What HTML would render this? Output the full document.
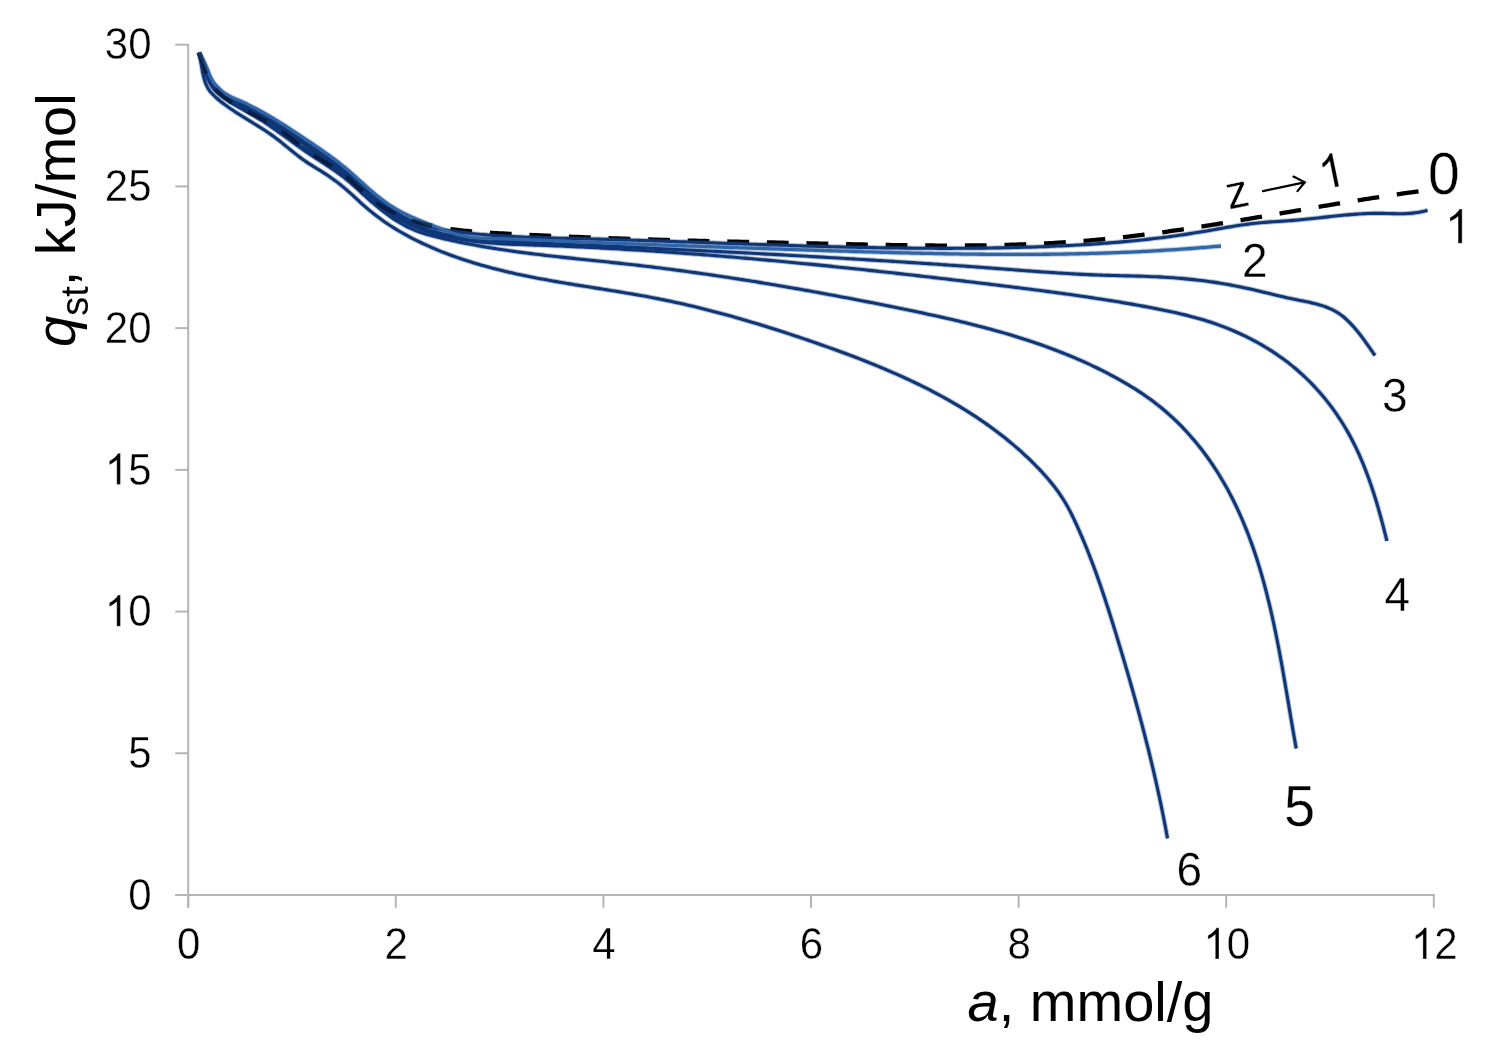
<!DOCTYPE html>
<html>
<head>
<meta charset="utf-8">
<style>
html, body { margin: 0; padding: 0; background: #fff; }
body { width: 1495px; height: 1056px; overflow: hidden; position: relative; }
svg { position: absolute; left: 0; top: 0; will-change: transform; }
text { font-family: "Liberation Sans", sans-serif; fill: #000; stroke: #fff; stroke-width: 0.35px; }
.one { fill: #000; stroke: #fff; stroke-width: 0.35px; }
#xtitle, #ytitle, #xtitle tspan, #ytitle tspan { stroke: none; }
</style>
</head>
<body>
<svg width="1495" height="1056" viewBox="0 0 1495 1056">
<rect x="0" y="0" width="1495" height="1056" fill="#fff"/>
<g>
<line x1="188.2" y1="43.7" x2="188.2" y2="907.7" stroke="#b4b4b4" stroke-width="2"/>
<line x1="175.3" y1="895.0" x2="1434.8" y2="895.0" stroke="#b4b4b4" stroke-width="2"/>
<line x1="175.3" y1="895.00" x2="188.2" y2="895.00" stroke="#b4b4b4" stroke-width="2"/>
<line x1="188.20" y1="895.0" x2="188.20" y2="907.7" stroke="#b4b4b4" stroke-width="2"/>
<line x1="175.3" y1="753.28" x2="188.2" y2="753.28" stroke="#b4b4b4" stroke-width="2"/>
<line x1="395.80" y1="895.0" x2="395.80" y2="907.7" stroke="#b4b4b4" stroke-width="2"/>
<line x1="175.3" y1="611.57" x2="188.2" y2="611.57" stroke="#b4b4b4" stroke-width="2"/>
<line x1="603.40" y1="895.0" x2="603.40" y2="907.7" stroke="#b4b4b4" stroke-width="2"/>
<line x1="175.3" y1="469.85" x2="188.2" y2="469.85" stroke="#b4b4b4" stroke-width="2"/>
<line x1="811.00" y1="895.0" x2="811.00" y2="907.7" stroke="#b4b4b4" stroke-width="2"/>
<line x1="175.3" y1="328.13" x2="188.2" y2="328.13" stroke="#b4b4b4" stroke-width="2"/>
<line x1="1018.60" y1="895.0" x2="1018.60" y2="907.7" stroke="#b4b4b4" stroke-width="2"/>
<line x1="175.3" y1="186.42" x2="188.2" y2="186.42" stroke="#b4b4b4" stroke-width="2"/>
<line x1="1226.20" y1="895.0" x2="1226.20" y2="907.7" stroke="#b4b4b4" stroke-width="2"/>
<line x1="175.3" y1="44.70" x2="188.2" y2="44.70" stroke="#b4b4b4" stroke-width="2"/>
<line x1="1433.80" y1="895.0" x2="1433.80" y2="907.7" stroke="#b4b4b4" stroke-width="2"/>
<g id="curves">
<path d="M198.95 52.53C199.19 53.15 199.91 55.00 200.37 56.24C200.83 57.49 201.27 58.75 201.71 60.01C202.14 61.27 202.57 62.54 203.00 63.81C203.43 65.08 203.85 66.36 204.29 67.63C204.73 68.90 205.17 70.17 205.64 71.43C206.10 72.69 206.58 73.95 207.09 75.18C207.61 76.41 208.15 77.64 208.75 78.82C209.35 80.01 210.00 81.17 210.69 82.30C211.39 83.43 212.14 84.52 212.93 85.59C213.72 86.65 214.56 87.69 215.43 88.69C216.30 89.70 217.21 90.67 218.14 91.62C219.08 92.56 220.05 93.48 221.04 94.36C222.03 95.25 223.04 96.11 224.08 96.94C225.11 97.78 226.17 98.58 227.24 99.36C228.31 100.15 229.41 100.91 230.51 101.65C231.62 102.39 232.74 103.11 233.87 103.81C235.01 104.52 236.16 105.20 237.31 105.88C238.47 106.55 239.64 107.21 240.82 107.86C242.00 108.51 243.18 109.14 244.37 109.78C245.56 110.41 246.76 111.03 247.96 111.65C249.16 112.27 250.37 112.88 251.57 113.50C252.78 114.11 253.99 114.72 255.19 115.34C256.39 115.95 257.60 116.57 258.80 117.19C260.00 117.81 261.20 118.44 262.38 119.08C263.57 119.71 264.76 120.35 265.93 121.01C267.11 121.66 268.28 122.33 269.43 123.01C270.59 123.69 271.73 124.38 272.86 125.10C273.99 125.81 275.11 126.54 276.22 127.29C277.32 128.03 278.42 128.79 279.50 129.57C280.59 130.34 281.66 131.13 282.73 131.93C283.80 132.72 284.85 133.53 285.91 134.34C286.97 135.15 288.02 135.97 289.07 136.79C290.11 137.62 291.16 138.44 292.20 139.27C293.25 140.09 294.29 140.92 295.34 141.75C296.39 142.57 297.44 143.39 298.49 144.21C299.55 145.02 300.61 145.83 301.67 146.63C302.74 147.43 303.81 148.23 304.89 149.01C305.97 149.79 307.07 150.56 308.17 151.31C309.27 152.07 310.38 152.81 311.50 153.54C312.62 154.27 313.74 154.99 314.87 155.70C316.00 156.42 317.13 157.12 318.26 157.82C319.39 158.51 320.52 159.20 321.65 159.89C322.77 160.58 323.89 161.26 325.01 161.95C326.13 162.64 327.24 163.32 328.34 164.01C329.45 164.70 330.55 165.39 331.65 166.10C332.74 166.80 333.83 167.51 334.92 168.24C336.00 168.96 337.08 169.70 338.15 170.45C339.22 171.21 340.29 171.98 341.35 172.77C342.41 173.57 343.47 174.38 344.51 175.22C345.56 176.06 346.60 176.93 347.64 177.81C348.68 178.70 349.71 179.61 350.74 180.54C351.77 181.46 352.79 182.40 353.82 183.35C354.85 184.29 355.87 185.25 356.90 186.20C357.92 187.16 358.95 188.12 359.98 189.07C361.01 190.02 362.04 190.97 363.08 191.91C364.12 192.84 365.17 193.77 366.22 194.68C367.27 195.58 368.33 196.47 369.39 197.34C370.46 198.20 371.54 199.04 372.62 199.86C373.70 200.69 374.80 201.49 375.90 202.26C376.99 203.04 378.10 203.80 379.22 204.54C380.33 205.28 381.46 205.99 382.59 206.69C383.71 207.39 384.85 208.07 386.00 208.72C387.14 209.38 388.29 210.02 389.45 210.64C390.61 211.27 391.78 211.87 392.95 212.45C394.12 213.04 395.30 213.61 396.48 214.16C397.67 214.71 398.86 215.24 400.06 215.76C401.25 216.27 402.46 216.77 403.67 217.26C404.88 217.74 406.09 218.21 407.31 218.66C408.53 219.12 409.76 219.55 410.99 219.98C412.22 220.40 413.46 220.81 414.70 221.20C415.94 221.59 417.19 221.97 418.44 222.34C419.70 222.71 420.95 223.06 422.21 223.40C423.48 223.74 424.74 224.07 426.01 224.38C427.28 224.70 428.56 225.00 429.84 225.29C431.12 225.58 432.40 225.86 433.69 226.13C434.97 226.40 436.27 226.66 437.56 226.91C438.85 227.15 440.15 227.39 441.45 227.62C442.76 227.85 444.06 228.06 445.37 228.27C446.68 228.48 447.99 228.68 449.30 228.87C450.62 229.06 451.93 229.24 453.25 229.42C454.57 229.59 455.89 229.76 457.22 229.92C458.54 230.08 459.87 230.23 461.20 230.38C462.53 230.52 463.86 230.66 465.19 230.80C466.52 230.93 467.86 231.06 469.19 231.18C470.53 231.30 471.87 231.41 473.21 231.53C474.55 231.64 475.89 231.74 477.23 231.85C478.57 231.95 479.92 232.05 481.26 232.14C482.60 232.24 483.95 232.33 485.29 232.42C486.64 232.51 487.98 232.59 489.33 232.68C490.68 232.76 492.02 232.84 493.37 232.92C494.72 233.00 496.06 233.08 497.41 233.15C498.76 233.23 500.10 233.31 501.45 233.38C502.80 233.46 504.14 233.53 505.49 233.61C506.83 233.68 508.18 233.75 509.52 233.83C510.87 233.90 512.21 233.97 513.56 234.04C514.90 234.11 516.25 234.18 517.59 234.25C518.93 234.32 520.28 234.39 521.62 234.46C522.97 234.53 524.31 234.60 525.65 234.67C526.99 234.73 528.34 234.80 529.68 234.87C531.02 234.93 532.36 235.00 533.71 235.07C535.05 235.13 536.39 235.20 537.73 235.26C539.07 235.32 540.42 235.39 541.76 235.45C543.10 235.51 544.44 235.57 545.78 235.64C547.12 235.70 548.46 235.76 549.80 235.82C551.14 235.88 552.48 235.94 553.82 236.00C555.16 236.06 556.50 236.12 557.84 236.18C559.18 236.24 560.52 236.29 561.86 236.35C563.20 236.41 564.53 236.47 565.87 236.52C567.21 236.58 568.55 236.63 569.89 236.69C571.23 236.75 572.56 236.80 573.90 236.85C575.24 236.91 576.58 236.96 577.91 237.02C579.25 237.07 580.59 237.12 581.93 237.18C583.26 237.23 584.60 237.28 585.94 237.33C587.27 237.38 588.61 237.43 589.95 237.48C591.28 237.54 592.62 237.59 593.95 237.64C595.29 237.69 596.63 237.73 597.96 237.78C599.30 237.83 600.63 237.88 601.97 237.93C603.30 237.98 604.64 238.02 605.97 238.07C607.31 238.12 608.64 238.17 609.98 238.21C611.31 238.26 612.65 238.30 613.98 238.35C615.32 238.39 616.65 238.44 617.99 238.48C619.32 238.53 620.65 238.57 621.99 238.62C623.32 238.66 624.66 238.71 625.99 238.75C627.32 238.79 628.66 238.83 629.99 238.88C631.32 238.92 632.66 238.96 633.99 239.00C635.32 239.04 636.66 239.09 637.99 239.13C639.32 239.17 640.66 239.21 641.99 239.25C643.32 239.29 644.66 239.33 645.99 239.37C647.32 239.41 648.65 239.45 649.99 239.49C651.32 239.53 652.65 239.57 653.98 239.60C655.32 239.64 656.65 239.68 657.98 239.72C659.31 239.76 660.64 239.80 661.98 239.83C663.31 239.87 664.64 239.91 665.97 239.94C667.30 239.98 668.64 240.02 669.97 240.05C671.30 240.09 672.63 240.13 673.96 240.16C675.29 240.20 676.63 240.23 677.96 240.27C679.29 240.30 680.62 240.34 681.95 240.37C683.28 240.41 684.61 240.44 685.95 240.48C687.28 240.51 688.61 240.54 689.94 240.58C691.27 240.61 692.60 240.65 693.93 240.68C695.26 240.71 696.60 240.75 697.93 240.78C699.26 240.81 700.59 240.85 701.92 240.88C703.25 240.91 704.58 240.94 705.91 240.98C707.24 241.01 708.58 241.04 709.91 241.07C711.24 241.10 712.57 241.14 713.90 241.17C715.23 241.20 716.56 241.23 717.89 241.26C719.22 241.29 720.55 241.32 721.89 241.35C723.22 241.39 724.55 241.42 725.88 241.45C727.21 241.48 728.54 241.51 729.87 241.54C731.20 241.57 732.53 241.60 733.86 241.63C735.20 241.66 736.53 241.69 737.86 241.72C739.19 241.75 740.52 241.78 741.85 241.81C743.18 241.84 744.51 241.87 745.85 241.90C747.18 241.93 748.51 241.96 749.84 241.99C751.17 242.02 752.50 242.05 753.83 242.08C755.16 242.11 756.50 242.14 757.83 242.17C759.16 242.20 760.49 242.22 761.82 242.25C763.15 242.28 764.49 242.31 765.82 242.34C767.15 242.37 768.48 242.40 769.81 242.43C771.14 242.46 772.48 242.49 773.81 242.52C775.14 242.54 776.47 242.57 777.80 242.60C779.14 242.63 780.47 242.66 781.80 242.69C783.13 242.72 784.47 242.75 785.80 242.78C787.13 242.81 788.46 242.83 789.80 242.86C791.13 242.89 792.46 242.92 793.79 242.95C795.13 242.98 796.46 243.01 797.79 243.04C799.13 243.07 800.46 243.10 801.79 243.13C803.13 243.15 804.46 243.18 805.79 243.21C807.13 243.24 808.46 243.27 809.79 243.30C811.13 243.33 812.46 243.36 813.80 243.39C815.13 243.42 816.46 243.45 817.80 243.48C819.13 243.51 820.47 243.54 821.80 243.57C823.14 243.60 824.47 243.63 825.81 243.66C827.14 243.69 828.48 243.72 829.81 243.75C831.15 243.78 832.48 243.81 833.82 243.84C835.15 243.87 836.49 243.90 837.82 243.93C839.16 243.96 840.49 243.99 841.83 244.02C843.16 244.05 844.50 244.08 845.84 244.11C847.17 244.14 848.51 244.17 849.84 244.20C851.18 244.23 852.52 244.26 853.85 244.29C855.19 244.32 856.52 244.35 857.86 244.37C859.20 244.40 860.53 244.43 861.87 244.46C863.21 244.49 864.54 244.52 865.88 244.54C867.22 244.57 868.55 244.60 869.89 244.62C871.23 244.65 872.57 244.68 873.90 244.70C875.24 244.73 876.58 244.76 877.91 244.78C879.25 244.81 880.59 244.83 881.93 244.86C883.26 244.88 884.60 244.91 885.94 244.93C887.27 244.95 888.61 244.98 889.95 245.00C891.29 245.02 892.62 245.05 893.96 245.07C895.30 245.09 896.64 245.11 897.97 245.13C899.31 245.15 900.65 245.17 901.99 245.19C903.33 245.21 904.66 245.23 906.00 245.25C907.34 245.27 908.68 245.28 910.01 245.30C911.35 245.32 912.69 245.33 914.03 245.35C915.37 245.36 916.70 245.38 918.04 245.39C919.38 245.41 920.72 245.42 922.05 245.43C923.39 245.45 924.73 245.46 926.07 245.47C927.41 245.48 928.74 245.49 930.08 245.50C931.42 245.51 932.76 245.52 934.09 245.52C935.43 245.53 936.77 245.54 938.11 245.54C939.45 245.55 940.78 245.55 942.12 245.56C943.46 245.56 944.80 245.57 946.13 245.57C947.47 245.57 948.81 245.57 950.15 245.57C951.48 245.57 952.82 245.57 954.16 245.57C955.50 245.57 956.83 245.56 958.17 245.56C959.51 245.55 960.85 245.55 962.18 245.54C963.52 245.54 964.86 245.53 966.20 245.52C967.53 245.51 968.87 245.50 970.21 245.49C971.54 245.48 972.88 245.47 974.22 245.45C975.56 245.44 976.89 245.43 978.23 245.41C979.57 245.39 980.90 245.38 982.24 245.36C983.58 245.34 984.91 245.32 986.25 245.30C987.59 245.28 988.92 245.26 990.26 245.23C991.60 245.21 992.93 245.18 994.27 245.16C995.60 245.13 996.94 245.10 998.28 245.07C999.61 245.04 1000.95 245.01 1002.28 244.98C1003.62 244.95 1004.96 244.92 1006.29 244.88C1007.63 244.85 1008.96 244.81 1010.30 244.77C1011.63 244.73 1012.97 244.69 1014.30 244.65C1015.64 244.61 1016.97 244.57 1018.31 244.52C1019.64 244.48 1020.98 244.43 1022.31 244.39C1023.65 244.34 1024.98 244.29 1026.32 244.24C1027.65 244.19 1028.99 244.13 1030.32 244.08C1031.65 244.03 1032.99 243.97 1034.32 243.91C1035.66 243.85 1036.99 243.80 1038.32 243.73C1039.66 243.67 1040.99 243.61 1042.32 243.55C1043.66 243.48 1044.99 243.41 1046.32 243.35C1047.66 243.28 1048.99 243.21 1050.32 243.14C1051.65 243.06 1052.99 242.99 1054.32 242.91C1055.65 242.84 1056.98 242.76 1058.31 242.68C1059.65 242.60 1060.98 242.52 1062.31 242.43C1063.64 242.35 1064.97 242.27 1066.30 242.18C1067.64 242.09 1068.97 242.00 1070.30 241.91C1071.63 241.82 1072.96 241.72 1074.29 241.63C1075.62 241.53 1076.95 241.43 1078.28 241.33C1079.61 241.23 1080.94 241.13 1082.27 241.03C1083.60 240.92 1084.93 240.82 1086.26 240.71C1087.59 240.60 1088.92 240.49 1090.25 240.38C1091.58 240.26 1092.90 240.15 1094.23 240.03C1095.56 239.91 1096.89 239.80 1098.22 239.67C1099.55 239.55 1100.87 239.43 1102.20 239.30C1103.53 239.18 1104.86 239.05 1106.18 238.92C1107.51 238.79 1108.84 238.65 1110.16 238.52C1111.49 238.39 1112.82 238.25 1114.14 238.11C1115.47 237.97 1116.80 237.83 1118.12 237.69C1119.45 237.55 1120.77 237.40 1122.10 237.25C1123.42 237.11 1124.75 236.96 1126.08 236.81C1127.40 236.66 1128.73 236.51 1130.05 236.35C1131.38 236.20 1132.70 236.04 1134.02 235.89C1135.35 235.73 1136.67 235.57 1138.00 235.41C1139.32 235.25 1140.65 235.08 1141.97 234.92C1143.29 234.75 1144.62 234.59 1145.94 234.42C1147.26 234.25 1148.59 234.08 1149.91 233.91C1151.23 233.74 1152.56 233.57 1153.88 233.39C1155.20 233.22 1156.53 233.04 1157.85 232.87C1159.17 232.69 1160.49 232.51 1161.81 232.33C1163.14 232.15 1164.46 231.97 1165.78 231.79C1167.10 231.60 1168.43 231.42 1169.75 231.23C1171.07 231.05 1172.39 230.86 1173.71 230.67C1175.03 230.48 1176.35 230.29 1177.68 230.10C1179.00 229.91 1180.32 229.72 1181.64 229.52C1182.96 229.33 1184.28 229.14 1185.60 228.94C1186.92 228.74 1188.24 228.55 1189.56 228.35C1190.88 228.15 1192.20 227.95 1193.52 227.75C1194.84 227.55 1196.16 227.35 1197.48 227.14C1198.80 226.94 1200.12 226.74 1201.44 226.53C1202.76 226.33 1204.08 226.12 1205.40 225.91C1206.72 225.71 1208.04 225.50 1209.36 225.29C1210.68 225.08 1212.00 224.87 1213.32 224.66C1214.64 224.45 1215.96 224.24 1217.28 224.03C1218.60 223.82 1219.91 223.60 1221.23 223.39C1222.55 223.18 1223.87 222.96 1225.19 222.75C1226.51 222.53 1227.83 222.32 1229.15 222.10C1230.46 221.88 1231.78 221.67 1233.10 221.45C1234.42 221.23 1235.74 221.01 1237.06 220.79C1238.37 220.57 1239.69 220.35 1241.01 220.13C1242.33 219.91 1243.65 219.69 1244.96 219.47C1246.28 219.25 1247.60 219.03 1248.92 218.81C1250.24 218.58 1251.55 218.36 1252.87 218.14C1254.19 217.91 1255.51 217.69 1256.83 217.47C1258.14 217.24 1259.46 217.02 1260.78 216.79C1262.10 216.57 1263.41 216.35 1264.73 216.12C1266.05 215.90 1267.37 215.67 1268.68 215.44C1270.00 215.22 1271.32 214.99 1272.64 214.77C1273.95 214.54 1275.27 214.32 1276.59 214.09C1277.91 213.86 1279.22 213.64 1280.54 213.41C1281.86 213.18 1283.18 212.96 1284.49 212.73C1285.81 212.50 1287.13 212.28 1288.45 212.05C1289.76 211.82 1291.08 211.60 1292.40 211.37C1293.72 211.14 1295.03 210.92 1296.35 210.69C1297.67 210.47 1298.99 210.24 1300.30 210.01C1301.62 209.79 1302.94 209.56 1304.26 209.34C1305.57 209.11 1306.89 208.88 1308.21 208.66C1309.52 208.43 1310.84 208.21 1312.16 207.98C1313.48 207.76 1314.79 207.53 1316.11 207.31C1317.43 207.09 1318.75 206.86 1320.06 206.64C1321.38 206.41 1322.70 206.19 1324.02 205.97C1325.34 205.75 1326.65 205.52 1327.97 205.30C1329.29 205.08 1330.61 204.86 1331.92 204.64C1333.24 204.42 1334.56 204.20 1335.88 203.98C1337.19 203.76 1338.51 203.54 1339.83 203.32C1341.15 203.10 1342.47 202.88 1343.78 202.67C1345.10 202.45 1346.42 202.23 1347.74 202.02C1349.06 201.80 1350.38 201.59 1351.69 201.37C1353.01 201.16 1354.33 200.94 1355.65 200.73C1356.97 200.52 1358.29 200.31 1359.60 200.09C1360.92 199.88 1362.24 199.67 1363.56 199.46C1364.88 199.25 1366.20 199.04 1367.52 198.84C1368.83 198.63 1370.15 198.42 1371.47 198.22C1372.79 198.01 1374.11 197.81 1375.43 197.60C1376.75 197.40 1378.07 197.20 1379.39 196.99C1380.71 196.79 1382.03 196.59 1383.35 196.39C1384.67 196.19 1385.99 195.99 1387.30 195.80C1388.62 195.60 1389.94 195.40 1391.26 195.21C1392.58 195.01 1393.90 194.82 1395.22 194.63C1396.54 194.43 1397.87 194.24 1399.19 194.05C1400.51 193.86 1401.83 193.67 1403.15 193.49C1404.47 193.30 1405.79 193.11 1407.11 192.93C1408.43 192.75 1409.75 192.56 1411.07 192.38C1412.39 192.20 1413.71 192.02 1415.04 191.84C1416.36 191.66 1418.34 191.40 1419.00 191.31C1419.66 191.22 1419.00 191.31 1419.00 191.31" fill="none" stroke="#000" stroke-width="4.3" stroke-dasharray="21.8 17.8" stroke-dashoffset="39.05"/>
<path d="M198.96 52.53C199.13 53.34 199.66 55.76 199.99 57.39C200.31 59.02 200.60 60.66 200.89 62.30C201.18 63.95 201.45 65.61 201.74 67.27C202.03 68.92 202.30 70.59 202.63 72.25C202.96 73.90 203.30 75.56 203.72 77.19C204.13 78.83 204.58 80.46 205.13 82.03C205.69 83.60 206.30 85.16 207.05 86.62C207.80 88.08 208.65 89.48 209.63 90.80C210.60 92.12 211.72 93.35 212.87 94.55C214.02 95.74 215.28 96.86 216.54 97.97C217.79 99.08 219.09 100.14 220.39 101.20C221.69 102.25 223.02 103.27 224.35 104.28C225.69 105.28 227.05 106.26 228.41 107.23C229.78 108.20 231.16 109.14 232.55 110.08C233.93 111.01 235.34 111.93 236.74 112.84C238.15 113.75 239.57 114.64 240.99 115.54C242.41 116.43 243.84 117.31 245.26 118.19C246.69 119.07 248.13 119.94 249.56 120.82C250.99 121.70 252.42 122.57 253.85 123.45C255.28 124.33 256.70 125.21 258.12 126.10C259.54 126.99 260.96 127.88 262.37 128.78C263.77 129.69 265.18 130.60 266.56 131.53C267.95 132.46 269.33 133.40 270.70 134.36C272.06 135.32 273.42 136.29 274.76 137.29C276.09 138.28 277.42 139.30 278.73 140.32C280.05 141.34 281.35 142.39 282.65 143.43C283.95 144.48 285.24 145.53 286.53 146.59C287.82 147.64 289.11 148.70 290.40 149.75C291.70 150.80 292.99 151.86 294.30 152.90C295.60 153.94 296.91 154.97 298.23 155.99C299.55 157.01 300.88 158.02 302.23 159.00C303.58 159.98 304.94 160.95 306.32 161.89C307.70 162.83 309.11 163.74 310.52 164.64C311.93 165.54 313.37 166.41 314.80 167.29C316.23 168.17 317.67 169.04 319.10 169.92C320.53 170.80 321.96 171.68 323.37 172.58C324.79 173.48 326.19 174.40 327.58 175.33C328.97 176.27 330.35 177.22 331.71 178.18C333.08 179.15 334.43 180.13 335.77 181.13C337.11 182.13 338.44 183.14 339.75 184.17C341.06 185.20 342.36 186.25 343.64 187.32C344.93 188.38 346.20 189.47 347.45 190.56C348.71 191.66 349.95 192.77 351.19 193.89C352.43 195.01 353.65 196.14 354.88 197.27C356.11 198.40 357.33 199.54 358.56 200.67C359.79 201.80 361.02 202.94 362.25 204.06C363.49 205.18 364.73 206.29 365.99 207.39C367.25 208.49 368.52 209.58 369.80 210.64C371.09 211.71 372.39 212.76 373.70 213.79C375.01 214.83 376.34 215.85 377.68 216.85C379.01 217.85 380.37 218.83 381.73 219.80C383.09 220.77 384.47 221.73 385.85 222.67C387.24 223.61 388.64 224.53 390.04 225.44C391.45 226.35 392.87 227.24 394.29 228.12C395.72 229.00 397.15 229.87 398.60 230.72C400.04 231.57 401.49 232.41 402.95 233.24C404.41 234.06 405.88 234.87 407.35 235.67C408.82 236.47 410.30 237.25 411.79 238.02C413.27 238.79 414.76 239.55 416.26 240.30C417.75 241.05 419.25 241.78 420.76 242.50C422.26 243.23 423.77 243.93 425.29 244.63C426.80 245.33 428.32 246.02 429.84 246.69C431.37 247.37 432.90 248.03 434.43 248.68C435.96 249.34 437.50 249.98 439.04 250.61C440.58 251.24 442.13 251.86 443.68 252.46C445.23 253.07 446.78 253.67 448.34 254.26C449.90 254.85 451.46 255.42 453.02 255.99C454.59 256.56 456.16 257.11 457.73 257.66C459.30 258.21 460.88 258.75 462.46 259.28C464.04 259.81 465.62 260.32 467.20 260.83C468.79 261.34 470.38 261.84 471.97 262.34C473.56 262.83 475.16 263.31 476.75 263.79C478.35 264.26 479.95 264.73 481.55 265.19C483.16 265.64 484.76 266.09 486.37 266.54C487.98 266.98 489.59 267.41 491.20 267.84C492.81 268.26 494.43 268.68 496.04 269.09C497.66 269.51 499.28 269.91 500.90 270.31C502.52 270.70 504.14 271.09 505.77 271.48C507.39 271.86 509.02 272.24 510.65 272.61C512.28 272.98 513.91 273.34 515.54 273.70C517.17 274.06 518.80 274.41 520.44 274.76C522.07 275.11 523.71 275.45 525.35 275.79C526.98 276.12 528.62 276.45 530.26 276.78C531.90 277.11 533.54 277.43 535.19 277.74C536.83 278.06 538.47 278.37 540.12 278.68C541.76 278.99 543.41 279.29 545.06 279.60C546.70 279.90 548.35 280.19 550.00 280.49C551.65 280.78 553.30 281.07 554.95 281.36C556.60 281.65 558.25 281.93 559.90 282.21C561.56 282.49 563.21 282.77 564.86 283.05C566.51 283.33 568.17 283.60 569.82 283.87C571.48 284.15 573.13 284.42 574.79 284.69C576.44 284.95 578.10 285.22 579.75 285.49C581.41 285.76 583.06 286.02 584.72 286.29C586.37 286.55 588.03 286.81 589.69 287.08C591.34 287.34 593.00 287.60 594.65 287.87C596.31 288.13 597.97 288.39 599.62 288.65C601.28 288.92 602.93 289.18 604.59 289.45C606.24 289.71 607.90 289.97 609.55 290.24C611.21 290.51 612.86 290.77 614.51 291.04C616.17 291.31 617.82 291.58 619.47 291.85C621.12 292.12 622.78 292.39 624.43 292.67C626.08 292.94 627.73 293.22 629.38 293.50C631.03 293.78 632.68 294.06 634.32 294.35C635.97 294.63 637.62 294.92 639.27 295.21C640.91 295.50 642.56 295.80 644.20 296.10C645.84 296.39 647.49 296.70 649.13 297.00C650.77 297.31 652.41 297.62 654.05 297.93C655.68 298.24 657.32 298.56 658.96 298.88C660.59 299.21 662.23 299.53 663.86 299.87C665.49 300.20 667.13 300.54 668.76 300.88C670.39 301.22 672.01 301.56 673.64 301.92C675.27 302.27 676.89 302.62 678.52 302.98C680.14 303.34 681.77 303.70 683.39 304.07C685.01 304.44 686.63 304.81 688.25 305.19C689.87 305.57 691.49 305.95 693.10 306.34C694.72 306.72 696.34 307.11 697.95 307.51C699.57 307.90 701.18 308.30 702.79 308.70C704.41 309.10 706.02 309.51 707.63 309.92C709.24 310.33 710.85 310.74 712.46 311.16C714.06 311.58 715.67 312.00 717.28 312.43C718.88 312.85 720.49 313.28 722.09 313.72C723.70 314.15 725.30 314.59 726.91 315.03C728.51 315.47 730.11 315.91 731.71 316.36C733.31 316.81 734.91 317.26 736.51 317.72C738.11 318.17 739.71 318.63 741.31 319.09C742.91 319.55 744.51 320.02 746.10 320.49C747.70 320.96 749.29 321.43 750.89 321.90C752.49 322.38 754.08 322.86 755.67 323.34C757.27 323.82 758.86 324.31 760.46 324.79C762.05 325.28 763.64 325.77 765.23 326.27C766.83 326.76 768.42 327.26 770.01 327.76C771.60 328.26 773.19 328.76 774.78 329.26C776.37 329.77 777.96 330.28 779.55 330.79C781.14 331.30 782.73 331.81 784.32 332.33C785.91 332.85 787.50 333.37 789.09 333.89C790.67 334.41 792.26 334.93 793.85 335.46C795.44 335.99 797.03 336.52 798.61 337.05C800.20 337.58 801.79 338.11 803.38 338.65C804.96 339.19 806.55 339.73 808.14 340.27C809.73 340.81 811.31 341.35 812.90 341.90C814.49 342.44 816.07 342.99 817.66 343.54C819.25 344.09 820.83 344.64 822.42 345.20C824.00 345.76 825.59 346.31 827.17 346.88C828.76 347.44 830.34 348.00 831.92 348.57C833.51 349.14 835.09 349.71 836.67 350.28C838.25 350.85 839.83 351.43 841.41 352.01C842.99 352.59 844.57 353.17 846.15 353.76C847.72 354.35 849.30 354.94 850.87 355.53C852.45 356.12 854.02 356.72 855.59 357.32C857.16 357.92 858.73 358.53 860.30 359.14C861.87 359.75 863.43 360.36 865.00 360.98C866.56 361.59 868.13 362.21 869.69 362.84C871.25 363.46 872.81 364.09 874.37 364.73C875.92 365.36 877.48 366.00 879.03 366.64C880.58 367.29 882.13 367.93 883.68 368.59C885.23 369.24 886.77 369.89 888.32 370.56C889.86 371.22 891.40 371.88 892.94 372.56C894.47 373.23 896.01 373.90 897.54 374.59C899.07 375.27 900.60 375.95 902.13 376.65C903.66 377.34 905.18 378.04 906.70 378.74C908.22 379.44 909.74 380.15 911.25 380.86C912.76 381.58 914.28 382.30 915.78 383.02C917.29 383.75 918.79 384.48 920.29 385.22C921.79 385.95 923.29 386.70 924.78 387.45C926.28 388.20 927.76 388.95 929.25 389.71C930.73 390.48 932.22 391.24 933.69 392.02C935.17 392.79 936.64 393.57 938.11 394.36C939.58 395.15 941.05 395.94 942.51 396.74C943.97 397.54 945.43 398.35 946.88 399.16C948.33 399.98 949.78 400.80 951.22 401.62C952.66 402.45 954.10 403.29 955.53 404.13C956.97 404.97 958.40 405.82 959.82 406.68C961.25 407.53 962.66 408.40 964.08 409.27C965.49 410.14 966.90 411.02 968.31 411.90C969.71 412.79 971.11 413.69 972.50 414.59C973.89 415.49 975.28 416.40 976.66 417.32C978.05 418.23 979.42 419.16 980.80 420.09C982.17 421.03 983.53 421.97 984.89 422.92C986.25 423.87 987.61 424.83 988.96 425.79C990.30 426.76 991.65 427.73 992.98 428.72C994.32 429.70 995.65 430.69 996.97 431.69C998.30 432.69 999.62 433.70 1000.93 434.72C1002.24 435.74 1003.54 436.77 1004.84 437.80C1006.14 438.84 1007.43 439.88 1008.72 440.94C1010.00 441.99 1011.28 443.06 1012.56 444.13C1013.83 445.20 1015.09 446.28 1016.35 447.38C1017.61 448.47 1018.86 449.57 1020.11 450.68C1021.35 451.79 1022.59 452.91 1023.82 454.04C1025.05 455.17 1026.27 456.31 1027.48 457.46C1028.70 458.61 1029.91 459.77 1031.11 460.94C1032.31 462.11 1033.50 463.29 1034.69 464.48C1035.87 465.67 1037.05 466.87 1038.22 468.08C1039.38 469.29 1040.54 470.52 1041.69 471.75C1042.83 472.98 1043.97 474.23 1045.08 475.48C1046.20 476.74 1047.31 478.01 1048.40 479.29C1049.49 480.57 1050.56 481.86 1051.62 483.17C1052.68 484.47 1053.72 485.79 1054.73 487.12C1055.75 488.45 1056.75 489.80 1057.73 491.16C1058.71 492.52 1059.67 493.89 1060.60 495.27C1061.53 496.66 1062.44 498.06 1063.33 499.47C1064.21 500.89 1065.07 502.32 1065.91 503.76C1066.75 505.20 1067.56 506.66 1068.36 508.13C1069.15 509.59 1069.93 511.07 1070.69 512.55C1071.45 514.04 1072.19 515.54 1072.92 517.04C1073.65 518.54 1074.36 520.05 1075.07 521.56C1075.77 523.07 1076.47 524.59 1077.16 526.11C1077.85 527.63 1078.53 529.16 1079.20 530.68C1079.87 532.21 1080.54 533.74 1081.20 535.27C1081.86 536.80 1082.52 538.34 1083.16 539.87C1083.81 541.41 1084.45 542.95 1085.08 544.50C1085.72 546.04 1086.34 547.58 1086.97 549.13C1087.59 550.68 1088.20 552.23 1088.81 553.78C1089.42 555.33 1090.03 556.89 1090.62 558.44C1091.22 560.00 1091.81 561.56 1092.40 563.12C1092.99 564.68 1093.57 566.25 1094.15 567.81C1094.73 569.38 1095.30 570.94 1095.87 572.51C1096.43 574.08 1097.00 575.65 1097.55 577.23C1098.11 578.80 1098.67 580.37 1099.21 581.95C1099.76 583.53 1100.31 585.10 1100.85 586.68C1101.39 588.26 1101.93 589.84 1102.46 591.42C1103.00 593.01 1103.53 594.59 1104.05 596.18C1104.58 597.76 1105.10 599.35 1105.62 600.93C1106.14 602.52 1106.66 604.11 1107.17 605.70C1107.68 607.29 1108.19 608.88 1108.70 610.47C1109.21 612.06 1109.71 613.66 1110.22 615.25C1110.72 616.84 1111.22 618.44 1111.72 620.03C1112.22 621.63 1112.71 623.22 1113.21 624.82C1113.70 626.42 1114.19 628.01 1114.68 629.61C1115.17 631.21 1115.66 632.81 1116.15 634.41C1116.64 636.01 1117.12 637.60 1117.61 639.20C1118.09 640.80 1118.58 642.40 1119.06 644.00C1119.54 645.60 1120.02 647.20 1120.50 648.80C1120.98 650.41 1121.46 652.01 1121.94 653.61C1122.42 655.21 1122.89 656.81 1123.37 658.41C1123.84 660.02 1124.31 661.62 1124.79 663.22C1125.26 664.82 1125.73 666.43 1126.20 668.03C1126.66 669.63 1127.13 671.24 1127.60 672.84C1128.06 674.45 1128.53 676.05 1128.99 677.66C1129.45 679.26 1129.91 680.87 1130.37 682.48C1130.83 684.08 1131.29 685.69 1131.74 687.30C1132.20 688.90 1132.65 690.51 1133.10 692.12C1133.56 693.73 1134.01 695.33 1134.45 696.94C1134.90 698.55 1135.35 700.16 1135.79 701.77C1136.24 703.38 1136.68 704.99 1137.12 706.60C1137.56 708.21 1138.00 709.83 1138.44 711.44C1138.87 713.05 1139.31 714.66 1139.74 716.27C1140.18 717.89 1140.61 719.50 1141.03 721.11C1141.46 722.73 1141.89 724.34 1142.31 725.96C1142.74 727.57 1143.16 729.19 1143.58 730.80C1144.00 732.42 1144.42 734.04 1144.83 735.65C1145.25 737.27 1145.66 738.89 1146.07 740.51C1146.48 742.13 1146.89 743.75 1147.30 745.36C1147.70 746.98 1148.11 748.60 1148.51 750.23C1148.91 751.85 1149.31 753.47 1149.71 755.09C1150.10 756.71 1150.50 758.33 1150.89 759.96C1151.28 761.58 1151.67 763.20 1152.05 764.83C1152.44 766.45 1152.82 768.08 1153.21 769.70C1153.59 771.33 1153.96 772.96 1154.34 774.58C1154.72 776.21 1155.09 777.84 1155.46 779.47C1155.83 781.09 1156.20 782.72 1156.56 784.35C1156.93 785.98 1157.29 787.61 1157.65 789.24C1158.01 790.88 1158.36 792.51 1158.71 794.14C1159.07 795.77 1159.42 797.41 1159.77 799.04C1160.11 800.67 1160.46 802.31 1160.80 803.94C1161.14 805.58 1161.48 807.22 1161.81 808.85C1162.15 810.49 1162.48 812.13 1162.81 813.77C1163.14 815.40 1163.46 817.04 1163.79 818.68C1164.11 820.32 1164.43 821.96 1164.74 823.61C1165.06 825.25 1165.37 826.89 1165.68 828.53C1165.99 830.17 1166.30 831.82 1166.60 833.46C1166.91 835.11 1167.35 837.58 1167.50 838.40" fill="none" stroke="#0f3778" stroke-opacity="0.3" stroke-width="5.1" stroke-linejoin="round"/>
<path d="M198.96 52.51C199.20 53.31 199.91 55.71 200.39 57.30C200.87 58.89 201.35 60.49 201.85 62.08C202.35 63.67 202.86 65.25 203.39 66.83C203.92 68.41 204.46 69.99 205.03 71.56C205.60 73.13 206.19 74.70 206.83 76.25C207.46 77.80 208.11 79.35 208.84 80.85C209.57 82.35 210.33 83.84 211.20 85.24C212.06 86.65 212.99 88.01 214.04 89.28C215.09 90.55 216.26 91.73 217.49 92.86C218.72 93.98 220.08 95.00 221.41 96.01C222.75 97.02 224.13 97.99 225.52 98.94C226.90 99.89 228.29 100.80 229.70 101.70C231.11 102.61 232.53 103.48 233.95 104.35C235.38 105.21 236.82 106.05 238.26 106.89C239.70 107.73 241.16 108.55 242.61 109.37C244.06 110.19 245.52 111.00 246.98 111.82C248.43 112.64 249.89 113.45 251.33 114.28C252.78 115.11 254.22 115.94 255.66 116.79C257.09 117.64 258.51 118.51 259.92 119.39C261.33 120.27 262.73 121.16 264.13 122.07C265.52 122.98 266.91 123.90 268.29 124.82C269.67 125.75 271.04 126.69 272.40 127.64C273.77 128.59 275.13 129.55 276.49 130.51C277.85 131.47 279.20 132.44 280.55 133.41C281.90 134.38 283.25 135.36 284.60 136.34C285.95 137.31 287.29 138.30 288.64 139.28C289.99 140.26 291.33 141.24 292.68 142.22C294.03 143.20 295.38 144.17 296.74 145.15C298.09 146.12 299.45 147.09 300.81 148.05C302.18 149.01 303.54 149.97 304.92 150.92C306.29 151.87 307.67 152.81 309.06 153.74C310.45 154.67 311.84 155.60 313.24 156.52C314.63 157.44 316.04 158.35 317.44 159.26C318.84 160.17 320.24 161.08 321.64 161.99C323.04 162.90 324.44 163.81 325.84 164.73C327.23 165.65 328.62 166.57 330.00 167.50C331.39 168.43 332.76 169.36 334.13 170.31C335.50 171.26 336.85 172.21 338.20 173.19C339.54 174.16 340.88 175.14 342.19 176.14C343.51 177.15 344.81 178.16 346.10 179.20C347.38 180.24 348.65 181.30 349.91 182.37C351.17 183.44 352.41 184.53 353.65 185.63C354.89 186.72 356.12 187.83 357.35 188.95C358.57 190.06 359.80 191.18 361.02 192.31C362.25 193.43 363.48 194.56 364.71 195.68C365.95 196.80 367.18 197.93 368.43 199.05C369.69 200.16 370.94 201.28 372.22 202.38C373.49 203.48 374.77 204.58 376.06 205.66C377.35 206.74 378.66 207.82 379.97 208.87C381.29 209.93 382.61 210.98 383.95 212.00C385.29 213.02 386.64 214.03 388.01 215.02C389.37 216.01 390.75 216.98 392.14 217.92C393.53 218.86 394.93 219.78 396.34 220.67C397.76 221.56 399.19 222.43 400.63 223.27C402.08 224.10 403.54 224.91 405.01 225.69C406.48 226.46 407.97 227.20 409.47 227.91C410.97 228.61 412.49 229.28 414.02 229.92C415.55 230.55 417.10 231.14 418.66 231.70C420.22 232.27 421.80 232.80 423.38 233.30C424.96 233.81 426.56 234.28 428.16 234.74C429.76 235.20 431.37 235.63 432.98 236.05C434.59 236.47 436.21 236.87 437.83 237.27C439.45 237.67 441.07 238.06 442.70 238.44C444.32 238.82 445.95 239.19 447.57 239.56C449.20 239.93 450.82 240.29 452.45 240.64C454.08 241.00 455.71 241.34 457.34 241.69C458.97 242.03 460.60 242.36 462.23 242.69C463.87 243.02 465.50 243.34 467.14 243.66C468.77 243.98 470.41 244.29 472.04 244.60C473.68 244.90 475.32 245.20 476.96 245.50C478.59 245.80 480.23 246.09 481.88 246.37C483.52 246.66 485.16 246.94 486.80 247.21C488.44 247.49 490.08 247.76 491.73 248.02C493.37 248.29 495.02 248.55 496.66 248.81C498.31 249.06 499.95 249.31 501.60 249.56C503.25 249.81 504.90 250.05 506.55 250.29C508.19 250.53 509.84 250.77 511.49 251.00C513.14 251.23 514.79 251.46 516.44 251.69C518.10 251.91 519.75 252.14 521.40 252.35C523.05 252.57 524.70 252.79 526.36 253.00C528.01 253.21 529.66 253.42 531.32 253.63C532.97 253.83 534.63 254.04 536.28 254.24C537.94 254.44 539.59 254.64 541.25 254.83C542.91 255.03 544.56 255.22 546.22 255.42C547.88 255.61 549.53 255.80 551.19 255.99C552.85 256.17 554.51 256.36 556.17 256.54C557.82 256.73 559.48 256.91 561.14 257.09C562.80 257.27 564.46 257.45 566.12 257.63C567.78 257.81 569.44 257.99 571.10 258.16C572.75 258.34 574.41 258.52 576.07 258.69C577.73 258.87 579.39 259.04 581.05 259.21C582.71 259.39 584.37 259.56 586.03 259.73C587.69 259.91 589.35 260.08 591.01 260.25C592.67 260.42 594.33 260.60 595.99 260.77C597.65 260.94 599.31 261.12 600.97 261.29C602.63 261.46 604.29 261.64 605.95 261.81C607.61 261.99 609.27 262.16 610.93 262.34C612.59 262.51 614.25 262.69 615.91 262.87C617.56 263.05 619.22 263.22 620.88 263.41C622.54 263.59 624.20 263.77 625.85 263.95C627.51 264.13 629.17 264.32 630.83 264.51C632.48 264.69 634.14 264.88 635.80 265.07C637.45 265.26 639.11 265.45 640.76 265.65C642.42 265.84 644.08 266.04 645.73 266.23C647.39 266.43 649.04 266.63 650.69 266.83C652.35 267.03 654.00 267.23 655.66 267.44C657.31 267.64 658.96 267.85 660.62 268.06C662.27 268.26 663.92 268.47 665.58 268.68C667.23 268.89 668.88 269.11 670.53 269.32C672.18 269.53 673.84 269.75 675.49 269.97C677.14 270.18 678.79 270.40 680.44 270.62C682.09 270.85 683.74 271.07 685.39 271.29C687.04 271.51 688.69 271.74 690.34 271.97C691.99 272.19 693.64 272.42 695.29 272.65C696.94 272.88 698.59 273.11 700.24 273.35C701.88 273.58 703.53 273.82 705.18 274.05C706.83 274.29 708.48 274.53 710.12 274.76C711.77 275.00 713.42 275.25 715.07 275.49C716.71 275.73 718.36 275.97 720.01 276.22C721.65 276.46 723.30 276.71 724.95 276.96C726.59 277.21 728.24 277.46 729.88 277.71C731.53 277.96 733.18 278.21 734.82 278.47C736.47 278.72 738.11 278.98 739.76 279.23C741.40 279.49 743.05 279.75 744.69 280.01C746.34 280.27 747.98 280.53 749.62 280.79C751.27 281.05 752.91 281.32 754.56 281.58C756.20 281.85 757.84 282.12 759.49 282.38C761.13 282.65 762.77 282.92 764.42 283.19C766.06 283.46 767.70 283.74 769.35 284.01C770.99 284.28 772.63 284.56 774.27 284.83C775.92 285.11 777.56 285.39 779.20 285.67C780.84 285.94 782.48 286.22 784.13 286.51C785.77 286.79 787.41 287.07 789.05 287.35C790.69 287.64 792.33 287.92 793.98 288.21C795.62 288.50 797.26 288.78 798.90 289.07C800.54 289.36 802.18 289.65 803.82 289.94C805.46 290.23 807.10 290.53 808.74 290.82C810.39 291.11 812.03 291.41 813.67 291.70C815.31 292.00 816.95 292.30 818.59 292.60C820.23 292.90 821.87 293.19 823.51 293.50C825.15 293.80 826.79 294.10 828.43 294.40C830.07 294.71 831.71 295.01 833.35 295.31C834.99 295.62 836.63 295.93 838.26 296.23C839.90 296.54 841.54 296.85 843.18 297.16C844.82 297.47 846.46 297.78 848.10 298.09C849.74 298.41 851.38 298.72 853.02 299.03C854.66 299.35 856.30 299.66 857.94 299.98C859.57 300.30 861.21 300.61 862.85 300.93C864.49 301.25 866.13 301.57 867.77 301.89C869.41 302.21 871.05 302.53 872.69 302.85C874.32 303.18 875.96 303.50 877.60 303.83C879.24 304.15 880.88 304.48 882.52 304.80C884.16 305.13 885.80 305.46 887.43 305.78C889.07 306.11 890.71 306.44 892.35 306.77C893.99 307.10 895.63 307.43 897.27 307.77C898.91 308.10 900.54 308.43 902.18 308.77C903.82 309.10 905.46 309.44 907.10 309.77C908.74 310.11 910.37 310.45 912.01 310.79C913.65 311.13 915.29 311.47 916.92 311.82C918.56 312.16 920.20 312.51 921.83 312.85C923.47 313.20 925.10 313.55 926.74 313.90C928.37 314.26 930.01 314.61 931.64 314.97C933.27 315.32 934.91 315.68 936.54 316.04C938.17 316.40 939.80 316.77 941.44 317.13C943.07 317.50 944.70 317.87 946.33 318.24C947.96 318.61 949.58 318.98 951.21 319.36C952.84 319.74 954.47 320.12 956.09 320.50C957.72 320.89 959.34 321.27 960.97 321.66C962.59 322.05 964.21 322.45 965.83 322.84C967.45 323.24 969.07 323.64 970.69 324.04C972.31 324.45 973.93 324.86 975.55 325.27C977.16 325.68 978.78 326.10 980.39 326.51C982.00 326.93 983.62 327.36 985.23 327.79C986.84 328.21 988.45 328.65 990.05 329.08C991.66 329.52 993.27 329.96 994.87 330.40C996.48 330.85 998.08 331.30 999.68 331.75C1001.28 332.21 1002.88 332.67 1004.48 333.13C1006.08 333.60 1007.67 334.06 1009.26 334.54C1010.86 335.01 1012.45 335.49 1014.04 335.98C1015.63 336.46 1017.22 336.95 1018.80 337.45C1020.39 337.94 1021.98 338.44 1023.56 338.95C1025.14 339.45 1026.72 339.97 1028.30 340.48C1029.87 341.00 1031.45 341.52 1033.02 342.05C1034.60 342.58 1036.17 343.12 1037.73 343.66C1039.30 344.20 1040.87 344.75 1042.43 345.30C1044.00 345.85 1045.56 346.41 1047.12 346.98C1048.68 347.55 1050.23 348.12 1051.79 348.70C1053.34 349.28 1054.89 349.86 1056.44 350.45C1057.99 351.05 1059.53 351.65 1061.08 352.25C1062.62 352.86 1064.16 353.47 1065.70 354.09C1067.24 354.71 1068.77 355.34 1070.30 355.98C1071.83 356.61 1073.36 357.25 1074.89 357.90C1076.41 358.55 1077.94 359.21 1079.46 359.88C1080.98 360.54 1082.49 361.21 1084.01 361.89C1085.52 362.57 1087.03 363.26 1088.54 363.96C1090.05 364.65 1091.55 365.36 1093.05 366.07C1094.55 366.78 1096.05 367.50 1097.55 368.23C1099.04 368.96 1100.53 369.70 1102.02 370.44C1103.51 371.19 1104.99 371.94 1106.47 372.71C1107.95 373.47 1109.43 374.24 1110.90 375.02C1112.37 375.80 1113.84 376.59 1115.31 377.39C1116.77 378.19 1118.24 379.00 1119.69 379.82C1121.15 380.63 1122.60 381.46 1124.04 382.30C1125.49 383.14 1126.93 383.99 1128.36 384.85C1129.80 385.71 1131.23 386.57 1132.65 387.46C1134.07 388.34 1135.48 389.23 1136.89 390.13C1138.30 391.04 1139.70 391.95 1141.09 392.88C1142.48 393.81 1143.86 394.75 1145.24 395.70C1146.61 396.66 1147.98 397.62 1149.33 398.60C1150.69 399.58 1152.04 400.57 1153.38 401.57C1154.71 402.58 1156.04 403.60 1157.36 404.63C1158.68 405.66 1159.98 406.71 1161.28 407.77C1162.58 408.83 1163.86 409.91 1165.14 411.00C1166.41 412.08 1167.67 413.19 1168.92 414.30C1170.17 415.42 1171.41 416.55 1172.64 417.69C1173.87 418.84 1175.09 419.99 1176.29 421.16C1177.50 422.33 1178.69 423.51 1179.87 424.70C1181.06 425.89 1182.23 427.09 1183.39 428.31C1184.54 429.52 1185.69 430.75 1186.83 431.98C1187.96 433.22 1189.08 434.47 1190.19 435.72C1191.30 436.98 1192.40 438.25 1193.49 439.53C1194.58 440.80 1195.65 442.09 1196.71 443.38C1197.77 444.68 1198.82 445.98 1199.86 447.30C1200.90 448.61 1201.92 449.93 1202.94 451.26C1203.95 452.59 1204.95 453.93 1205.93 455.27C1206.92 456.61 1207.90 457.97 1208.86 459.33C1209.82 460.68 1210.77 462.05 1211.70 463.42C1212.64 464.79 1213.56 466.17 1214.47 467.56C1215.38 468.95 1216.28 470.34 1217.17 471.74C1218.06 473.14 1218.93 474.54 1219.79 475.95C1220.66 477.36 1221.51 478.78 1222.35 480.20C1223.19 481.63 1224.02 483.06 1224.83 484.49C1225.65 485.93 1226.45 487.37 1227.25 488.82C1228.04 490.27 1228.82 491.72 1229.60 493.18C1230.37 494.64 1231.13 496.10 1231.88 497.57C1232.63 499.04 1233.37 500.52 1234.10 502.00C1234.83 503.48 1235.55 504.97 1236.26 506.46C1236.97 507.95 1237.67 509.44 1238.36 510.95C1239.04 512.45 1239.72 513.95 1240.39 515.46C1241.06 516.98 1241.72 518.49 1242.37 520.01C1243.02 521.53 1243.66 523.06 1244.29 524.59C1244.93 526.12 1245.55 527.65 1246.16 529.19C1246.77 530.73 1247.38 532.27 1247.97 533.82C1248.57 535.36 1249.16 536.92 1249.73 538.47C1250.31 540.03 1250.88 541.59 1251.44 543.15C1252.01 544.71 1252.56 546.28 1253.11 547.85C1253.65 549.42 1254.19 550.99 1254.72 552.57C1255.25 554.15 1255.77 555.73 1256.28 557.31C1256.80 558.90 1257.30 560.49 1257.80 562.08C1258.30 563.67 1258.80 565.26 1259.28 566.86C1259.77 568.46 1260.24 570.06 1260.71 571.66C1261.19 573.27 1261.65 574.87 1262.11 576.48C1262.57 578.09 1263.02 579.70 1263.46 581.32C1263.91 582.93 1264.35 584.55 1264.78 586.17C1265.21 587.79 1265.64 589.41 1266.06 591.03C1266.48 592.65 1266.89 594.28 1267.30 595.91C1267.71 597.54 1268.11 599.17 1268.51 600.80C1268.91 602.43 1269.30 604.06 1269.69 605.70C1270.08 607.34 1270.46 608.97 1270.84 610.61C1271.21 612.25 1271.58 613.89 1271.95 615.53C1272.32 617.18 1272.68 618.82 1273.04 620.46C1273.40 622.11 1273.75 623.76 1274.10 625.40C1274.45 627.05 1274.80 628.70 1275.14 630.35C1275.48 632.00 1275.82 633.65 1276.16 635.30C1276.49 636.95 1276.82 638.60 1277.15 640.25C1277.47 641.91 1277.80 643.56 1278.12 645.21C1278.44 646.87 1278.75 648.52 1279.07 650.17C1279.38 651.83 1279.69 653.48 1280.00 655.14C1280.31 656.79 1280.61 658.45 1280.92 660.10C1281.22 661.76 1281.52 663.41 1281.82 665.06C1282.12 666.72 1282.41 668.37 1282.71 670.03C1283.00 671.68 1283.29 673.34 1283.58 674.99C1283.87 676.64 1284.16 678.29 1284.44 679.95C1284.73 681.60 1285.02 683.25 1285.30 684.90C1285.58 686.55 1285.86 688.20 1286.15 689.85C1286.43 691.50 1286.71 693.15 1286.99 694.79C1287.27 696.44 1287.54 698.08 1287.82 699.73C1288.10 701.37 1288.38 703.02 1288.65 704.66C1288.93 706.30 1289.20 707.94 1289.48 709.58C1289.76 711.21 1290.03 712.85 1290.31 714.49C1290.58 716.12 1290.86 717.75 1291.14 719.38C1291.41 721.02 1291.69 722.64 1291.97 724.27C1292.24 725.90 1292.52 727.52 1292.80 729.15C1293.08 730.77 1293.36 732.39 1293.64 734.01C1293.92 735.62 1294.20 737.24 1294.48 738.85C1294.77 740.47 1295.05 742.08 1295.34 743.68C1295.62 745.29 1296.06 747.70 1296.20 748.50" fill="none" stroke="#0f3778" stroke-opacity="0.3" stroke-width="5.1" stroke-linejoin="round"/>
<path d="M198.98 52.51C199.26 53.30 200.12 55.68 200.68 57.25C201.25 58.82 201.80 60.37 202.35 61.94C202.91 63.50 203.46 65.05 204.02 66.62C204.59 68.19 205.14 69.76 205.73 71.34C206.32 72.92 206.91 74.52 207.56 76.08C208.22 77.64 208.89 79.20 209.65 80.69C210.41 82.18 211.23 83.64 212.14 85.01C213.06 86.38 214.06 87.67 215.14 88.90C216.21 90.14 217.38 91.30 218.59 92.41C219.81 93.52 221.10 94.57 222.42 95.58C223.75 96.59 225.13 97.54 226.54 98.47C227.95 99.39 229.40 100.28 230.87 101.14C232.33 102.00 233.82 102.83 235.31 103.65C236.80 104.47 238.31 105.26 239.80 106.06C241.29 106.85 242.77 107.63 244.25 108.41C245.73 109.20 247.21 109.97 248.67 110.75C250.14 111.53 251.60 112.30 253.05 113.09C254.50 113.88 255.95 114.66 257.38 115.46C258.82 116.27 260.25 117.07 261.67 117.90C263.10 118.73 264.51 119.56 265.91 120.42C267.32 121.28 268.72 122.16 270.10 123.06C271.49 123.97 272.87 124.90 274.24 125.85C275.61 126.80 276.97 127.78 278.33 128.78C279.68 129.77 281.03 130.79 282.38 131.81C283.73 132.84 285.07 133.88 286.42 134.91C287.76 135.95 289.10 137.00 290.45 138.03C291.80 139.07 293.14 140.10 294.50 141.12C295.85 142.14 297.21 143.16 298.58 144.15C299.95 145.14 301.32 146.12 302.71 147.06C304.10 148.01 305.49 148.93 306.91 149.82C308.32 150.71 309.74 151.56 311.17 152.40C312.60 153.24 314.05 154.04 315.48 154.86C316.91 155.68 318.35 156.49 319.77 157.32C321.20 158.16 322.61 159.00 324.01 159.88C325.40 160.76 326.78 161.67 328.14 162.61C329.51 163.54 330.86 164.51 332.19 165.49C333.53 166.47 334.86 167.48 336.17 168.51C337.48 169.53 338.78 170.58 340.08 171.64C341.37 172.71 342.66 173.79 343.93 174.88C345.21 175.97 346.48 177.07 347.75 178.19C349.01 179.30 350.27 180.42 351.53 181.55C352.79 182.68 354.04 183.82 355.29 184.95C356.55 186.09 357.80 187.23 359.05 188.37C360.30 189.51 361.55 190.65 362.81 191.79C364.06 192.92 365.32 194.05 366.58 195.18C367.84 196.30 369.11 197.42 370.38 198.53C371.65 199.63 372.93 200.73 374.22 201.81C375.50 202.89 376.80 203.96 378.10 205.01C379.41 206.06 380.72 207.10 382.05 208.11C383.38 209.12 384.71 210.12 386.07 211.08C387.42 212.05 388.78 213.00 390.17 213.92C391.55 214.83 392.95 215.72 394.36 216.59C395.77 217.45 397.20 218.28 398.64 219.09C400.09 219.90 401.54 220.68 403.02 221.44C404.49 222.20 405.97 222.93 407.47 223.64C408.96 224.35 410.47 225.03 411.99 225.69C413.51 226.35 415.04 226.98 416.58 227.60C418.13 228.21 419.68 228.80 421.24 229.37C422.80 229.94 424.37 230.48 425.95 231.01C427.53 231.53 429.12 232.04 430.71 232.52C432.31 233.01 433.91 233.47 435.52 233.92C437.13 234.36 438.75 234.79 440.37 235.20C441.99 235.60 443.61 235.99 445.24 236.37C446.87 236.74 448.51 237.09 450.15 237.43C451.79 237.77 453.43 238.09 455.07 238.40C456.72 238.70 458.37 238.99 460.01 239.27C461.66 239.55 463.31 239.81 464.96 240.06C466.62 240.30 468.27 240.54 469.92 240.76C471.58 240.98 473.23 241.19 474.89 241.38C476.54 241.58 478.20 241.76 479.86 241.94C481.52 242.11 483.18 242.28 484.84 242.43C486.50 242.58 488.16 242.73 489.82 242.86C491.49 243.00 493.15 243.12 494.81 243.24C496.48 243.36 498.14 243.47 499.81 243.58C501.47 243.68 503.14 243.78 504.81 243.87C506.47 243.96 508.14 244.05 509.81 244.13C511.48 244.21 513.15 244.29 514.82 244.36C516.48 244.43 518.15 244.50 519.82 244.57C521.49 244.63 523.16 244.69 524.83 244.76C526.50 244.82 528.17 244.88 529.84 244.94C531.51 245.00 533.18 245.05 534.85 245.11C536.53 245.17 538.20 245.23 539.87 245.29C541.54 245.35 543.21 245.41 544.88 245.47C546.55 245.53 548.22 245.60 549.89 245.66C551.56 245.73 553.23 245.79 554.90 245.86C556.57 245.93 558.24 245.99 559.91 246.06C561.58 246.13 563.25 246.20 564.92 246.27C566.59 246.35 568.25 246.42 569.92 246.49C571.59 246.57 573.26 246.64 574.93 246.72C576.60 246.80 578.27 246.87 579.94 246.95C581.61 247.03 583.28 247.11 584.95 247.19C586.61 247.27 588.28 247.36 589.95 247.44C591.62 247.52 593.29 247.61 594.96 247.69C596.63 247.78 598.29 247.86 599.96 247.95C601.63 248.04 603.30 248.13 604.97 248.22C606.64 248.31 608.30 248.40 609.97 248.49C611.64 248.58 613.31 248.68 614.98 248.77C616.64 248.87 618.31 248.96 619.98 249.06C621.65 249.15 623.31 249.25 624.98 249.35C626.65 249.45 628.32 249.55 629.98 249.65C631.65 249.75 633.32 249.85 634.99 249.95C636.65 250.06 638.32 250.16 639.99 250.27C641.65 250.37 643.32 250.48 644.99 250.58C646.66 250.69 648.32 250.80 649.99 250.91C651.66 251.02 653.32 251.13 654.99 251.24C656.66 251.35 658.32 251.46 659.99 251.57C661.65 251.69 663.32 251.80 664.99 251.92C666.65 252.03 668.32 252.15 669.99 252.26C671.65 252.38 673.32 252.50 674.98 252.62C676.65 252.74 678.32 252.86 679.98 252.98C681.65 253.10 683.31 253.22 684.98 253.34C686.64 253.46 688.31 253.59 689.98 253.71C691.64 253.84 693.31 253.96 694.97 254.09C696.64 254.21 698.30 254.34 699.97 254.47C701.63 254.60 703.30 254.73 704.96 254.86C706.63 254.99 708.29 255.12 709.96 255.25C711.62 255.38 713.29 255.52 714.95 255.65C716.62 255.78 718.28 255.92 719.95 256.05C721.61 256.19 723.28 256.32 724.94 256.46C726.60 256.60 728.27 256.74 729.93 256.88C731.60 257.01 733.26 257.15 734.93 257.29C736.59 257.44 738.25 257.58 739.92 257.72C741.58 257.86 743.25 258.00 744.91 258.15C746.57 258.29 748.24 258.44 749.90 258.58C751.57 258.73 753.23 258.87 754.89 259.02C756.56 259.17 758.22 259.32 759.88 259.47C761.55 259.61 763.21 259.76 764.88 259.91C766.54 260.06 768.20 260.22 769.87 260.37C771.53 260.52 773.19 260.67 774.85 260.83C776.52 260.98 778.18 261.13 779.84 261.29C781.51 261.44 783.17 261.60 784.83 261.76C786.50 261.91 788.16 262.07 789.82 262.23C791.48 262.39 793.15 262.54 794.81 262.70C796.47 262.86 798.13 263.02 799.80 263.19C801.46 263.35 803.12 263.51 804.78 263.67C806.45 263.83 808.11 264.00 809.77 264.16C811.43 264.32 813.10 264.49 814.76 264.65C816.42 264.82 818.08 264.98 819.74 265.15C821.41 265.32 823.07 265.48 824.73 265.65C826.39 265.82 828.05 265.99 829.72 266.16C831.38 266.33 833.04 266.50 834.70 266.67C836.36 266.84 838.02 267.01 839.69 267.18C841.35 267.35 843.01 267.53 844.67 267.70C846.33 267.87 847.99 268.05 849.65 268.22C851.32 268.39 852.98 268.57 854.64 268.75C856.30 268.92 857.96 269.10 859.62 269.27C861.28 269.45 862.94 269.63 864.60 269.81C866.27 269.98 867.93 270.16 869.59 270.34C871.25 270.52 872.91 270.70 874.57 270.88C876.23 271.06 877.89 271.24 879.55 271.42C881.21 271.61 882.87 271.79 884.53 271.97C886.19 272.15 887.85 272.34 889.52 272.52C891.18 272.70 892.84 272.89 894.50 273.07C896.16 273.26 897.82 273.44 899.48 273.63C901.14 273.82 902.80 274.00 904.46 274.19C906.12 274.38 907.78 274.56 909.44 274.75C911.10 274.94 912.76 275.13 914.42 275.32C916.08 275.51 917.74 275.69 919.40 275.88C921.06 276.07 922.72 276.27 924.38 276.46C926.04 276.65 927.70 276.84 929.36 277.03C931.02 277.22 932.68 277.41 934.33 277.61C935.99 277.80 937.65 277.99 939.31 278.19C940.97 278.38 942.63 278.57 944.29 278.77C945.95 278.96 947.61 279.16 949.27 279.35C950.93 279.55 952.59 279.75 954.25 279.94C955.91 280.14 957.57 280.33 959.22 280.53C960.88 280.73 962.54 280.93 964.20 281.12C965.86 281.32 967.52 281.52 969.18 281.72C970.84 281.92 972.50 282.12 974.15 282.32C975.81 282.52 977.47 282.72 979.13 282.92C980.79 283.12 982.45 283.32 984.11 283.52C985.77 283.72 987.42 283.92 989.08 284.12C990.74 284.32 992.40 284.53 994.06 284.73C995.72 284.93 997.37 285.13 999.03 285.34C1000.69 285.54 1002.35 285.74 1004.01 285.95C1005.67 286.15 1007.32 286.35 1008.98 286.56C1010.64 286.76 1012.30 286.97 1013.96 287.18C1015.61 287.38 1017.27 287.59 1018.93 287.79C1020.59 288.00 1022.25 288.21 1023.90 288.42C1025.56 288.63 1027.22 288.84 1028.88 289.05C1030.53 289.26 1032.19 289.47 1033.85 289.68C1035.50 289.89 1037.16 290.11 1038.82 290.32C1040.47 290.53 1042.13 290.75 1043.79 290.97C1045.44 291.18 1047.10 291.40 1048.76 291.62C1050.41 291.84 1052.07 292.06 1053.72 292.28C1055.38 292.50 1057.03 292.72 1058.69 292.95C1060.34 293.17 1062.00 293.40 1063.65 293.63C1065.31 293.85 1066.96 294.08 1068.62 294.31C1070.27 294.54 1071.92 294.78 1073.58 295.01C1075.23 295.24 1076.88 295.48 1078.54 295.72C1080.19 295.96 1081.84 296.19 1083.49 296.44C1085.15 296.68 1086.80 296.92 1088.45 297.17C1090.10 297.41 1091.75 297.66 1093.40 297.91C1095.05 298.16 1096.70 298.41 1098.36 298.67C1100.01 298.92 1101.65 299.18 1103.30 299.43C1104.95 299.69 1106.60 299.95 1108.25 300.22C1109.90 300.48 1111.55 300.75 1113.20 301.01C1114.84 301.28 1116.49 301.55 1118.14 301.83C1119.78 302.10 1121.43 302.38 1123.08 302.66C1124.72 302.93 1126.37 303.22 1128.01 303.50C1129.66 303.78 1131.30 304.07 1132.95 304.36C1134.59 304.65 1136.23 304.95 1137.88 305.24C1139.52 305.54 1141.16 305.84 1142.81 306.14C1144.45 306.44 1146.09 306.75 1147.73 307.05C1149.37 307.36 1151.01 307.67 1152.65 307.99C1154.29 308.30 1155.93 308.62 1157.57 308.94C1159.21 309.27 1160.85 309.59 1162.48 309.92C1164.12 310.26 1165.75 310.59 1167.39 310.93C1169.02 311.28 1170.66 311.62 1172.29 311.98C1173.92 312.33 1175.55 312.70 1177.17 313.07C1178.80 313.44 1180.43 313.81 1182.05 314.20C1183.67 314.59 1185.30 314.98 1186.91 315.38C1188.53 315.79 1190.15 316.20 1191.76 316.63C1193.37 317.05 1194.98 317.49 1196.59 317.93C1198.20 318.38 1199.80 318.84 1201.40 319.31C1203.00 319.78 1204.60 320.26 1206.20 320.76C1207.79 321.26 1209.38 321.77 1210.96 322.29C1212.55 322.81 1214.13 323.35 1215.71 323.90C1217.29 324.46 1218.86 325.02 1220.43 325.60C1222.00 326.18 1223.56 326.78 1225.12 327.38C1226.68 327.99 1228.23 328.62 1229.78 329.25C1231.32 329.89 1232.87 330.54 1234.40 331.20C1235.94 331.87 1237.47 332.55 1238.99 333.24C1240.51 333.94 1242.03 334.64 1243.54 335.37C1245.05 336.09 1246.55 336.82 1248.05 337.57C1249.54 338.32 1251.03 339.09 1252.51 339.87C1253.99 340.64 1255.46 341.44 1256.93 342.24C1258.39 343.05 1259.85 343.87 1261.30 344.71C1262.74 345.55 1264.18 346.40 1265.61 347.26C1267.04 348.12 1268.46 349.00 1269.88 349.90C1271.29 350.79 1272.69 351.70 1274.08 352.62C1275.48 353.54 1276.86 354.48 1278.23 355.43C1279.61 356.38 1280.97 357.34 1282.32 358.32C1283.67 359.30 1285.02 360.29 1286.35 361.30C1287.68 362.31 1289.00 363.33 1290.30 364.37C1291.61 365.41 1292.91 366.46 1294.19 367.52C1295.48 368.59 1296.75 369.67 1298.01 370.76C1299.27 371.86 1300.52 372.97 1301.76 374.09C1302.99 375.21 1304.22 376.35 1305.43 377.50C1306.64 378.66 1307.84 379.82 1309.02 381.00C1310.21 382.18 1311.38 383.37 1312.54 384.58C1313.69 385.79 1314.84 387.01 1315.97 388.24C1317.10 389.47 1318.22 390.71 1319.33 391.97C1320.43 393.23 1321.53 394.50 1322.60 395.78C1323.68 397.06 1324.75 398.35 1325.80 399.65C1326.85 400.95 1327.88 402.27 1328.91 403.59C1329.93 404.92 1330.94 406.26 1331.93 407.60C1332.92 408.95 1333.90 410.31 1334.87 411.67C1335.83 413.04 1336.78 414.42 1337.72 415.80C1338.66 417.19 1339.58 418.59 1340.48 419.99C1341.39 421.40 1342.28 422.81 1343.16 424.23C1344.03 425.65 1344.90 427.09 1345.74 428.53C1346.59 429.96 1347.42 431.41 1348.24 432.87C1349.05 434.32 1349.85 435.79 1350.64 437.26C1351.42 438.73 1352.20 440.21 1352.95 441.69C1353.71 443.18 1354.46 444.67 1355.19 446.17C1355.92 447.66 1356.63 449.17 1357.34 450.68C1358.04 452.19 1358.73 453.71 1359.41 455.23C1360.09 456.76 1360.75 458.29 1361.41 459.82C1362.06 461.36 1362.70 462.90 1363.33 464.44C1363.96 465.99 1364.58 467.54 1365.19 469.09C1365.80 470.65 1366.40 472.21 1366.98 473.77C1367.57 475.34 1368.15 476.91 1368.71 478.48C1369.28 480.05 1369.84 481.63 1370.38 483.21C1370.93 484.79 1371.47 486.37 1372.00 487.96C1372.53 489.55 1373.04 491.14 1373.56 492.73C1374.07 494.32 1374.57 495.92 1375.07 497.52C1375.56 499.12 1376.05 500.72 1376.53 502.32C1377.01 503.92 1377.48 505.53 1377.95 507.14C1378.41 508.74 1378.87 510.35 1379.32 511.96C1379.78 513.57 1380.22 515.18 1380.66 516.80C1381.10 518.41 1381.54 520.02 1381.97 521.63C1382.40 523.25 1382.82 524.86 1383.24 526.48C1383.66 528.09 1384.07 529.71 1384.48 531.32C1384.89 532.93 1385.30 534.55 1385.70 536.16C1386.10 537.78 1386.70 540.19 1386.90 541.00" fill="none" stroke="#0f3778" stroke-opacity="0.3" stroke-width="5.1" stroke-linejoin="round"/>
<path d="M198.96 52.53C199.31 53.29 200.37 55.55 201.02 57.09C201.67 58.62 202.27 60.18 202.88 61.74C203.48 63.30 204.04 64.87 204.63 66.44C205.21 68.01 205.78 69.60 206.39 71.17C206.99 72.73 207.59 74.31 208.27 75.85C208.94 77.38 209.63 78.91 210.42 80.37C211.21 81.84 212.05 83.27 213.00 84.63C213.95 85.98 215.00 87.28 216.11 88.52C217.22 89.75 218.43 90.91 219.68 92.02C220.93 93.12 222.25 94.14 223.61 95.12C224.96 96.10 226.38 97.00 227.81 97.87C229.24 98.75 230.71 99.56 232.19 100.37C233.67 101.18 235.17 101.95 236.67 102.73C238.17 103.51 239.67 104.28 241.17 105.05C242.66 105.83 244.15 106.61 245.64 107.39C247.12 108.18 248.60 108.97 250.07 109.76C251.55 110.56 253.02 111.36 254.48 112.16C255.94 112.97 257.40 113.78 258.86 114.60C260.31 115.42 261.76 116.24 263.20 117.07C264.64 117.90 266.08 118.74 267.51 119.59C268.94 120.44 270.37 121.29 271.79 122.15C273.21 123.02 274.62 123.89 276.03 124.77C277.44 125.65 278.85 126.54 280.24 127.44C281.64 128.34 283.04 129.25 284.42 130.17C285.81 131.09 287.19 132.02 288.57 132.96C289.94 133.90 291.31 134.85 292.68 135.81C294.04 136.78 295.40 137.75 296.76 138.73C298.12 139.71 299.47 140.70 300.83 141.68C302.18 142.67 303.53 143.67 304.88 144.67C306.23 145.66 307.58 146.66 308.93 147.65C310.29 148.65 311.64 149.65 313.00 150.63C314.35 151.62 315.71 152.61 317.08 153.59C318.44 154.57 319.81 155.54 321.19 156.50C322.56 157.46 323.95 158.41 325.33 159.36C326.72 160.30 328.11 161.24 329.50 162.18C330.89 163.11 332.29 164.04 333.67 164.98C335.05 165.92 336.44 166.86 337.81 167.81C339.18 168.77 340.54 169.73 341.89 170.71C343.24 171.68 344.57 172.67 345.89 173.69C347.21 174.70 348.51 175.73 349.80 176.78C351.09 177.83 352.36 178.89 353.63 179.97C354.89 181.04 356.15 182.13 357.40 183.23C358.65 184.32 359.88 185.43 361.12 186.54C362.36 187.65 363.60 188.76 364.83 189.88C366.07 190.99 367.30 192.11 368.54 193.23C369.78 194.34 371.02 195.45 372.27 196.56C373.52 197.66 374.77 198.77 376.04 199.85C377.31 200.94 378.58 202.02 379.87 203.09C381.16 204.16 382.46 205.21 383.78 206.24C385.10 207.28 386.43 208.30 387.79 209.30C389.14 210.29 390.52 211.27 391.92 212.22C393.32 213.18 394.74 214.11 396.17 215.01C397.61 215.91 399.07 216.79 400.54 217.64C402.02 218.49 403.51 219.32 405.01 220.11C406.51 220.91 408.03 221.68 409.55 222.42C411.08 223.15 412.62 223.86 414.16 224.54C415.70 225.22 417.25 225.86 418.81 226.48C420.37 227.10 421.93 227.69 423.50 228.25C425.07 228.81 426.65 229.35 428.24 229.86C429.82 230.37 431.41 230.85 433.01 231.31C434.60 231.77 436.21 232.20 437.81 232.61C439.42 233.03 441.03 233.41 442.65 233.78C444.27 234.15 445.89 234.50 447.52 234.83C449.15 235.16 450.78 235.47 452.41 235.76C454.05 236.05 455.69 236.32 457.33 236.58C458.97 236.84 460.62 237.08 462.27 237.31C463.92 237.54 465.57 237.75 467.23 237.96C468.89 238.16 470.54 238.35 472.20 238.52C473.86 238.70 475.53 238.87 477.19 239.03C478.86 239.18 480.52 239.33 482.19 239.47C483.86 239.61 485.53 239.74 487.20 239.87C488.87 240.00 490.54 240.12 492.21 240.23C493.88 240.35 495.56 240.46 497.23 240.57C498.90 240.68 500.57 240.78 502.25 240.89C503.92 240.99 505.59 241.09 507.26 241.19C508.93 241.30 510.61 241.39 512.28 241.49C513.95 241.59 515.62 241.69 517.29 241.78C518.96 241.87 520.63 241.97 522.31 242.06C523.98 242.15 525.65 242.24 527.32 242.33C528.99 242.42 530.66 242.50 532.33 242.59C534.00 242.68 535.67 242.76 537.34 242.85C539.01 242.93 540.68 243.02 542.35 243.10C544.02 243.18 545.69 243.26 547.36 243.34C549.03 243.42 550.70 243.50 552.37 243.58C554.04 243.66 555.71 243.74 557.38 243.82C559.05 243.90 560.72 243.98 562.39 244.06C564.06 244.13 565.73 244.21 567.40 244.29C569.07 244.36 570.74 244.44 572.41 244.52C574.08 244.59 575.75 244.67 577.42 244.75C579.09 244.82 580.76 244.90 582.43 244.98C584.10 245.06 585.77 245.13 587.44 245.21C589.11 245.29 590.78 245.36 592.45 245.44C594.12 245.52 595.79 245.59 597.46 245.67C599.13 245.75 600.80 245.83 602.47 245.90C604.14 245.98 605.81 246.06 607.48 246.14C609.15 246.22 610.82 246.29 612.49 246.37C614.16 246.45 615.83 246.53 617.50 246.61C619.18 246.68 620.85 246.76 622.52 246.84C624.19 246.92 625.86 247.00 627.53 247.08C629.20 247.15 630.87 247.23 632.54 247.31C634.21 247.39 635.88 247.47 637.55 247.55C639.22 247.63 640.89 247.71 642.56 247.79C644.23 247.87 645.90 247.95 647.57 248.03C649.24 248.11 650.91 248.19 652.58 248.27C654.25 248.35 655.92 248.43 657.59 248.51C659.26 248.59 660.93 248.67 662.60 248.75C664.27 248.83 665.94 248.91 667.61 248.99C669.28 249.07 670.95 249.15 672.63 249.24C674.30 249.32 675.97 249.40 677.64 249.48C679.31 249.56 680.98 249.64 682.65 249.73C684.32 249.81 685.99 249.89 687.66 249.97C689.33 250.06 691.00 250.14 692.67 250.22C694.34 250.30 696.01 250.39 697.68 250.47C699.35 250.55 701.02 250.64 702.69 250.72C704.36 250.80 706.03 250.89 707.70 250.97C709.37 251.06 711.04 251.14 712.72 251.22C714.39 251.31 716.06 251.39 717.73 251.48C719.40 251.56 721.07 251.65 722.74 251.73C724.41 251.82 726.08 251.90 727.75 251.99C729.42 252.08 731.09 252.16 732.76 252.25C734.43 252.33 736.10 252.42 737.77 252.51C739.44 252.59 741.11 252.68 742.78 252.77C744.45 252.86 746.12 252.94 747.79 253.03C749.46 253.12 751.13 253.21 752.80 253.29C754.47 253.38 756.15 253.47 757.82 253.56C759.49 253.65 761.16 253.74 762.83 253.83C764.50 253.91 766.17 254.00 767.84 254.09C769.51 254.18 771.18 254.27 772.85 254.36C774.52 254.45 776.19 254.54 777.86 254.63C779.53 254.73 781.20 254.82 782.87 254.91C784.54 255.00 786.21 255.09 787.88 255.18C789.55 255.27 791.22 255.37 792.89 255.46C794.56 255.55 796.23 255.64 797.90 255.74C799.57 255.83 801.24 255.92 802.91 256.02C804.58 256.11 806.25 256.20 807.92 256.30C809.59 256.39 811.26 256.49 812.93 256.58C814.60 256.68 816.27 256.77 817.94 256.87C819.61 256.96 821.28 257.06 822.95 257.15C824.62 257.25 826.29 257.35 827.96 257.44C829.63 257.54 831.30 257.64 832.97 257.73C834.64 257.83 836.31 257.93 837.98 258.03C839.65 258.12 841.32 258.22 842.99 258.32C844.66 258.42 846.33 258.52 848.00 258.62C849.67 258.72 851.34 258.82 853.01 258.92C854.68 259.02 856.35 259.12 858.02 259.22C859.69 259.32 861.36 259.42 863.02 259.52C864.69 259.62 866.36 259.72 868.03 259.83C869.70 259.93 871.37 260.03 873.04 260.13C874.71 260.24 876.38 260.34 878.05 260.44C879.72 260.55 881.39 260.65 883.06 260.76C884.73 260.86 886.40 260.96 888.07 261.07C889.73 261.17 891.40 261.28 893.07 261.39C894.74 261.49 896.41 261.60 898.08 261.70C899.75 261.81 901.42 261.92 903.09 262.03C904.76 262.13 906.43 262.24 908.09 262.35C909.76 262.46 911.43 262.57 913.10 262.67C914.77 262.78 916.44 262.89 918.11 263.00C919.78 263.11 921.45 263.22 923.11 263.33C924.78 263.44 926.45 263.56 928.12 263.67C929.79 263.78 931.46 263.89 933.13 264.00C934.79 264.11 936.46 264.23 938.13 264.34C939.80 264.45 941.47 264.57 943.14 264.68C944.81 264.79 946.47 264.91 948.14 265.02C949.81 265.14 951.48 265.25 953.15 265.37C954.82 265.49 956.48 265.60 958.15 265.72C959.82 265.84 961.49 265.95 963.16 266.07C964.82 266.19 966.49 266.31 968.16 266.42C969.83 266.54 971.50 266.66 973.16 266.78C974.83 266.90 976.50 267.02 978.17 267.14C979.84 267.26 981.50 267.38 983.17 267.50C984.84 267.62 986.51 267.75 988.17 267.87C989.84 267.99 991.51 268.11 993.18 268.24C994.84 268.36 996.51 268.48 998.18 268.61C999.85 268.73 1001.51 268.85 1003.18 268.98C1004.85 269.10 1006.52 269.23 1008.18 269.36C1009.85 269.48 1011.52 269.61 1013.19 269.73C1014.85 269.86 1016.52 269.98 1018.19 270.11C1019.85 270.23 1021.52 270.36 1023.19 270.48C1024.86 270.61 1026.52 270.73 1028.19 270.85C1029.86 270.98 1031.53 271.10 1033.19 271.22C1034.86 271.34 1036.53 271.46 1038.20 271.58C1039.86 271.70 1041.53 271.82 1043.20 271.94C1044.87 272.06 1046.54 272.17 1048.20 272.29C1049.87 272.40 1051.54 272.51 1053.21 272.62C1054.88 272.73 1056.54 272.84 1058.21 272.95C1059.88 273.06 1061.55 273.16 1063.22 273.27C1064.89 273.37 1066.56 273.47 1068.23 273.57C1069.90 273.67 1071.57 273.76 1073.24 273.86C1074.91 273.95 1076.58 274.04 1078.25 274.13C1079.92 274.22 1081.59 274.30 1083.26 274.38C1084.93 274.47 1086.60 274.54 1088.27 274.62C1089.94 274.70 1091.61 274.77 1093.28 274.84C1094.96 274.91 1096.63 274.97 1098.30 275.04C1099.97 275.10 1101.65 275.16 1103.32 275.21C1104.99 275.27 1106.66 275.32 1108.34 275.37C1110.01 275.42 1111.68 275.46 1113.36 275.51C1115.03 275.55 1116.71 275.60 1118.38 275.64C1120.05 275.68 1121.73 275.73 1123.40 275.77C1125.07 275.81 1126.75 275.85 1128.42 275.89C1130.10 275.94 1131.77 275.98 1133.44 276.03C1135.12 276.07 1136.79 276.12 1138.46 276.17C1140.14 276.22 1141.81 276.27 1143.48 276.32C1145.16 276.38 1146.83 276.43 1148.50 276.50C1150.17 276.56 1151.84 276.62 1153.52 276.69C1155.19 276.77 1156.86 276.84 1158.53 276.92C1160.20 277.00 1161.87 277.09 1163.54 277.18C1165.21 277.27 1166.88 277.37 1168.55 277.48C1170.21 277.58 1171.88 277.70 1173.55 277.82C1175.22 277.94 1176.88 278.06 1178.55 278.20C1180.21 278.33 1181.88 278.48 1183.54 278.62C1185.21 278.77 1186.87 278.93 1188.53 279.09C1190.19 279.26 1191.85 279.43 1193.51 279.61C1195.17 279.79 1196.83 279.98 1198.49 280.17C1200.15 280.36 1201.81 280.57 1203.46 280.78C1205.12 280.99 1206.77 281.21 1208.43 281.43C1210.08 281.66 1211.73 281.89 1213.38 282.14C1215.03 282.38 1216.68 282.63 1218.33 282.89C1219.98 283.15 1221.63 283.42 1223.27 283.70C1224.92 283.97 1226.56 284.26 1228.20 284.55C1229.84 284.85 1231.49 285.15 1233.12 285.46C1234.76 285.77 1236.40 286.09 1238.04 286.42C1239.67 286.75 1241.31 287.09 1242.94 287.43C1244.57 287.78 1246.20 288.14 1247.83 288.50C1249.46 288.86 1251.09 289.23 1252.72 289.60C1254.34 289.97 1255.97 290.35 1257.60 290.73C1259.23 291.12 1260.85 291.50 1262.48 291.89C1264.11 292.28 1265.73 292.67 1267.36 293.06C1268.99 293.45 1270.62 293.84 1272.24 294.23C1273.87 294.62 1275.50 295.01 1277.13 295.39C1278.76 295.78 1280.40 296.16 1282.03 296.54C1283.67 296.92 1285.30 297.30 1286.94 297.67C1288.58 298.04 1290.22 298.41 1291.86 298.76C1293.50 299.12 1295.15 299.47 1296.80 299.82C1298.44 300.16 1300.10 300.49 1301.75 300.82C1303.40 301.16 1305.05 301.48 1306.69 301.82C1308.34 302.16 1309.98 302.50 1311.61 302.87C1313.24 303.24 1314.87 303.62 1316.48 304.04C1318.09 304.45 1319.68 304.89 1321.26 305.37C1322.83 305.85 1324.40 306.36 1325.93 306.93C1327.46 307.50 1328.98 308.11 1330.47 308.79C1331.95 309.46 1333.41 310.19 1334.84 310.99C1336.26 311.79 1337.66 312.66 1339.02 313.59C1340.39 314.52 1341.72 315.52 1343.02 316.57C1344.33 317.61 1345.60 318.72 1346.85 319.87C1348.09 321.02 1349.31 322.22 1350.50 323.45C1351.70 324.67 1352.86 325.95 1354.00 327.24C1355.15 328.53 1356.26 329.86 1357.36 331.20C1358.45 332.54 1359.53 333.91 1360.58 335.28C1361.63 336.64 1362.66 338.03 1363.67 339.41C1364.68 340.79 1365.68 342.18 1366.65 343.55C1367.63 344.93 1368.58 346.30 1369.53 347.65C1370.47 349.00 1371.39 350.34 1372.31 351.65C1373.22 352.96 1374.55 354.85 1375.00 355.49" fill="none" stroke="#0f3778" stroke-opacity="0.3" stroke-width="5.1" stroke-linejoin="round"/>
<path d="M198.99 52.50C199.36 53.26 200.48 55.50 201.20 57.01C201.92 58.51 202.61 60.02 203.29 61.55C203.97 63.07 204.62 64.60 205.26 66.14C205.90 67.68 206.51 69.24 207.13 70.79C207.74 72.35 208.31 73.93 208.97 75.47C209.62 77.00 210.26 78.55 211.05 80.00C211.83 81.46 212.69 82.88 213.68 84.21C214.66 85.54 215.81 86.78 216.98 87.98C218.14 89.19 219.38 90.35 220.65 91.43C221.93 92.52 223.26 93.53 224.62 94.49C225.99 95.44 227.41 96.31 228.85 97.15C230.29 97.98 231.77 98.76 233.26 99.52C234.74 100.28 236.26 100.99 237.78 101.71C239.29 102.43 240.81 103.12 242.33 103.82C243.85 104.52 245.37 105.22 246.89 105.92C248.41 106.62 249.93 107.31 251.44 108.02C252.95 108.73 254.46 109.44 255.96 110.17C257.46 110.90 258.95 111.64 260.43 112.40C261.91 113.16 263.39 113.93 264.85 114.73C266.31 115.53 267.76 116.35 269.19 117.20C270.62 118.05 272.04 118.93 273.44 119.84C274.85 120.75 276.23 121.70 277.60 122.67C278.98 123.63 280.33 124.62 281.69 125.62C283.05 126.61 284.39 127.63 285.74 128.63C287.09 129.64 288.44 130.65 289.79 131.64C291.14 132.63 292.50 133.62 293.86 134.59C295.22 135.56 296.58 136.52 297.95 137.48C299.31 138.43 300.68 139.38 302.06 140.31C303.43 141.25 304.80 142.18 306.18 143.11C307.55 144.04 308.93 144.96 310.30 145.89C311.68 146.81 313.05 147.73 314.43 148.65C315.80 149.57 317.18 150.48 318.55 151.41C319.92 152.33 321.29 153.25 322.66 154.18C324.03 155.11 325.39 156.04 326.75 156.98C328.11 157.92 329.47 158.86 330.82 159.82C332.18 160.77 333.53 161.73 334.87 162.71C336.21 163.68 337.55 164.66 338.88 165.66C340.21 166.65 341.54 167.66 342.85 168.68C344.17 169.71 345.48 170.75 346.78 171.80C348.09 172.85 349.38 173.93 350.67 175.00C351.96 176.08 353.24 177.18 354.52 178.27C355.80 179.37 357.08 180.48 358.35 181.59C359.63 182.71 360.90 183.83 362.17 184.94C363.44 186.06 364.71 187.18 365.98 188.30C367.25 189.42 368.52 190.54 369.79 191.65C371.07 192.76 372.34 193.87 373.63 194.97C374.91 196.07 376.19 197.16 377.48 198.24C378.78 199.32 380.07 200.39 381.38 201.44C382.68 202.49 383.99 203.53 385.31 204.55C386.63 205.57 387.96 206.58 389.30 207.56C390.64 208.54 391.99 209.50 393.36 210.44C394.72 211.37 396.10 212.29 397.49 213.17C398.88 214.05 400.28 214.91 401.70 215.74C403.12 216.56 404.55 217.36 406.01 218.12C407.46 218.88 408.93 219.61 410.42 220.29C411.91 220.98 413.41 221.63 414.94 222.25C416.47 222.86 418.01 223.43 419.57 223.97C421.14 224.51 422.72 225.02 424.31 225.49C425.90 225.97 427.51 226.41 429.13 226.82C430.75 227.24 432.38 227.62 434.02 227.99C435.66 228.35 437.31 228.69 438.97 229.00C440.62 229.32 442.29 229.62 443.95 229.90C445.62 230.18 447.30 230.44 448.97 230.68C450.65 230.93 452.33 231.16 454.00 231.39C455.68 231.61 457.36 231.82 459.03 232.03C460.71 232.23 462.38 232.43 464.05 232.62C465.72 232.81 467.39 233.00 469.05 233.18C470.72 233.36 472.38 233.53 474.04 233.70C475.70 233.86 477.36 234.02 479.02 234.18C480.68 234.34 482.34 234.48 484.00 234.63C485.65 234.77 487.31 234.91 488.96 235.04C490.62 235.18 492.27 235.30 493.93 235.43C495.58 235.55 497.24 235.66 498.90 235.78C500.55 235.89 502.21 235.99 503.87 236.10C505.52 236.20 507.18 236.29 508.84 236.39C510.50 236.48 512.16 236.57 513.82 236.65C515.48 236.73 517.14 236.81 518.80 236.89C520.47 236.97 522.13 237.04 523.79 237.11C525.45 237.18 527.12 237.24 528.78 237.31C530.44 237.37 532.11 237.43 533.77 237.49C535.44 237.54 537.10 237.60 538.77 237.65C540.43 237.70 542.10 237.75 543.76 237.80C545.43 237.85 547.09 237.89 548.76 237.94C550.43 237.98 552.10 238.03 553.76 238.07C555.43 238.11 557.10 238.15 558.76 238.19C560.43 238.23 562.10 238.27 563.77 238.31C565.44 238.35 567.10 238.39 568.77 238.42C570.44 238.46 572.11 238.50 573.78 238.54C575.45 238.58 577.11 238.62 578.78 238.65C580.45 238.69 582.12 238.73 583.79 238.77C585.46 238.82 587.13 238.86 588.79 238.90C590.46 238.94 592.13 238.98 593.80 239.03C595.47 239.07 597.14 239.12 598.81 239.16C600.47 239.21 602.14 239.25 603.81 239.30C605.48 239.34 607.15 239.39 608.82 239.44C610.49 239.48 612.15 239.53 613.82 239.58C615.49 239.63 617.16 239.68 618.83 239.73C620.50 239.78 622.17 239.83 623.84 239.88C625.50 239.93 627.17 239.98 628.84 240.03C630.51 240.08 632.18 240.13 633.85 240.18C635.52 240.24 637.18 240.29 638.85 240.34C640.52 240.40 642.19 240.45 643.86 240.50C645.53 240.56 647.20 240.61 648.87 240.67C650.53 240.72 652.20 240.78 653.87 240.83C655.54 240.89 657.21 240.94 658.88 241.00C660.55 241.05 662.22 241.11 663.88 241.17C665.55 241.22 667.22 241.28 668.89 241.34C670.56 241.39 672.23 241.45 673.90 241.51C675.57 241.57 677.23 241.62 678.90 241.68C680.57 241.74 682.24 241.80 683.91 241.86C685.58 241.91 687.25 241.97 688.92 242.03C690.58 242.09 692.25 242.15 693.92 242.21C695.59 242.26 697.26 242.32 698.93 242.38C700.60 242.44 702.27 242.50 703.93 242.56C705.60 242.62 707.27 242.68 708.94 242.74C710.61 242.80 712.28 242.85 713.95 242.91C715.62 242.97 717.28 243.03 718.95 243.09C720.62 243.15 722.29 243.21 723.96 243.27C725.63 243.33 727.30 243.39 728.97 243.44C730.63 243.50 732.30 243.56 733.97 243.62C735.64 243.68 737.31 243.74 738.98 243.80C740.65 243.85 742.32 243.91 743.98 243.97C745.65 244.03 747.32 244.09 748.99 244.14C750.66 244.20 752.33 244.26 754.00 244.32C755.67 244.37 757.33 244.43 759.00 244.49C760.67 244.54 762.34 244.60 764.01 244.66C765.68 244.71 767.35 244.77 769.02 244.83C770.68 244.88 772.35 244.94 774.02 244.99C775.69 245.05 777.36 245.10 779.03 245.16C780.70 245.21 782.37 245.26 784.03 245.32C785.70 245.37 787.37 245.42 789.04 245.48C790.71 245.53 792.38 245.58 794.05 245.63C795.72 245.68 797.38 245.74 799.05 245.79C800.72 245.84 802.39 245.89 804.06 245.94C805.73 245.99 807.40 246.04 809.06 246.09C810.73 246.14 812.40 246.18 814.07 246.23C815.74 246.28 817.41 246.33 819.08 246.37C820.74 246.42 822.41 246.47 824.08 246.51C825.75 246.56 827.42 246.60 829.09 246.65C830.76 246.69 832.42 246.73 834.09 246.78C835.76 246.82 837.43 246.86 839.10 246.90C840.77 246.94 842.44 246.98 844.10 247.02C845.77 247.06 847.44 247.10 849.11 247.14C850.78 247.18 852.45 247.22 854.12 247.26C855.78 247.29 857.45 247.33 859.12 247.37C860.79 247.40 862.46 247.44 864.13 247.47C865.80 247.50 867.46 247.54 869.13 247.57C870.80 247.60 872.47 247.63 874.14 247.66C875.81 247.69 877.47 247.72 879.14 247.75C880.81 247.78 882.48 247.81 884.15 247.83C885.82 247.86 887.48 247.89 889.15 247.91C890.82 247.93 892.49 247.96 894.16 247.98C895.83 248.00 897.49 248.03 899.16 248.05C900.83 248.07 902.50 248.09 904.17 248.11C905.84 248.12 907.50 248.14 909.17 248.16C910.84 248.17 912.51 248.19 914.18 248.20C915.85 248.22 917.51 248.23 919.18 248.24C920.85 248.26 922.52 248.27 924.19 248.28C925.86 248.29 927.52 248.30 929.19 248.30C930.86 248.31 932.53 248.32 934.20 248.32C935.86 248.33 937.53 248.33 939.20 248.33C940.87 248.33 942.54 248.34 944.20 248.34C945.87 248.34 947.54 248.33 949.21 248.33C950.88 248.33 952.54 248.33 954.21 248.32C955.88 248.32 957.55 248.31 959.22 248.30C960.88 248.29 962.55 248.28 964.22 248.27C965.89 248.26 967.56 248.25 969.22 248.24C970.89 248.22 972.56 248.21 974.23 248.19C975.90 248.17 977.56 248.16 979.23 248.14C980.90 248.12 982.57 248.10 984.24 248.08C985.90 248.05 987.57 248.03 989.24 248.00C990.91 247.98 992.57 247.95 994.24 247.92C995.91 247.90 997.58 247.87 999.24 247.83C1000.91 247.80 1002.58 247.77 1004.25 247.73C1005.92 247.70 1007.58 247.66 1009.25 247.63C1010.92 247.59 1012.59 247.55 1014.25 247.51C1015.92 247.47 1017.59 247.42 1019.26 247.38C1020.92 247.33 1022.59 247.29 1024.26 247.24C1025.93 247.19 1027.59 247.14 1029.26 247.09C1030.93 247.04 1032.60 246.98 1034.26 246.93C1035.93 246.87 1037.60 246.82 1039.27 246.76C1040.93 246.70 1042.60 246.64 1044.27 246.58C1045.93 246.51 1047.60 246.45 1049.27 246.38C1050.94 246.32 1052.60 246.25 1054.27 246.17C1055.94 246.10 1057.60 246.03 1059.27 245.95C1060.94 245.88 1062.60 245.80 1064.27 245.72C1065.94 245.64 1067.60 245.56 1069.27 245.47C1070.93 245.39 1072.60 245.30 1074.27 245.21C1075.93 245.12 1077.60 245.03 1079.26 244.93C1080.93 244.84 1082.59 244.74 1084.26 244.64C1085.92 244.54 1087.59 244.43 1089.25 244.33C1090.92 244.22 1092.58 244.11 1094.25 244.00C1095.91 243.89 1097.58 243.77 1099.24 243.66C1100.90 243.54 1102.57 243.42 1104.23 243.29C1105.89 243.17 1107.56 243.04 1109.22 242.91C1110.88 242.78 1112.54 242.65 1114.21 242.51C1115.87 242.38 1117.53 242.24 1119.19 242.09C1120.85 241.95 1122.52 241.80 1124.18 241.65C1125.84 241.50 1127.50 241.35 1129.16 241.19C1130.82 241.04 1132.48 240.88 1134.14 240.71C1135.80 240.55 1137.46 240.38 1139.12 240.21C1140.77 240.04 1142.43 239.86 1144.09 239.68C1145.75 239.51 1147.41 239.32 1149.06 239.14C1150.72 238.95 1152.38 238.76 1154.03 238.57C1155.69 238.37 1157.35 238.17 1159.00 237.97C1160.66 237.77 1162.31 237.56 1163.97 237.35C1165.62 237.14 1167.28 236.92 1168.93 236.71C1170.58 236.49 1172.24 236.26 1173.89 236.04C1175.54 235.81 1177.20 235.58 1178.85 235.34C1180.50 235.10 1182.15 234.86 1183.80 234.62C1185.45 234.37 1187.10 234.12 1188.75 233.87C1190.40 233.61 1192.05 233.35 1193.70 233.09C1195.35 232.83 1197.00 232.56 1198.65 232.28C1200.29 232.01 1201.94 231.73 1203.59 231.45C1205.23 231.17 1206.88 230.88 1208.53 230.60C1210.17 230.31 1211.82 230.02 1213.46 229.73C1215.11 229.44 1216.75 229.15 1218.40 228.86C1220.04 228.57 1221.69 228.28 1223.34 227.99C1224.98 227.71 1226.63 227.42 1228.28 227.15C1229.92 226.87 1231.57 226.59 1233.22 226.32C1234.87 226.06 1236.52 225.79 1238.17 225.54C1239.82 225.28 1241.47 225.04 1243.12 224.80C1244.77 224.56 1246.42 224.33 1248.08 224.11C1249.73 223.90 1251.39 223.69 1253.05 223.49C1254.70 223.30 1256.36 223.12 1258.02 222.95C1259.68 222.78 1261.34 222.63 1263.01 222.49C1264.67 222.34 1266.34 222.22 1268.00 222.10C1269.67 221.97 1271.33 221.86 1273.00 221.75C1274.67 221.65 1276.34 221.54 1278.00 221.44C1279.67 221.33 1281.34 221.23 1283.01 221.13C1284.68 221.02 1286.34 220.91 1288.01 220.79C1289.67 220.67 1291.34 220.55 1293.00 220.41C1294.67 220.28 1296.33 220.13 1297.99 219.98C1299.65 219.83 1301.31 219.68 1302.97 219.51C1304.63 219.35 1306.29 219.18 1307.95 219.01C1309.61 218.84 1311.27 218.66 1312.93 218.48C1314.58 218.31 1316.24 218.12 1317.90 217.94C1319.56 217.76 1321.21 217.58 1322.87 217.39C1324.53 217.21 1326.18 217.03 1327.84 216.85C1329.50 216.67 1331.15 216.49 1332.81 216.31C1334.47 216.14 1336.12 215.96 1337.78 215.79C1339.44 215.63 1341.10 215.46 1342.76 215.30C1344.42 215.15 1346.07 214.99 1347.73 214.85C1349.39 214.71 1351.06 214.57 1352.72 214.44C1354.38 214.31 1356.04 214.19 1357.71 214.08C1359.37 213.97 1361.03 213.88 1362.70 213.79C1364.37 213.70 1366.03 213.63 1367.70 213.56C1369.37 213.50 1371.04 213.45 1372.71 213.42C1374.38 213.39 1376.06 213.36 1377.73 213.36C1379.40 213.36 1381.08 213.37 1382.76 213.40C1384.44 213.42 1386.12 213.47 1387.80 213.51C1389.47 213.54 1391.15 213.59 1392.83 213.63C1394.51 213.66 1396.19 213.70 1397.86 213.71C1399.54 213.72 1401.21 213.73 1402.88 213.70C1404.55 213.67 1406.21 213.62 1407.87 213.53C1409.53 213.44 1411.19 213.32 1412.84 213.15C1414.49 212.98 1416.13 212.78 1417.77 212.51C1419.41 212.24 1421.04 211.93 1422.66 211.55C1424.28 211.16 1426.69 210.43 1427.50 210.20" fill="none" stroke="#0f3778" stroke-opacity="0.3" stroke-width="5.1" stroke-linejoin="round"/>
<path d="M198.99 52.51C199.40 53.24 200.65 55.42 201.44 56.89C202.23 58.36 203.00 59.84 203.74 61.33C204.48 62.83 205.19 64.34 205.87 65.87C206.54 67.39 207.17 68.95 207.79 70.50C208.42 72.06 208.95 73.66 209.61 75.20C210.27 76.73 210.93 78.26 211.76 79.68C212.59 81.11 213.55 82.46 214.58 83.76C215.62 85.07 216.78 86.30 217.95 87.50C219.12 88.71 220.31 89.92 221.58 90.99C222.86 92.07 224.20 93.05 225.59 93.94C226.98 94.84 228.46 95.62 229.94 96.38C231.43 97.15 232.97 97.82 234.50 98.51C236.03 99.20 237.60 99.85 239.13 100.53C240.67 101.21 242.21 101.90 243.73 102.61C245.25 103.31 246.77 104.03 248.27 104.77C249.77 105.50 251.27 106.25 252.76 107.00C254.24 107.76 255.72 108.53 257.20 109.32C258.67 110.10 260.13 110.89 261.59 111.70C263.05 112.50 264.50 113.32 265.94 114.14C267.39 114.97 268.83 115.80 270.26 116.65C271.69 117.49 273.12 118.34 274.54 119.20C275.97 120.06 277.38 120.93 278.80 121.81C280.21 122.68 281.62 123.57 283.02 124.46C284.43 125.34 285.83 126.24 287.23 127.14C288.63 128.04 290.03 128.95 291.42 129.86C292.81 130.76 294.20 131.68 295.59 132.60C296.98 133.51 298.37 134.44 299.76 135.36C301.14 136.28 302.53 137.21 303.91 138.14C305.30 139.07 306.68 140.00 308.07 140.93C309.45 141.86 310.84 142.79 312.22 143.73C313.61 144.66 314.99 145.60 316.37 146.54C317.75 147.48 319.13 148.43 320.50 149.38C321.88 150.33 323.25 151.28 324.61 152.25C325.98 153.21 327.34 154.18 328.70 155.16C330.05 156.14 331.41 157.12 332.75 158.12C334.09 159.11 335.43 160.12 336.76 161.13C338.09 162.15 339.41 163.18 340.72 164.22C342.03 165.26 343.34 166.31 344.63 167.38C345.92 168.44 347.20 169.52 348.48 170.61C349.75 171.71 351.02 172.81 352.28 173.92C353.54 175.03 354.79 176.15 356.04 177.27C357.29 178.39 358.54 179.52 359.79 180.64C361.03 181.77 362.28 182.89 363.52 184.01C364.77 185.14 366.02 186.26 367.27 187.37C368.53 188.48 369.78 189.59 371.04 190.68C372.31 191.78 373.58 192.86 374.86 193.93C376.14 195.00 377.42 196.06 378.72 197.10C380.02 198.14 381.33 199.16 382.66 200.16C383.98 201.16 385.32 202.14 386.68 203.09C388.03 204.04 389.40 204.97 390.79 205.87C392.18 206.77 393.59 207.65 395.02 208.49C396.44 209.34 397.89 210.16 399.35 210.96C400.80 211.75 402.28 212.53 403.77 213.28C405.25 214.04 406.75 214.77 408.26 215.48C409.77 216.20 411.29 216.89 412.82 217.58C414.35 218.26 415.89 218.93 417.44 219.58C418.98 220.24 420.54 220.88 422.09 221.51C423.65 222.15 425.22 222.77 426.78 223.38C428.35 224.00 429.92 224.61 431.48 225.21C433.05 225.82 434.62 226.42 436.19 227.02C437.76 227.62 439.33 228.22 440.90 228.81C442.46 229.41 444.02 230.01 445.59 230.59C447.15 231.17 448.72 231.74 450.29 232.28C451.86 232.82 453.43 233.35 455.02 233.83C456.60 234.31 458.19 234.76 459.80 235.16C461.40 235.56 463.01 235.91 464.64 236.22C466.26 236.53 467.90 236.80 469.54 237.03C471.18 237.26 472.84 237.46 474.49 237.62C476.15 237.79 477.82 237.93 479.49 238.04C481.16 238.16 482.83 238.25 484.51 238.33C486.19 238.41 487.87 238.46 489.56 238.52C491.24 238.57 492.93 238.61 494.61 238.65C496.29 238.69 497.98 238.72 499.66 238.77C501.35 238.81 503.03 238.85 504.71 238.90C506.39 238.94 508.06 238.99 509.74 239.05C511.42 239.10 513.09 239.16 514.77 239.22C516.44 239.27 518.11 239.34 519.79 239.40C521.46 239.46 523.13 239.53 524.80 239.59C526.47 239.66 528.14 239.73 529.81 239.80C531.48 239.87 533.15 239.94 534.81 240.01C536.48 240.08 538.15 240.15 539.82 240.22C541.49 240.29 543.16 240.36 544.82 240.43C546.49 240.50 548.16 240.57 549.83 240.63C551.50 240.70 553.17 240.77 554.83 240.84C556.50 240.91 558.17 240.98 559.84 241.05C561.51 241.12 563.18 241.19 564.84 241.25C566.51 241.32 568.18 241.39 569.85 241.46C571.52 241.53 573.19 241.59 574.86 241.66C576.52 241.73 578.19 241.79 579.86 241.86C581.53 241.93 583.20 242.00 584.87 242.06C586.54 242.13 588.21 242.20 589.87 242.26C591.54 242.33 593.21 242.39 594.88 242.46C596.55 242.53 598.22 242.59 599.89 242.66C601.56 242.72 603.22 242.79 604.89 242.85C606.56 242.92 608.23 242.98 609.90 243.05C611.57 243.11 613.24 243.18 614.91 243.24C616.58 243.31 618.24 243.37 619.91 243.44C621.58 243.50 623.25 243.56 624.92 243.63C626.59 243.69 628.26 243.76 629.93 243.82C631.60 243.88 633.27 243.95 634.93 244.01C636.60 244.07 638.27 244.13 639.94 244.20C641.61 244.26 643.28 244.32 644.95 244.39C646.62 244.45 648.29 244.51 649.96 244.57C651.63 244.63 653.30 244.70 654.96 244.76C656.63 244.82 658.30 244.88 659.97 244.94C661.64 245.00 663.31 245.07 664.98 245.13C666.65 245.19 668.32 245.25 669.99 245.31C671.66 245.37 673.33 245.43 675.00 245.49C676.67 245.55 678.34 245.61 680.00 245.67C681.67 245.73 683.34 245.79 685.01 245.85C686.68 245.91 688.35 245.97 690.02 246.03C691.69 246.09 693.36 246.15 695.03 246.21C696.70 246.27 698.37 246.33 700.04 246.39C701.71 246.45 703.38 246.51 705.05 246.57C706.72 246.63 708.39 246.68 710.06 246.74C711.73 246.80 713.40 246.86 715.07 246.92C716.74 246.98 718.41 247.03 720.08 247.09C721.75 247.15 723.42 247.21 725.09 247.27C726.75 247.32 728.42 247.38 730.09 247.44C731.76 247.50 733.43 247.55 735.10 247.61C736.77 247.67 738.44 247.72 740.11 247.78C741.78 247.84 743.45 247.90 745.12 247.95C746.79 248.01 748.46 248.06 750.13 248.12C751.80 248.18 753.47 248.23 755.14 248.29C756.81 248.35 758.48 248.40 760.15 248.46C761.82 248.51 763.49 248.57 765.16 248.63C766.83 248.68 768.50 248.74 770.17 248.79C771.84 248.85 773.51 248.90 775.18 248.96C776.86 249.01 778.53 249.07 780.20 249.12C781.87 249.18 783.54 249.23 785.21 249.29C786.88 249.34 788.55 249.40 790.22 249.45C791.89 249.51 793.56 249.56 795.23 249.61C796.90 249.67 798.57 249.72 800.24 249.78C801.91 249.83 803.58 249.88 805.25 249.94C806.92 249.99 808.59 250.05 810.26 250.10C811.93 250.15 813.60 250.21 815.27 250.26C816.94 250.31 818.61 250.37 820.28 250.42C821.95 250.47 823.63 250.53 825.30 250.58C826.97 250.63 828.64 250.68 830.31 250.74C831.98 250.79 833.65 250.84 835.32 250.89C836.99 250.95 838.66 251.00 840.33 251.05C842.00 251.10 843.67 251.15 845.34 251.21C847.01 251.26 848.68 251.31 850.35 251.36C852.03 251.41 853.70 251.46 855.37 251.51C857.04 251.56 858.71 251.61 860.38 251.66C862.05 251.71 863.72 251.76 865.39 251.81C867.06 251.86 868.73 251.91 870.40 251.95C872.07 252.00 873.74 252.05 875.42 252.10C877.09 252.14 878.76 252.19 880.43 252.24C882.10 252.28 883.77 252.33 885.44 252.38C887.11 252.42 888.78 252.47 890.45 252.51C892.12 252.55 893.79 252.60 895.46 252.64C897.14 252.69 898.81 252.73 900.48 252.77C902.15 252.81 903.82 252.85 905.49 252.90C907.16 252.94 908.83 252.98 910.50 253.02C912.17 253.06 913.84 253.10 915.51 253.13C917.18 253.17 918.86 253.21 920.53 253.25C922.20 253.28 923.87 253.32 925.54 253.36C927.21 253.39 928.88 253.43 930.55 253.46C932.22 253.50 933.89 253.53 935.56 253.56C937.23 253.60 938.90 253.63 940.57 253.66C942.25 253.69 943.92 253.72 945.59 253.75C947.26 253.78 948.93 253.81 950.60 253.83C952.27 253.86 953.94 253.89 955.61 253.92C957.28 253.94 958.95 253.97 960.62 253.99C962.29 254.01 963.96 254.04 965.63 254.06C967.31 254.08 968.98 254.10 970.65 254.12C972.32 254.14 973.99 254.16 975.66 254.18C977.33 254.20 979.00 254.22 980.67 254.23C982.34 254.25 984.01 254.26 985.68 254.28C987.35 254.29 989.02 254.30 990.69 254.32C992.36 254.33 994.03 254.34 995.70 254.35C997.37 254.36 999.05 254.37 1000.72 254.37C1002.39 254.38 1004.06 254.39 1005.73 254.39C1007.40 254.40 1009.07 254.40 1010.74 254.40C1012.41 254.41 1014.08 254.41 1015.75 254.41C1017.42 254.41 1019.09 254.41 1020.76 254.40C1022.43 254.40 1024.10 254.40 1025.77 254.39C1027.44 254.39 1029.11 254.38 1030.78 254.37C1032.45 254.36 1034.12 254.35 1035.79 254.34C1037.46 254.33 1039.13 254.32 1040.80 254.31C1042.47 254.29 1044.14 254.28 1045.81 254.26C1047.48 254.25 1049.15 254.23 1050.82 254.21C1052.49 254.19 1054.16 254.17 1055.83 254.15C1057.50 254.13 1059.17 254.10 1060.84 254.08C1062.51 254.05 1064.18 254.03 1065.85 254.00C1067.52 253.97 1069.19 253.94 1070.86 253.91C1072.53 253.88 1074.20 253.84 1075.87 253.81C1077.54 253.77 1079.20 253.74 1080.87 253.70C1082.54 253.66 1084.21 253.62 1085.88 253.58C1087.55 253.54 1089.22 253.50 1090.89 253.45C1092.56 253.41 1094.23 253.36 1095.90 253.31C1097.57 253.27 1099.24 253.22 1100.91 253.16C1102.58 253.11 1104.24 253.06 1105.91 253.00C1107.58 252.95 1109.25 252.89 1110.92 252.83C1112.59 252.78 1114.26 252.72 1115.93 252.65C1117.60 252.59 1119.26 252.53 1120.93 252.46C1122.60 252.39 1124.27 252.33 1125.94 252.26C1127.61 252.19 1129.28 252.11 1130.95 252.04C1132.61 251.97 1134.28 251.89 1135.95 251.81C1137.62 251.74 1139.29 251.66 1140.96 251.57C1142.63 251.49 1144.29 251.41 1145.96 251.32C1147.63 251.24 1149.30 251.15 1150.97 251.06C1152.64 250.97 1154.30 250.88 1155.97 250.78C1157.64 250.69 1159.31 250.59 1160.98 250.50C1162.64 250.40 1164.31 250.30 1165.98 250.20C1167.65 250.09 1169.32 249.99 1170.98 249.88C1172.65 249.78 1174.32 249.67 1175.99 249.56C1177.65 249.44 1179.32 249.33 1180.99 249.22C1182.66 249.10 1184.33 248.98 1185.99 248.86C1187.66 248.74 1189.33 248.62 1190.99 248.49C1192.66 248.37 1194.33 248.24 1196.00 248.11C1197.66 247.98 1199.33 247.85 1201.00 247.72C1202.67 247.58 1204.33 247.45 1206.00 247.31C1207.67 247.17 1209.33 247.03 1211.00 246.89C1212.67 246.74 1214.33 246.60 1216.00 246.45C1217.67 246.30 1220.17 246.07 1221.00 246.00" fill="none" stroke="#3065a8" stroke-opacity="0.3" stroke-width="5.3" stroke-linejoin="round"/>
<path d="M198.96 52.53C199.13 53.34 199.66 55.76 199.99 57.39C200.31 59.02 200.60 60.66 200.89 62.30C201.18 63.95 201.45 65.61 201.74 67.27C202.03 68.92 202.30 70.59 202.63 72.25C202.96 73.90 203.30 75.56 203.72 77.19C204.13 78.83 204.58 80.46 205.13 82.03C205.69 83.60 206.30 85.16 207.05 86.62C207.80 88.08 208.65 89.48 209.63 90.80C210.60 92.12 211.72 93.35 212.87 94.55C214.02 95.74 215.28 96.86 216.54 97.97C217.79 99.08 219.09 100.14 220.39 101.20C221.69 102.25 223.02 103.27 224.35 104.28C225.69 105.28 227.05 106.26 228.41 107.23C229.78 108.20 231.16 109.14 232.55 110.08C233.93 111.01 235.34 111.93 236.74 112.84C238.15 113.75 239.57 114.64 240.99 115.54C242.41 116.43 243.84 117.31 245.26 118.19C246.69 119.07 248.13 119.94 249.56 120.82C250.99 121.70 252.42 122.57 253.85 123.45C255.28 124.33 256.70 125.21 258.12 126.10C259.54 126.99 260.96 127.88 262.37 128.78C263.77 129.69 265.18 130.60 266.56 131.53C267.95 132.46 269.33 133.40 270.70 134.36C272.06 135.32 273.42 136.29 274.76 137.29C276.09 138.28 277.42 139.30 278.73 140.32C280.05 141.34 281.35 142.39 282.65 143.43C283.95 144.48 285.24 145.53 286.53 146.59C287.82 147.64 289.11 148.70 290.40 149.75C291.70 150.80 292.99 151.86 294.30 152.90C295.60 153.94 296.91 154.97 298.23 155.99C299.55 157.01 300.88 158.02 302.23 159.00C303.58 159.98 304.94 160.95 306.32 161.89C307.70 162.83 309.11 163.74 310.52 164.64C311.93 165.54 313.37 166.41 314.80 167.29C316.23 168.17 317.67 169.04 319.10 169.92C320.53 170.80 321.96 171.68 323.37 172.58C324.79 173.48 326.19 174.40 327.58 175.33C328.97 176.27 330.35 177.22 331.71 178.18C333.08 179.15 334.43 180.13 335.77 181.13C337.11 182.13 338.44 183.14 339.75 184.17C341.06 185.20 342.36 186.25 343.64 187.32C344.93 188.38 346.20 189.47 347.45 190.56C348.71 191.66 349.95 192.77 351.19 193.89C352.43 195.01 353.65 196.14 354.88 197.27C356.11 198.40 357.33 199.54 358.56 200.67C359.79 201.80 361.02 202.94 362.25 204.06C363.49 205.18 364.73 206.29 365.99 207.39C367.25 208.49 368.52 209.58 369.80 210.64C371.09 211.71 372.39 212.76 373.70 213.79C375.01 214.83 376.34 215.85 377.68 216.85C379.01 217.85 380.37 218.83 381.73 219.80C383.09 220.77 384.47 221.73 385.85 222.67C387.24 223.61 388.64 224.53 390.04 225.44C391.45 226.35 392.87 227.24 394.29 228.12C395.72 229.00 397.15 229.87 398.60 230.72C400.04 231.57 401.49 232.41 402.95 233.24C404.41 234.06 405.88 234.87 407.35 235.67C408.82 236.47 410.30 237.25 411.79 238.02C413.27 238.79 414.76 239.55 416.26 240.30C417.75 241.05 419.25 241.78 420.76 242.50C422.26 243.23 423.77 243.93 425.29 244.63C426.80 245.33 428.32 246.02 429.84 246.69C431.37 247.37 432.90 248.03 434.43 248.68C435.96 249.34 437.50 249.98 439.04 250.61C440.58 251.24 442.13 251.86 443.68 252.46C445.23 253.07 446.78 253.67 448.34 254.26C449.90 254.85 451.46 255.42 453.02 255.99C454.59 256.56 456.16 257.11 457.73 257.66C459.30 258.21 460.88 258.75 462.46 259.28C464.04 259.81 465.62 260.32 467.20 260.83C468.79 261.34 470.38 261.84 471.97 262.34C473.56 262.83 475.16 263.31 476.75 263.79C478.35 264.26 479.95 264.73 481.55 265.19C483.16 265.64 484.76 266.09 486.37 266.54C487.98 266.98 489.59 267.41 491.20 267.84C492.81 268.26 494.43 268.68 496.04 269.09C497.66 269.51 499.28 269.91 500.90 270.31C502.52 270.70 504.14 271.09 505.77 271.48C507.39 271.86 509.02 272.24 510.65 272.61C512.28 272.98 513.91 273.34 515.54 273.70C517.17 274.06 518.80 274.41 520.44 274.76C522.07 275.11 523.71 275.45 525.35 275.79C526.98 276.12 528.62 276.45 530.26 276.78C531.90 277.11 533.54 277.43 535.19 277.74C536.83 278.06 538.47 278.37 540.12 278.68C541.76 278.99 543.41 279.29 545.06 279.60C546.70 279.90 548.35 280.19 550.00 280.49C551.65 280.78 553.30 281.07 554.95 281.36C556.60 281.65 558.25 281.93 559.90 282.21C561.56 282.49 563.21 282.77 564.86 283.05C566.51 283.33 568.17 283.60 569.82 283.87C571.48 284.15 573.13 284.42 574.79 284.69C576.44 284.95 578.10 285.22 579.75 285.49C581.41 285.76 583.06 286.02 584.72 286.29C586.37 286.55 588.03 286.81 589.69 287.08C591.34 287.34 593.00 287.60 594.65 287.87C596.31 288.13 597.97 288.39 599.62 288.65C601.28 288.92 602.93 289.18 604.59 289.45C606.24 289.71 607.90 289.97 609.55 290.24C611.21 290.51 612.86 290.77 614.51 291.04C616.17 291.31 617.82 291.58 619.47 291.85C621.12 292.12 622.78 292.39 624.43 292.67C626.08 292.94 627.73 293.22 629.38 293.50C631.03 293.78 632.68 294.06 634.32 294.35C635.97 294.63 637.62 294.92 639.27 295.21C640.91 295.50 642.56 295.80 644.20 296.10C645.84 296.39 647.49 296.70 649.13 297.00C650.77 297.31 652.41 297.62 654.05 297.93C655.68 298.24 657.32 298.56 658.96 298.88C660.59 299.21 662.23 299.53 663.86 299.87C665.49 300.20 667.13 300.54 668.76 300.88C670.39 301.22 672.01 301.56 673.64 301.92C675.27 302.27 676.89 302.62 678.52 302.98C680.14 303.34 681.77 303.70 683.39 304.07C685.01 304.44 686.63 304.81 688.25 305.19C689.87 305.57 691.49 305.95 693.10 306.34C694.72 306.72 696.34 307.11 697.95 307.51C699.57 307.90 701.18 308.30 702.79 308.70C704.41 309.10 706.02 309.51 707.63 309.92C709.24 310.33 710.85 310.74 712.46 311.16C714.06 311.58 715.67 312.00 717.28 312.43C718.88 312.85 720.49 313.28 722.09 313.72C723.70 314.15 725.30 314.59 726.91 315.03C728.51 315.47 730.11 315.91 731.71 316.36C733.31 316.81 734.91 317.26 736.51 317.72C738.11 318.17 739.71 318.63 741.31 319.09C742.91 319.55 744.51 320.02 746.10 320.49C747.70 320.96 749.29 321.43 750.89 321.90C752.49 322.38 754.08 322.86 755.67 323.34C757.27 323.82 758.86 324.31 760.46 324.79C762.05 325.28 763.64 325.77 765.23 326.27C766.83 326.76 768.42 327.26 770.01 327.76C771.60 328.26 773.19 328.76 774.78 329.26C776.37 329.77 777.96 330.28 779.55 330.79C781.14 331.30 782.73 331.81 784.32 332.33C785.91 332.85 787.50 333.37 789.09 333.89C790.67 334.41 792.26 334.93 793.85 335.46C795.44 335.99 797.03 336.52 798.61 337.05C800.20 337.58 801.79 338.11 803.38 338.65C804.96 339.19 806.55 339.73 808.14 340.27C809.73 340.81 811.31 341.35 812.90 341.90C814.49 342.44 816.07 342.99 817.66 343.54C819.25 344.09 820.83 344.64 822.42 345.20C824.00 345.76 825.59 346.31 827.17 346.88C828.76 347.44 830.34 348.00 831.92 348.57C833.51 349.14 835.09 349.71 836.67 350.28C838.25 350.85 839.83 351.43 841.41 352.01C842.99 352.59 844.57 353.17 846.15 353.76C847.72 354.35 849.30 354.94 850.87 355.53C852.45 356.12 854.02 356.72 855.59 357.32C857.16 357.92 858.73 358.53 860.30 359.14C861.87 359.75 863.43 360.36 865.00 360.98C866.56 361.59 868.13 362.21 869.69 362.84C871.25 363.46 872.81 364.09 874.37 364.73C875.92 365.36 877.48 366.00 879.03 366.64C880.58 367.29 882.13 367.93 883.68 368.59C885.23 369.24 886.77 369.89 888.32 370.56C889.86 371.22 891.40 371.88 892.94 372.56C894.47 373.23 896.01 373.90 897.54 374.59C899.07 375.27 900.60 375.95 902.13 376.65C903.66 377.34 905.18 378.04 906.70 378.74C908.22 379.44 909.74 380.15 911.25 380.86C912.76 381.58 914.28 382.30 915.78 383.02C917.29 383.75 918.79 384.48 920.29 385.22C921.79 385.95 923.29 386.70 924.78 387.45C926.28 388.20 927.76 388.95 929.25 389.71C930.73 390.48 932.22 391.24 933.69 392.02C935.17 392.79 936.64 393.57 938.11 394.36C939.58 395.15 941.05 395.94 942.51 396.74C943.97 397.54 945.43 398.35 946.88 399.16C948.33 399.98 949.78 400.80 951.22 401.62C952.66 402.45 954.10 403.29 955.53 404.13C956.97 404.97 958.40 405.82 959.82 406.68C961.25 407.53 962.66 408.40 964.08 409.27C965.49 410.14 966.90 411.02 968.31 411.90C969.71 412.79 971.11 413.69 972.50 414.59C973.89 415.49 975.28 416.40 976.66 417.32C978.05 418.23 979.42 419.16 980.80 420.09C982.17 421.03 983.53 421.97 984.89 422.92C986.25 423.87 987.61 424.83 988.96 425.79C990.30 426.76 991.65 427.73 992.98 428.72C994.32 429.70 995.65 430.69 996.97 431.69C998.30 432.69 999.62 433.70 1000.93 434.72C1002.24 435.74 1003.54 436.77 1004.84 437.80C1006.14 438.84 1007.43 439.88 1008.72 440.94C1010.00 441.99 1011.28 443.06 1012.56 444.13C1013.83 445.20 1015.09 446.28 1016.35 447.38C1017.61 448.47 1018.86 449.57 1020.11 450.68C1021.35 451.79 1022.59 452.91 1023.82 454.04C1025.05 455.17 1026.27 456.31 1027.48 457.46C1028.70 458.61 1029.91 459.77 1031.11 460.94C1032.31 462.11 1033.50 463.29 1034.69 464.48C1035.87 465.67 1037.05 466.87 1038.22 468.08C1039.38 469.29 1040.54 470.52 1041.69 471.75C1042.83 472.98 1043.97 474.23 1045.08 475.48C1046.20 476.74 1047.31 478.01 1048.40 479.29C1049.49 480.57 1050.56 481.86 1051.62 483.17C1052.68 484.47 1053.72 485.79 1054.73 487.12C1055.75 488.45 1056.75 489.80 1057.73 491.16C1058.71 492.52 1059.67 493.89 1060.60 495.27C1061.53 496.66 1062.44 498.06 1063.33 499.47C1064.21 500.89 1065.07 502.32 1065.91 503.76C1066.75 505.20 1067.56 506.66 1068.36 508.13C1069.15 509.59 1069.93 511.07 1070.69 512.55C1071.45 514.04 1072.19 515.54 1072.92 517.04C1073.65 518.54 1074.36 520.05 1075.07 521.56C1075.77 523.07 1076.47 524.59 1077.16 526.11C1077.85 527.63 1078.53 529.16 1079.20 530.68C1079.87 532.21 1080.54 533.74 1081.20 535.27C1081.86 536.80 1082.52 538.34 1083.16 539.87C1083.81 541.41 1084.45 542.95 1085.08 544.50C1085.72 546.04 1086.34 547.58 1086.97 549.13C1087.59 550.68 1088.20 552.23 1088.81 553.78C1089.42 555.33 1090.03 556.89 1090.62 558.44C1091.22 560.00 1091.81 561.56 1092.40 563.12C1092.99 564.68 1093.57 566.25 1094.15 567.81C1094.73 569.38 1095.30 570.94 1095.87 572.51C1096.43 574.08 1097.00 575.65 1097.55 577.23C1098.11 578.80 1098.67 580.37 1099.21 581.95C1099.76 583.53 1100.31 585.10 1100.85 586.68C1101.39 588.26 1101.93 589.84 1102.46 591.42C1103.00 593.01 1103.53 594.59 1104.05 596.18C1104.58 597.76 1105.10 599.35 1105.62 600.93C1106.14 602.52 1106.66 604.11 1107.17 605.70C1107.68 607.29 1108.19 608.88 1108.70 610.47C1109.21 612.06 1109.71 613.66 1110.22 615.25C1110.72 616.84 1111.22 618.44 1111.72 620.03C1112.22 621.63 1112.71 623.22 1113.21 624.82C1113.70 626.42 1114.19 628.01 1114.68 629.61C1115.17 631.21 1115.66 632.81 1116.15 634.41C1116.64 636.01 1117.12 637.60 1117.61 639.20C1118.09 640.80 1118.58 642.40 1119.06 644.00C1119.54 645.60 1120.02 647.20 1120.50 648.80C1120.98 650.41 1121.46 652.01 1121.94 653.61C1122.42 655.21 1122.89 656.81 1123.37 658.41C1123.84 660.02 1124.31 661.62 1124.79 663.22C1125.26 664.82 1125.73 666.43 1126.20 668.03C1126.66 669.63 1127.13 671.24 1127.60 672.84C1128.06 674.45 1128.53 676.05 1128.99 677.66C1129.45 679.26 1129.91 680.87 1130.37 682.48C1130.83 684.08 1131.29 685.69 1131.74 687.30C1132.20 688.90 1132.65 690.51 1133.10 692.12C1133.56 693.73 1134.01 695.33 1134.45 696.94C1134.90 698.55 1135.35 700.16 1135.79 701.77C1136.24 703.38 1136.68 704.99 1137.12 706.60C1137.56 708.21 1138.00 709.83 1138.44 711.44C1138.87 713.05 1139.31 714.66 1139.74 716.27C1140.18 717.89 1140.61 719.50 1141.03 721.11C1141.46 722.73 1141.89 724.34 1142.31 725.96C1142.74 727.57 1143.16 729.19 1143.58 730.80C1144.00 732.42 1144.42 734.04 1144.83 735.65C1145.25 737.27 1145.66 738.89 1146.07 740.51C1146.48 742.13 1146.89 743.75 1147.30 745.36C1147.70 746.98 1148.11 748.60 1148.51 750.23C1148.91 751.85 1149.31 753.47 1149.71 755.09C1150.10 756.71 1150.50 758.33 1150.89 759.96C1151.28 761.58 1151.67 763.20 1152.05 764.83C1152.44 766.45 1152.82 768.08 1153.21 769.70C1153.59 771.33 1153.96 772.96 1154.34 774.58C1154.72 776.21 1155.09 777.84 1155.46 779.47C1155.83 781.09 1156.20 782.72 1156.56 784.35C1156.93 785.98 1157.29 787.61 1157.65 789.24C1158.01 790.88 1158.36 792.51 1158.71 794.14C1159.07 795.77 1159.42 797.41 1159.77 799.04C1160.11 800.67 1160.46 802.31 1160.80 803.94C1161.14 805.58 1161.48 807.22 1161.81 808.85C1162.15 810.49 1162.48 812.13 1162.81 813.77C1163.14 815.40 1163.46 817.04 1163.79 818.68C1164.11 820.32 1164.43 821.96 1164.74 823.61C1165.06 825.25 1165.37 826.89 1165.68 828.53C1165.99 830.17 1166.30 831.82 1166.60 833.46C1166.91 835.11 1167.35 837.58 1167.50 838.40" fill="none" stroke="#0f3778" stroke-width="3.1" stroke-linejoin="round"/>
<path d="M198.96 52.51C199.20 53.31 199.91 55.71 200.39 57.30C200.87 58.89 201.35 60.49 201.85 62.08C202.35 63.67 202.86 65.25 203.39 66.83C203.92 68.41 204.46 69.99 205.03 71.56C205.60 73.13 206.19 74.70 206.83 76.25C207.46 77.80 208.11 79.35 208.84 80.85C209.57 82.35 210.33 83.84 211.20 85.24C212.06 86.65 212.99 88.01 214.04 89.28C215.09 90.55 216.26 91.73 217.49 92.86C218.72 93.98 220.08 95.00 221.41 96.01C222.75 97.02 224.13 97.99 225.52 98.94C226.90 99.89 228.29 100.80 229.70 101.70C231.11 102.61 232.53 103.48 233.95 104.35C235.38 105.21 236.82 106.05 238.26 106.89C239.70 107.73 241.16 108.55 242.61 109.37C244.06 110.19 245.52 111.00 246.98 111.82C248.43 112.64 249.89 113.45 251.33 114.28C252.78 115.11 254.22 115.94 255.66 116.79C257.09 117.64 258.51 118.51 259.92 119.39C261.33 120.27 262.73 121.16 264.13 122.07C265.52 122.98 266.91 123.90 268.29 124.82C269.67 125.75 271.04 126.69 272.40 127.64C273.77 128.59 275.13 129.55 276.49 130.51C277.85 131.47 279.20 132.44 280.55 133.41C281.90 134.38 283.25 135.36 284.60 136.34C285.95 137.31 287.29 138.30 288.64 139.28C289.99 140.26 291.33 141.24 292.68 142.22C294.03 143.20 295.38 144.17 296.74 145.15C298.09 146.12 299.45 147.09 300.81 148.05C302.18 149.01 303.54 149.97 304.92 150.92C306.29 151.87 307.67 152.81 309.06 153.74C310.45 154.67 311.84 155.60 313.24 156.52C314.63 157.44 316.04 158.35 317.44 159.26C318.84 160.17 320.24 161.08 321.64 161.99C323.04 162.90 324.44 163.81 325.84 164.73C327.23 165.65 328.62 166.57 330.00 167.50C331.39 168.43 332.76 169.36 334.13 170.31C335.50 171.26 336.85 172.21 338.20 173.19C339.54 174.16 340.88 175.14 342.19 176.14C343.51 177.15 344.81 178.16 346.10 179.20C347.38 180.24 348.65 181.30 349.91 182.37C351.17 183.44 352.41 184.53 353.65 185.63C354.89 186.72 356.12 187.83 357.35 188.95C358.57 190.06 359.80 191.18 361.02 192.31C362.25 193.43 363.48 194.56 364.71 195.68C365.95 196.80 367.18 197.93 368.43 199.05C369.69 200.16 370.94 201.28 372.22 202.38C373.49 203.48 374.77 204.58 376.06 205.66C377.35 206.74 378.66 207.82 379.97 208.87C381.29 209.93 382.61 210.98 383.95 212.00C385.29 213.02 386.64 214.03 388.01 215.02C389.37 216.01 390.75 216.98 392.14 217.92C393.53 218.86 394.93 219.78 396.34 220.67C397.76 221.56 399.19 222.43 400.63 223.27C402.08 224.10 403.54 224.91 405.01 225.69C406.48 226.46 407.97 227.20 409.47 227.91C410.97 228.61 412.49 229.28 414.02 229.92C415.55 230.55 417.10 231.14 418.66 231.70C420.22 232.27 421.80 232.80 423.38 233.30C424.96 233.81 426.56 234.28 428.16 234.74C429.76 235.20 431.37 235.63 432.98 236.05C434.59 236.47 436.21 236.87 437.83 237.27C439.45 237.67 441.07 238.06 442.70 238.44C444.32 238.82 445.95 239.19 447.57 239.56C449.20 239.93 450.82 240.29 452.45 240.64C454.08 241.00 455.71 241.34 457.34 241.69C458.97 242.03 460.60 242.36 462.23 242.69C463.87 243.02 465.50 243.34 467.14 243.66C468.77 243.98 470.41 244.29 472.04 244.60C473.68 244.90 475.32 245.20 476.96 245.50C478.59 245.80 480.23 246.09 481.88 246.37C483.52 246.66 485.16 246.94 486.80 247.21C488.44 247.49 490.08 247.76 491.73 248.02C493.37 248.29 495.02 248.55 496.66 248.81C498.31 249.06 499.95 249.31 501.60 249.56C503.25 249.81 504.90 250.05 506.55 250.29C508.19 250.53 509.84 250.77 511.49 251.00C513.14 251.23 514.79 251.46 516.44 251.69C518.10 251.91 519.75 252.14 521.40 252.35C523.05 252.57 524.70 252.79 526.36 253.00C528.01 253.21 529.66 253.42 531.32 253.63C532.97 253.83 534.63 254.04 536.28 254.24C537.94 254.44 539.59 254.64 541.25 254.83C542.91 255.03 544.56 255.22 546.22 255.42C547.88 255.61 549.53 255.80 551.19 255.99C552.85 256.17 554.51 256.36 556.17 256.54C557.82 256.73 559.48 256.91 561.14 257.09C562.80 257.27 564.46 257.45 566.12 257.63C567.78 257.81 569.44 257.99 571.10 258.16C572.75 258.34 574.41 258.52 576.07 258.69C577.73 258.87 579.39 259.04 581.05 259.21C582.71 259.39 584.37 259.56 586.03 259.73C587.69 259.91 589.35 260.08 591.01 260.25C592.67 260.42 594.33 260.60 595.99 260.77C597.65 260.94 599.31 261.12 600.97 261.29C602.63 261.46 604.29 261.64 605.95 261.81C607.61 261.99 609.27 262.16 610.93 262.34C612.59 262.51 614.25 262.69 615.91 262.87C617.56 263.05 619.22 263.22 620.88 263.41C622.54 263.59 624.20 263.77 625.85 263.95C627.51 264.13 629.17 264.32 630.83 264.51C632.48 264.69 634.14 264.88 635.80 265.07C637.45 265.26 639.11 265.45 640.76 265.65C642.42 265.84 644.08 266.04 645.73 266.23C647.39 266.43 649.04 266.63 650.69 266.83C652.35 267.03 654.00 267.23 655.66 267.44C657.31 267.64 658.96 267.85 660.62 268.06C662.27 268.26 663.92 268.47 665.58 268.68C667.23 268.89 668.88 269.11 670.53 269.32C672.18 269.53 673.84 269.75 675.49 269.97C677.14 270.18 678.79 270.40 680.44 270.62C682.09 270.85 683.74 271.07 685.39 271.29C687.04 271.51 688.69 271.74 690.34 271.97C691.99 272.19 693.64 272.42 695.29 272.65C696.94 272.88 698.59 273.11 700.24 273.35C701.88 273.58 703.53 273.82 705.18 274.05C706.83 274.29 708.48 274.53 710.12 274.76C711.77 275.00 713.42 275.25 715.07 275.49C716.71 275.73 718.36 275.97 720.01 276.22C721.65 276.46 723.30 276.71 724.95 276.96C726.59 277.21 728.24 277.46 729.88 277.71C731.53 277.96 733.18 278.21 734.82 278.47C736.47 278.72 738.11 278.98 739.76 279.23C741.40 279.49 743.05 279.75 744.69 280.01C746.34 280.27 747.98 280.53 749.62 280.79C751.27 281.05 752.91 281.32 754.56 281.58C756.20 281.85 757.84 282.12 759.49 282.38C761.13 282.65 762.77 282.92 764.42 283.19C766.06 283.46 767.70 283.74 769.35 284.01C770.99 284.28 772.63 284.56 774.27 284.83C775.92 285.11 777.56 285.39 779.20 285.67C780.84 285.94 782.48 286.22 784.13 286.51C785.77 286.79 787.41 287.07 789.05 287.35C790.69 287.64 792.33 287.92 793.98 288.21C795.62 288.50 797.26 288.78 798.90 289.07C800.54 289.36 802.18 289.65 803.82 289.94C805.46 290.23 807.10 290.53 808.74 290.82C810.39 291.11 812.03 291.41 813.67 291.70C815.31 292.00 816.95 292.30 818.59 292.60C820.23 292.90 821.87 293.19 823.51 293.50C825.15 293.80 826.79 294.10 828.43 294.40C830.07 294.71 831.71 295.01 833.35 295.31C834.99 295.62 836.63 295.93 838.26 296.23C839.90 296.54 841.54 296.85 843.18 297.16C844.82 297.47 846.46 297.78 848.10 298.09C849.74 298.41 851.38 298.72 853.02 299.03C854.66 299.35 856.30 299.66 857.94 299.98C859.57 300.30 861.21 300.61 862.85 300.93C864.49 301.25 866.13 301.57 867.77 301.89C869.41 302.21 871.05 302.53 872.69 302.85C874.32 303.18 875.96 303.50 877.60 303.83C879.24 304.15 880.88 304.48 882.52 304.80C884.16 305.13 885.80 305.46 887.43 305.78C889.07 306.11 890.71 306.44 892.35 306.77C893.99 307.10 895.63 307.43 897.27 307.77C898.91 308.10 900.54 308.43 902.18 308.77C903.82 309.10 905.46 309.44 907.10 309.77C908.74 310.11 910.37 310.45 912.01 310.79C913.65 311.13 915.29 311.47 916.92 311.82C918.56 312.16 920.20 312.51 921.83 312.85C923.47 313.20 925.10 313.55 926.74 313.90C928.37 314.26 930.01 314.61 931.64 314.97C933.27 315.32 934.91 315.68 936.54 316.04C938.17 316.40 939.80 316.77 941.44 317.13C943.07 317.50 944.70 317.87 946.33 318.24C947.96 318.61 949.58 318.98 951.21 319.36C952.84 319.74 954.47 320.12 956.09 320.50C957.72 320.89 959.34 321.27 960.97 321.66C962.59 322.05 964.21 322.45 965.83 322.84C967.45 323.24 969.07 323.64 970.69 324.04C972.31 324.45 973.93 324.86 975.55 325.27C977.16 325.68 978.78 326.10 980.39 326.51C982.00 326.93 983.62 327.36 985.23 327.79C986.84 328.21 988.45 328.65 990.05 329.08C991.66 329.52 993.27 329.96 994.87 330.40C996.48 330.85 998.08 331.30 999.68 331.75C1001.28 332.21 1002.88 332.67 1004.48 333.13C1006.08 333.60 1007.67 334.06 1009.26 334.54C1010.86 335.01 1012.45 335.49 1014.04 335.98C1015.63 336.46 1017.22 336.95 1018.80 337.45C1020.39 337.94 1021.98 338.44 1023.56 338.95C1025.14 339.45 1026.72 339.97 1028.30 340.48C1029.87 341.00 1031.45 341.52 1033.02 342.05C1034.60 342.58 1036.17 343.12 1037.73 343.66C1039.30 344.20 1040.87 344.75 1042.43 345.30C1044.00 345.85 1045.56 346.41 1047.12 346.98C1048.68 347.55 1050.23 348.12 1051.79 348.70C1053.34 349.28 1054.89 349.86 1056.44 350.45C1057.99 351.05 1059.53 351.65 1061.08 352.25C1062.62 352.86 1064.16 353.47 1065.70 354.09C1067.24 354.71 1068.77 355.34 1070.30 355.98C1071.83 356.61 1073.36 357.25 1074.89 357.90C1076.41 358.55 1077.94 359.21 1079.46 359.88C1080.98 360.54 1082.49 361.21 1084.01 361.89C1085.52 362.57 1087.03 363.26 1088.54 363.96C1090.05 364.65 1091.55 365.36 1093.05 366.07C1094.55 366.78 1096.05 367.50 1097.55 368.23C1099.04 368.96 1100.53 369.70 1102.02 370.44C1103.51 371.19 1104.99 371.94 1106.47 372.71C1107.95 373.47 1109.43 374.24 1110.90 375.02C1112.37 375.80 1113.84 376.59 1115.31 377.39C1116.77 378.19 1118.24 379.00 1119.69 379.82C1121.15 380.63 1122.60 381.46 1124.04 382.30C1125.49 383.14 1126.93 383.99 1128.36 384.85C1129.80 385.71 1131.23 386.57 1132.65 387.46C1134.07 388.34 1135.48 389.23 1136.89 390.13C1138.30 391.04 1139.70 391.95 1141.09 392.88C1142.48 393.81 1143.86 394.75 1145.24 395.70C1146.61 396.66 1147.98 397.62 1149.33 398.60C1150.69 399.58 1152.04 400.57 1153.38 401.57C1154.71 402.58 1156.04 403.60 1157.36 404.63C1158.68 405.66 1159.98 406.71 1161.28 407.77C1162.58 408.83 1163.86 409.91 1165.14 411.00C1166.41 412.08 1167.67 413.19 1168.92 414.30C1170.17 415.42 1171.41 416.55 1172.64 417.69C1173.87 418.84 1175.09 419.99 1176.29 421.16C1177.50 422.33 1178.69 423.51 1179.87 424.70C1181.06 425.89 1182.23 427.09 1183.39 428.31C1184.54 429.52 1185.69 430.75 1186.83 431.98C1187.96 433.22 1189.08 434.47 1190.19 435.72C1191.30 436.98 1192.40 438.25 1193.49 439.53C1194.58 440.80 1195.65 442.09 1196.71 443.38C1197.77 444.68 1198.82 445.98 1199.86 447.30C1200.90 448.61 1201.92 449.93 1202.94 451.26C1203.95 452.59 1204.95 453.93 1205.93 455.27C1206.92 456.61 1207.90 457.97 1208.86 459.33C1209.82 460.68 1210.77 462.05 1211.70 463.42C1212.64 464.79 1213.56 466.17 1214.47 467.56C1215.38 468.95 1216.28 470.34 1217.17 471.74C1218.06 473.14 1218.93 474.54 1219.79 475.95C1220.66 477.36 1221.51 478.78 1222.35 480.20C1223.19 481.63 1224.02 483.06 1224.83 484.49C1225.65 485.93 1226.45 487.37 1227.25 488.82C1228.04 490.27 1228.82 491.72 1229.60 493.18C1230.37 494.64 1231.13 496.10 1231.88 497.57C1232.63 499.04 1233.37 500.52 1234.10 502.00C1234.83 503.48 1235.55 504.97 1236.26 506.46C1236.97 507.95 1237.67 509.44 1238.36 510.95C1239.04 512.45 1239.72 513.95 1240.39 515.46C1241.06 516.98 1241.72 518.49 1242.37 520.01C1243.02 521.53 1243.66 523.06 1244.29 524.59C1244.93 526.12 1245.55 527.65 1246.16 529.19C1246.77 530.73 1247.38 532.27 1247.97 533.82C1248.57 535.36 1249.16 536.92 1249.73 538.47C1250.31 540.03 1250.88 541.59 1251.44 543.15C1252.01 544.71 1252.56 546.28 1253.11 547.85C1253.65 549.42 1254.19 550.99 1254.72 552.57C1255.25 554.15 1255.77 555.73 1256.28 557.31C1256.80 558.90 1257.30 560.49 1257.80 562.08C1258.30 563.67 1258.80 565.26 1259.28 566.86C1259.77 568.46 1260.24 570.06 1260.71 571.66C1261.19 573.27 1261.65 574.87 1262.11 576.48C1262.57 578.09 1263.02 579.70 1263.46 581.32C1263.91 582.93 1264.35 584.55 1264.78 586.17C1265.21 587.79 1265.64 589.41 1266.06 591.03C1266.48 592.65 1266.89 594.28 1267.30 595.91C1267.71 597.54 1268.11 599.17 1268.51 600.80C1268.91 602.43 1269.30 604.06 1269.69 605.70C1270.08 607.34 1270.46 608.97 1270.84 610.61C1271.21 612.25 1271.58 613.89 1271.95 615.53C1272.32 617.18 1272.68 618.82 1273.04 620.46C1273.40 622.11 1273.75 623.76 1274.10 625.40C1274.45 627.05 1274.80 628.70 1275.14 630.35C1275.48 632.00 1275.82 633.65 1276.16 635.30C1276.49 636.95 1276.82 638.60 1277.15 640.25C1277.47 641.91 1277.80 643.56 1278.12 645.21C1278.44 646.87 1278.75 648.52 1279.07 650.17C1279.38 651.83 1279.69 653.48 1280.00 655.14C1280.31 656.79 1280.61 658.45 1280.92 660.10C1281.22 661.76 1281.52 663.41 1281.82 665.06C1282.12 666.72 1282.41 668.37 1282.71 670.03C1283.00 671.68 1283.29 673.34 1283.58 674.99C1283.87 676.64 1284.16 678.29 1284.44 679.95C1284.73 681.60 1285.02 683.25 1285.30 684.90C1285.58 686.55 1285.86 688.20 1286.15 689.85C1286.43 691.50 1286.71 693.15 1286.99 694.79C1287.27 696.44 1287.54 698.08 1287.82 699.73C1288.10 701.37 1288.38 703.02 1288.65 704.66C1288.93 706.30 1289.20 707.94 1289.48 709.58C1289.76 711.21 1290.03 712.85 1290.31 714.49C1290.58 716.12 1290.86 717.75 1291.14 719.38C1291.41 721.02 1291.69 722.64 1291.97 724.27C1292.24 725.90 1292.52 727.52 1292.80 729.15C1293.08 730.77 1293.36 732.39 1293.64 734.01C1293.92 735.62 1294.20 737.24 1294.48 738.85C1294.77 740.47 1295.05 742.08 1295.34 743.68C1295.62 745.29 1296.06 747.70 1296.20 748.50" fill="none" stroke="#0f3778" stroke-width="3.1" stroke-linejoin="round"/>
<path d="M198.98 52.51C199.26 53.30 200.12 55.68 200.68 57.25C201.25 58.82 201.80 60.37 202.35 61.94C202.91 63.50 203.46 65.05 204.02 66.62C204.59 68.19 205.14 69.76 205.73 71.34C206.32 72.92 206.91 74.52 207.56 76.08C208.22 77.64 208.89 79.20 209.65 80.69C210.41 82.18 211.23 83.64 212.14 85.01C213.06 86.38 214.06 87.67 215.14 88.90C216.21 90.14 217.38 91.30 218.59 92.41C219.81 93.52 221.10 94.57 222.42 95.58C223.75 96.59 225.13 97.54 226.54 98.47C227.95 99.39 229.40 100.28 230.87 101.14C232.33 102.00 233.82 102.83 235.31 103.65C236.80 104.47 238.31 105.26 239.80 106.06C241.29 106.85 242.77 107.63 244.25 108.41C245.73 109.20 247.21 109.97 248.67 110.75C250.14 111.53 251.60 112.30 253.05 113.09C254.50 113.88 255.95 114.66 257.38 115.46C258.82 116.27 260.25 117.07 261.67 117.90C263.10 118.73 264.51 119.56 265.91 120.42C267.32 121.28 268.72 122.16 270.10 123.06C271.49 123.97 272.87 124.90 274.24 125.85C275.61 126.80 276.97 127.78 278.33 128.78C279.68 129.77 281.03 130.79 282.38 131.81C283.73 132.84 285.07 133.88 286.42 134.91C287.76 135.95 289.10 137.00 290.45 138.03C291.80 139.07 293.14 140.10 294.50 141.12C295.85 142.14 297.21 143.16 298.58 144.15C299.95 145.14 301.32 146.12 302.71 147.06C304.10 148.01 305.49 148.93 306.91 149.82C308.32 150.71 309.74 151.56 311.17 152.40C312.60 153.24 314.05 154.04 315.48 154.86C316.91 155.68 318.35 156.49 319.77 157.32C321.20 158.16 322.61 159.00 324.01 159.88C325.40 160.76 326.78 161.67 328.14 162.61C329.51 163.54 330.86 164.51 332.19 165.49C333.53 166.47 334.86 167.48 336.17 168.51C337.48 169.53 338.78 170.58 340.08 171.64C341.37 172.71 342.66 173.79 343.93 174.88C345.21 175.97 346.48 177.07 347.75 178.19C349.01 179.30 350.27 180.42 351.53 181.55C352.79 182.68 354.04 183.82 355.29 184.95C356.55 186.09 357.80 187.23 359.05 188.37C360.30 189.51 361.55 190.65 362.81 191.79C364.06 192.92 365.32 194.05 366.58 195.18C367.84 196.30 369.11 197.42 370.38 198.53C371.65 199.63 372.93 200.73 374.22 201.81C375.50 202.89 376.80 203.96 378.10 205.01C379.41 206.06 380.72 207.10 382.05 208.11C383.38 209.12 384.71 210.12 386.07 211.08C387.42 212.05 388.78 213.00 390.17 213.92C391.55 214.83 392.95 215.72 394.36 216.59C395.77 217.45 397.20 218.28 398.64 219.09C400.09 219.90 401.54 220.68 403.02 221.44C404.49 222.20 405.97 222.93 407.47 223.64C408.96 224.35 410.47 225.03 411.99 225.69C413.51 226.35 415.04 226.98 416.58 227.60C418.13 228.21 419.68 228.80 421.24 229.37C422.80 229.94 424.37 230.48 425.95 231.01C427.53 231.53 429.12 232.04 430.71 232.52C432.31 233.01 433.91 233.47 435.52 233.92C437.13 234.36 438.75 234.79 440.37 235.20C441.99 235.60 443.61 235.99 445.24 236.37C446.87 236.74 448.51 237.09 450.15 237.43C451.79 237.77 453.43 238.09 455.07 238.40C456.72 238.70 458.37 238.99 460.01 239.27C461.66 239.55 463.31 239.81 464.96 240.06C466.62 240.30 468.27 240.54 469.92 240.76C471.58 240.98 473.23 241.19 474.89 241.38C476.54 241.58 478.20 241.76 479.86 241.94C481.52 242.11 483.18 242.28 484.84 242.43C486.50 242.58 488.16 242.73 489.82 242.86C491.49 243.00 493.15 243.12 494.81 243.24C496.48 243.36 498.14 243.47 499.81 243.58C501.47 243.68 503.14 243.78 504.81 243.87C506.47 243.96 508.14 244.05 509.81 244.13C511.48 244.21 513.15 244.29 514.82 244.36C516.48 244.43 518.15 244.50 519.82 244.57C521.49 244.63 523.16 244.69 524.83 244.76C526.50 244.82 528.17 244.88 529.84 244.94C531.51 245.00 533.18 245.05 534.85 245.11C536.53 245.17 538.20 245.23 539.87 245.29C541.54 245.35 543.21 245.41 544.88 245.47C546.55 245.53 548.22 245.60 549.89 245.66C551.56 245.73 553.23 245.79 554.90 245.86C556.57 245.93 558.24 245.99 559.91 246.06C561.58 246.13 563.25 246.20 564.92 246.27C566.59 246.35 568.25 246.42 569.92 246.49C571.59 246.57 573.26 246.64 574.93 246.72C576.60 246.80 578.27 246.87 579.94 246.95C581.61 247.03 583.28 247.11 584.95 247.19C586.61 247.27 588.28 247.36 589.95 247.44C591.62 247.52 593.29 247.61 594.96 247.69C596.63 247.78 598.29 247.86 599.96 247.95C601.63 248.04 603.30 248.13 604.97 248.22C606.64 248.31 608.30 248.40 609.97 248.49C611.64 248.58 613.31 248.68 614.98 248.77C616.64 248.87 618.31 248.96 619.98 249.06C621.65 249.15 623.31 249.25 624.98 249.35C626.65 249.45 628.32 249.55 629.98 249.65C631.65 249.75 633.32 249.85 634.99 249.95C636.65 250.06 638.32 250.16 639.99 250.27C641.65 250.37 643.32 250.48 644.99 250.58C646.66 250.69 648.32 250.80 649.99 250.91C651.66 251.02 653.32 251.13 654.99 251.24C656.66 251.35 658.32 251.46 659.99 251.57C661.65 251.69 663.32 251.80 664.99 251.92C666.65 252.03 668.32 252.15 669.99 252.26C671.65 252.38 673.32 252.50 674.98 252.62C676.65 252.74 678.32 252.86 679.98 252.98C681.65 253.10 683.31 253.22 684.98 253.34C686.64 253.46 688.31 253.59 689.98 253.71C691.64 253.84 693.31 253.96 694.97 254.09C696.64 254.21 698.30 254.34 699.97 254.47C701.63 254.60 703.30 254.73 704.96 254.86C706.63 254.99 708.29 255.12 709.96 255.25C711.62 255.38 713.29 255.52 714.95 255.65C716.62 255.78 718.28 255.92 719.95 256.05C721.61 256.19 723.28 256.32 724.94 256.46C726.60 256.60 728.27 256.74 729.93 256.88C731.60 257.01 733.26 257.15 734.93 257.29C736.59 257.44 738.25 257.58 739.92 257.72C741.58 257.86 743.25 258.00 744.91 258.15C746.57 258.29 748.24 258.44 749.90 258.58C751.57 258.73 753.23 258.87 754.89 259.02C756.56 259.17 758.22 259.32 759.88 259.47C761.55 259.61 763.21 259.76 764.88 259.91C766.54 260.06 768.20 260.22 769.87 260.37C771.53 260.52 773.19 260.67 774.85 260.83C776.52 260.98 778.18 261.13 779.84 261.29C781.51 261.44 783.17 261.60 784.83 261.76C786.50 261.91 788.16 262.07 789.82 262.23C791.48 262.39 793.15 262.54 794.81 262.70C796.47 262.86 798.13 263.02 799.80 263.19C801.46 263.35 803.12 263.51 804.78 263.67C806.45 263.83 808.11 264.00 809.77 264.16C811.43 264.32 813.10 264.49 814.76 264.65C816.42 264.82 818.08 264.98 819.74 265.15C821.41 265.32 823.07 265.48 824.73 265.65C826.39 265.82 828.05 265.99 829.72 266.16C831.38 266.33 833.04 266.50 834.70 266.67C836.36 266.84 838.02 267.01 839.69 267.18C841.35 267.35 843.01 267.53 844.67 267.70C846.33 267.87 847.99 268.05 849.65 268.22C851.32 268.39 852.98 268.57 854.64 268.75C856.30 268.92 857.96 269.10 859.62 269.27C861.28 269.45 862.94 269.63 864.60 269.81C866.27 269.98 867.93 270.16 869.59 270.34C871.25 270.52 872.91 270.70 874.57 270.88C876.23 271.06 877.89 271.24 879.55 271.42C881.21 271.61 882.87 271.79 884.53 271.97C886.19 272.15 887.85 272.34 889.52 272.52C891.18 272.70 892.84 272.89 894.50 273.07C896.16 273.26 897.82 273.44 899.48 273.63C901.14 273.82 902.80 274.00 904.46 274.19C906.12 274.38 907.78 274.56 909.44 274.75C911.10 274.94 912.76 275.13 914.42 275.32C916.08 275.51 917.74 275.69 919.40 275.88C921.06 276.07 922.72 276.27 924.38 276.46C926.04 276.65 927.70 276.84 929.36 277.03C931.02 277.22 932.68 277.41 934.33 277.61C935.99 277.80 937.65 277.99 939.31 278.19C940.97 278.38 942.63 278.57 944.29 278.77C945.95 278.96 947.61 279.16 949.27 279.35C950.93 279.55 952.59 279.75 954.25 279.94C955.91 280.14 957.57 280.33 959.22 280.53C960.88 280.73 962.54 280.93 964.20 281.12C965.86 281.32 967.52 281.52 969.18 281.72C970.84 281.92 972.50 282.12 974.15 282.32C975.81 282.52 977.47 282.72 979.13 282.92C980.79 283.12 982.45 283.32 984.11 283.52C985.77 283.72 987.42 283.92 989.08 284.12C990.74 284.32 992.40 284.53 994.06 284.73C995.72 284.93 997.37 285.13 999.03 285.34C1000.69 285.54 1002.35 285.74 1004.01 285.95C1005.67 286.15 1007.32 286.35 1008.98 286.56C1010.64 286.76 1012.30 286.97 1013.96 287.18C1015.61 287.38 1017.27 287.59 1018.93 287.79C1020.59 288.00 1022.25 288.21 1023.90 288.42C1025.56 288.63 1027.22 288.84 1028.88 289.05C1030.53 289.26 1032.19 289.47 1033.85 289.68C1035.50 289.89 1037.16 290.11 1038.82 290.32C1040.47 290.53 1042.13 290.75 1043.79 290.97C1045.44 291.18 1047.10 291.40 1048.76 291.62C1050.41 291.84 1052.07 292.06 1053.72 292.28C1055.38 292.50 1057.03 292.72 1058.69 292.95C1060.34 293.17 1062.00 293.40 1063.65 293.63C1065.31 293.85 1066.96 294.08 1068.62 294.31C1070.27 294.54 1071.92 294.78 1073.58 295.01C1075.23 295.24 1076.88 295.48 1078.54 295.72C1080.19 295.96 1081.84 296.19 1083.49 296.44C1085.15 296.68 1086.80 296.92 1088.45 297.17C1090.10 297.41 1091.75 297.66 1093.40 297.91C1095.05 298.16 1096.70 298.41 1098.36 298.67C1100.01 298.92 1101.65 299.18 1103.30 299.43C1104.95 299.69 1106.60 299.95 1108.25 300.22C1109.90 300.48 1111.55 300.75 1113.20 301.01C1114.84 301.28 1116.49 301.55 1118.14 301.83C1119.78 302.10 1121.43 302.38 1123.08 302.66C1124.72 302.93 1126.37 303.22 1128.01 303.50C1129.66 303.78 1131.30 304.07 1132.95 304.36C1134.59 304.65 1136.23 304.95 1137.88 305.24C1139.52 305.54 1141.16 305.84 1142.81 306.14C1144.45 306.44 1146.09 306.75 1147.73 307.05C1149.37 307.36 1151.01 307.67 1152.65 307.99C1154.29 308.30 1155.93 308.62 1157.57 308.94C1159.21 309.27 1160.85 309.59 1162.48 309.92C1164.12 310.26 1165.75 310.59 1167.39 310.93C1169.02 311.28 1170.66 311.62 1172.29 311.98C1173.92 312.33 1175.55 312.70 1177.17 313.07C1178.80 313.44 1180.43 313.81 1182.05 314.20C1183.67 314.59 1185.30 314.98 1186.91 315.38C1188.53 315.79 1190.15 316.20 1191.76 316.63C1193.37 317.05 1194.98 317.49 1196.59 317.93C1198.20 318.38 1199.80 318.84 1201.40 319.31C1203.00 319.78 1204.60 320.26 1206.20 320.76C1207.79 321.26 1209.38 321.77 1210.96 322.29C1212.55 322.81 1214.13 323.35 1215.71 323.90C1217.29 324.46 1218.86 325.02 1220.43 325.60C1222.00 326.18 1223.56 326.78 1225.12 327.38C1226.68 327.99 1228.23 328.62 1229.78 329.25C1231.32 329.89 1232.87 330.54 1234.40 331.20C1235.94 331.87 1237.47 332.55 1238.99 333.24C1240.51 333.94 1242.03 334.64 1243.54 335.37C1245.05 336.09 1246.55 336.82 1248.05 337.57C1249.54 338.32 1251.03 339.09 1252.51 339.87C1253.99 340.64 1255.46 341.44 1256.93 342.24C1258.39 343.05 1259.85 343.87 1261.30 344.71C1262.74 345.55 1264.18 346.40 1265.61 347.26C1267.04 348.12 1268.46 349.00 1269.88 349.90C1271.29 350.79 1272.69 351.70 1274.08 352.62C1275.48 353.54 1276.86 354.48 1278.23 355.43C1279.61 356.38 1280.97 357.34 1282.32 358.32C1283.67 359.30 1285.02 360.29 1286.35 361.30C1287.68 362.31 1289.00 363.33 1290.30 364.37C1291.61 365.41 1292.91 366.46 1294.19 367.52C1295.48 368.59 1296.75 369.67 1298.01 370.76C1299.27 371.86 1300.52 372.97 1301.76 374.09C1302.99 375.21 1304.22 376.35 1305.43 377.50C1306.64 378.66 1307.84 379.82 1309.02 381.00C1310.21 382.18 1311.38 383.37 1312.54 384.58C1313.69 385.79 1314.84 387.01 1315.97 388.24C1317.10 389.47 1318.22 390.71 1319.33 391.97C1320.43 393.23 1321.53 394.50 1322.60 395.78C1323.68 397.06 1324.75 398.35 1325.80 399.65C1326.85 400.95 1327.88 402.27 1328.91 403.59C1329.93 404.92 1330.94 406.26 1331.93 407.60C1332.92 408.95 1333.90 410.31 1334.87 411.67C1335.83 413.04 1336.78 414.42 1337.72 415.80C1338.66 417.19 1339.58 418.59 1340.48 419.99C1341.39 421.40 1342.28 422.81 1343.16 424.23C1344.03 425.65 1344.90 427.09 1345.74 428.53C1346.59 429.96 1347.42 431.41 1348.24 432.87C1349.05 434.32 1349.85 435.79 1350.64 437.26C1351.42 438.73 1352.20 440.21 1352.95 441.69C1353.71 443.18 1354.46 444.67 1355.19 446.17C1355.92 447.66 1356.63 449.17 1357.34 450.68C1358.04 452.19 1358.73 453.71 1359.41 455.23C1360.09 456.76 1360.75 458.29 1361.41 459.82C1362.06 461.36 1362.70 462.90 1363.33 464.44C1363.96 465.99 1364.58 467.54 1365.19 469.09C1365.80 470.65 1366.40 472.21 1366.98 473.77C1367.57 475.34 1368.15 476.91 1368.71 478.48C1369.28 480.05 1369.84 481.63 1370.38 483.21C1370.93 484.79 1371.47 486.37 1372.00 487.96C1372.53 489.55 1373.04 491.14 1373.56 492.73C1374.07 494.32 1374.57 495.92 1375.07 497.52C1375.56 499.12 1376.05 500.72 1376.53 502.32C1377.01 503.92 1377.48 505.53 1377.95 507.14C1378.41 508.74 1378.87 510.35 1379.32 511.96C1379.78 513.57 1380.22 515.18 1380.66 516.80C1381.10 518.41 1381.54 520.02 1381.97 521.63C1382.40 523.25 1382.82 524.86 1383.24 526.48C1383.66 528.09 1384.07 529.71 1384.48 531.32C1384.89 532.93 1385.30 534.55 1385.70 536.16C1386.10 537.78 1386.70 540.19 1386.90 541.00" fill="none" stroke="#0f3778" stroke-width="3.1" stroke-linejoin="round"/>
<path d="M198.96 52.53C199.31 53.29 200.37 55.55 201.02 57.09C201.67 58.62 202.27 60.18 202.88 61.74C203.48 63.30 204.04 64.87 204.63 66.44C205.21 68.01 205.78 69.60 206.39 71.17C206.99 72.73 207.59 74.31 208.27 75.85C208.94 77.38 209.63 78.91 210.42 80.37C211.21 81.84 212.05 83.27 213.00 84.63C213.95 85.98 215.00 87.28 216.11 88.52C217.22 89.75 218.43 90.91 219.68 92.02C220.93 93.12 222.25 94.14 223.61 95.12C224.96 96.10 226.38 97.00 227.81 97.87C229.24 98.75 230.71 99.56 232.19 100.37C233.67 101.18 235.17 101.95 236.67 102.73C238.17 103.51 239.67 104.28 241.17 105.05C242.66 105.83 244.15 106.61 245.64 107.39C247.12 108.18 248.60 108.97 250.07 109.76C251.55 110.56 253.02 111.36 254.48 112.16C255.94 112.97 257.40 113.78 258.86 114.60C260.31 115.42 261.76 116.24 263.20 117.07C264.64 117.90 266.08 118.74 267.51 119.59C268.94 120.44 270.37 121.29 271.79 122.15C273.21 123.02 274.62 123.89 276.03 124.77C277.44 125.65 278.85 126.54 280.24 127.44C281.64 128.34 283.04 129.25 284.42 130.17C285.81 131.09 287.19 132.02 288.57 132.96C289.94 133.90 291.31 134.85 292.68 135.81C294.04 136.78 295.40 137.75 296.76 138.73C298.12 139.71 299.47 140.70 300.83 141.68C302.18 142.67 303.53 143.67 304.88 144.67C306.23 145.66 307.58 146.66 308.93 147.65C310.29 148.65 311.64 149.65 313.00 150.63C314.35 151.62 315.71 152.61 317.08 153.59C318.44 154.57 319.81 155.54 321.19 156.50C322.56 157.46 323.95 158.41 325.33 159.36C326.72 160.30 328.11 161.24 329.50 162.18C330.89 163.11 332.29 164.04 333.67 164.98C335.05 165.92 336.44 166.86 337.81 167.81C339.18 168.77 340.54 169.73 341.89 170.71C343.24 171.68 344.57 172.67 345.89 173.69C347.21 174.70 348.51 175.73 349.80 176.78C351.09 177.83 352.36 178.89 353.63 179.97C354.89 181.04 356.15 182.13 357.40 183.23C358.65 184.32 359.88 185.43 361.12 186.54C362.36 187.65 363.60 188.76 364.83 189.88C366.07 190.99 367.30 192.11 368.54 193.23C369.78 194.34 371.02 195.45 372.27 196.56C373.52 197.66 374.77 198.77 376.04 199.85C377.31 200.94 378.58 202.02 379.87 203.09C381.16 204.16 382.46 205.21 383.78 206.24C385.10 207.28 386.43 208.30 387.79 209.30C389.14 210.29 390.52 211.27 391.92 212.22C393.32 213.18 394.74 214.11 396.17 215.01C397.61 215.91 399.07 216.79 400.54 217.64C402.02 218.49 403.51 219.32 405.01 220.11C406.51 220.91 408.03 221.68 409.55 222.42C411.08 223.15 412.62 223.86 414.16 224.54C415.70 225.22 417.25 225.86 418.81 226.48C420.37 227.10 421.93 227.69 423.50 228.25C425.07 228.81 426.65 229.35 428.24 229.86C429.82 230.37 431.41 230.85 433.01 231.31C434.60 231.77 436.21 232.20 437.81 232.61C439.42 233.03 441.03 233.41 442.65 233.78C444.27 234.15 445.89 234.50 447.52 234.83C449.15 235.16 450.78 235.47 452.41 235.76C454.05 236.05 455.69 236.32 457.33 236.58C458.97 236.84 460.62 237.08 462.27 237.31C463.92 237.54 465.57 237.75 467.23 237.96C468.89 238.16 470.54 238.35 472.20 238.52C473.86 238.70 475.53 238.87 477.19 239.03C478.86 239.18 480.52 239.33 482.19 239.47C483.86 239.61 485.53 239.74 487.20 239.87C488.87 240.00 490.54 240.12 492.21 240.23C493.88 240.35 495.56 240.46 497.23 240.57C498.90 240.68 500.57 240.78 502.25 240.89C503.92 240.99 505.59 241.09 507.26 241.19C508.93 241.30 510.61 241.39 512.28 241.49C513.95 241.59 515.62 241.69 517.29 241.78C518.96 241.87 520.63 241.97 522.31 242.06C523.98 242.15 525.65 242.24 527.32 242.33C528.99 242.42 530.66 242.50 532.33 242.59C534.00 242.68 535.67 242.76 537.34 242.85C539.01 242.93 540.68 243.02 542.35 243.10C544.02 243.18 545.69 243.26 547.36 243.34C549.03 243.42 550.70 243.50 552.37 243.58C554.04 243.66 555.71 243.74 557.38 243.82C559.05 243.90 560.72 243.98 562.39 244.06C564.06 244.13 565.73 244.21 567.40 244.29C569.07 244.36 570.74 244.44 572.41 244.52C574.08 244.59 575.75 244.67 577.42 244.75C579.09 244.82 580.76 244.90 582.43 244.98C584.10 245.06 585.77 245.13 587.44 245.21C589.11 245.29 590.78 245.36 592.45 245.44C594.12 245.52 595.79 245.59 597.46 245.67C599.13 245.75 600.80 245.83 602.47 245.90C604.14 245.98 605.81 246.06 607.48 246.14C609.15 246.22 610.82 246.29 612.49 246.37C614.16 246.45 615.83 246.53 617.50 246.61C619.18 246.68 620.85 246.76 622.52 246.84C624.19 246.92 625.86 247.00 627.53 247.08C629.20 247.15 630.87 247.23 632.54 247.31C634.21 247.39 635.88 247.47 637.55 247.55C639.22 247.63 640.89 247.71 642.56 247.79C644.23 247.87 645.90 247.95 647.57 248.03C649.24 248.11 650.91 248.19 652.58 248.27C654.25 248.35 655.92 248.43 657.59 248.51C659.26 248.59 660.93 248.67 662.60 248.75C664.27 248.83 665.94 248.91 667.61 248.99C669.28 249.07 670.95 249.15 672.63 249.24C674.30 249.32 675.97 249.40 677.64 249.48C679.31 249.56 680.98 249.64 682.65 249.73C684.32 249.81 685.99 249.89 687.66 249.97C689.33 250.06 691.00 250.14 692.67 250.22C694.34 250.30 696.01 250.39 697.68 250.47C699.35 250.55 701.02 250.64 702.69 250.72C704.36 250.80 706.03 250.89 707.70 250.97C709.37 251.06 711.04 251.14 712.72 251.22C714.39 251.31 716.06 251.39 717.73 251.48C719.40 251.56 721.07 251.65 722.74 251.73C724.41 251.82 726.08 251.90 727.75 251.99C729.42 252.08 731.09 252.16 732.76 252.25C734.43 252.33 736.10 252.42 737.77 252.51C739.44 252.59 741.11 252.68 742.78 252.77C744.45 252.86 746.12 252.94 747.79 253.03C749.46 253.12 751.13 253.21 752.80 253.29C754.47 253.38 756.15 253.47 757.82 253.56C759.49 253.65 761.16 253.74 762.83 253.83C764.50 253.91 766.17 254.00 767.84 254.09C769.51 254.18 771.18 254.27 772.85 254.36C774.52 254.45 776.19 254.54 777.86 254.63C779.53 254.73 781.20 254.82 782.87 254.91C784.54 255.00 786.21 255.09 787.88 255.18C789.55 255.27 791.22 255.37 792.89 255.46C794.56 255.55 796.23 255.64 797.90 255.74C799.57 255.83 801.24 255.92 802.91 256.02C804.58 256.11 806.25 256.20 807.92 256.30C809.59 256.39 811.26 256.49 812.93 256.58C814.60 256.68 816.27 256.77 817.94 256.87C819.61 256.96 821.28 257.06 822.95 257.15C824.62 257.25 826.29 257.35 827.96 257.44C829.63 257.54 831.30 257.64 832.97 257.73C834.64 257.83 836.31 257.93 837.98 258.03C839.65 258.12 841.32 258.22 842.99 258.32C844.66 258.42 846.33 258.52 848.00 258.62C849.67 258.72 851.34 258.82 853.01 258.92C854.68 259.02 856.35 259.12 858.02 259.22C859.69 259.32 861.36 259.42 863.02 259.52C864.69 259.62 866.36 259.72 868.03 259.83C869.70 259.93 871.37 260.03 873.04 260.13C874.71 260.24 876.38 260.34 878.05 260.44C879.72 260.55 881.39 260.65 883.06 260.76C884.73 260.86 886.40 260.96 888.07 261.07C889.73 261.17 891.40 261.28 893.07 261.39C894.74 261.49 896.41 261.60 898.08 261.70C899.75 261.81 901.42 261.92 903.09 262.03C904.76 262.13 906.43 262.24 908.09 262.35C909.76 262.46 911.43 262.57 913.10 262.67C914.77 262.78 916.44 262.89 918.11 263.00C919.78 263.11 921.45 263.22 923.11 263.33C924.78 263.44 926.45 263.56 928.12 263.67C929.79 263.78 931.46 263.89 933.13 264.00C934.79 264.11 936.46 264.23 938.13 264.34C939.80 264.45 941.47 264.57 943.14 264.68C944.81 264.79 946.47 264.91 948.14 265.02C949.81 265.14 951.48 265.25 953.15 265.37C954.82 265.49 956.48 265.60 958.15 265.72C959.82 265.84 961.49 265.95 963.16 266.07C964.82 266.19 966.49 266.31 968.16 266.42C969.83 266.54 971.50 266.66 973.16 266.78C974.83 266.90 976.50 267.02 978.17 267.14C979.84 267.26 981.50 267.38 983.17 267.50C984.84 267.62 986.51 267.75 988.17 267.87C989.84 267.99 991.51 268.11 993.18 268.24C994.84 268.36 996.51 268.48 998.18 268.61C999.85 268.73 1001.51 268.85 1003.18 268.98C1004.85 269.10 1006.52 269.23 1008.18 269.36C1009.85 269.48 1011.52 269.61 1013.19 269.73C1014.85 269.86 1016.52 269.98 1018.19 270.11C1019.85 270.23 1021.52 270.36 1023.19 270.48C1024.86 270.61 1026.52 270.73 1028.19 270.85C1029.86 270.98 1031.53 271.10 1033.19 271.22C1034.86 271.34 1036.53 271.46 1038.20 271.58C1039.86 271.70 1041.53 271.82 1043.20 271.94C1044.87 272.06 1046.54 272.17 1048.20 272.29C1049.87 272.40 1051.54 272.51 1053.21 272.62C1054.88 272.73 1056.54 272.84 1058.21 272.95C1059.88 273.06 1061.55 273.16 1063.22 273.27C1064.89 273.37 1066.56 273.47 1068.23 273.57C1069.90 273.67 1071.57 273.76 1073.24 273.86C1074.91 273.95 1076.58 274.04 1078.25 274.13C1079.92 274.22 1081.59 274.30 1083.26 274.38C1084.93 274.47 1086.60 274.54 1088.27 274.62C1089.94 274.70 1091.61 274.77 1093.28 274.84C1094.96 274.91 1096.63 274.97 1098.30 275.04C1099.97 275.10 1101.65 275.16 1103.32 275.21C1104.99 275.27 1106.66 275.32 1108.34 275.37C1110.01 275.42 1111.68 275.46 1113.36 275.51C1115.03 275.55 1116.71 275.60 1118.38 275.64C1120.05 275.68 1121.73 275.73 1123.40 275.77C1125.07 275.81 1126.75 275.85 1128.42 275.89C1130.10 275.94 1131.77 275.98 1133.44 276.03C1135.12 276.07 1136.79 276.12 1138.46 276.17C1140.14 276.22 1141.81 276.27 1143.48 276.32C1145.16 276.38 1146.83 276.43 1148.50 276.50C1150.17 276.56 1151.84 276.62 1153.52 276.69C1155.19 276.77 1156.86 276.84 1158.53 276.92C1160.20 277.00 1161.87 277.09 1163.54 277.18C1165.21 277.27 1166.88 277.37 1168.55 277.48C1170.21 277.58 1171.88 277.70 1173.55 277.82C1175.22 277.94 1176.88 278.06 1178.55 278.20C1180.21 278.33 1181.88 278.48 1183.54 278.62C1185.21 278.77 1186.87 278.93 1188.53 279.09C1190.19 279.26 1191.85 279.43 1193.51 279.61C1195.17 279.79 1196.83 279.98 1198.49 280.17C1200.15 280.36 1201.81 280.57 1203.46 280.78C1205.12 280.99 1206.77 281.21 1208.43 281.43C1210.08 281.66 1211.73 281.89 1213.38 282.14C1215.03 282.38 1216.68 282.63 1218.33 282.89C1219.98 283.15 1221.63 283.42 1223.27 283.70C1224.92 283.97 1226.56 284.26 1228.20 284.55C1229.84 284.85 1231.49 285.15 1233.12 285.46C1234.76 285.77 1236.40 286.09 1238.04 286.42C1239.67 286.75 1241.31 287.09 1242.94 287.43C1244.57 287.78 1246.20 288.14 1247.83 288.50C1249.46 288.86 1251.09 289.23 1252.72 289.60C1254.34 289.97 1255.97 290.35 1257.60 290.73C1259.23 291.12 1260.85 291.50 1262.48 291.89C1264.11 292.28 1265.73 292.67 1267.36 293.06C1268.99 293.45 1270.62 293.84 1272.24 294.23C1273.87 294.62 1275.50 295.01 1277.13 295.39C1278.76 295.78 1280.40 296.16 1282.03 296.54C1283.67 296.92 1285.30 297.30 1286.94 297.67C1288.58 298.04 1290.22 298.41 1291.86 298.76C1293.50 299.12 1295.15 299.47 1296.80 299.82C1298.44 300.16 1300.10 300.49 1301.75 300.82C1303.40 301.16 1305.05 301.48 1306.69 301.82C1308.34 302.16 1309.98 302.50 1311.61 302.87C1313.24 303.24 1314.87 303.62 1316.48 304.04C1318.09 304.45 1319.68 304.89 1321.26 305.37C1322.83 305.85 1324.40 306.36 1325.93 306.93C1327.46 307.50 1328.98 308.11 1330.47 308.79C1331.95 309.46 1333.41 310.19 1334.84 310.99C1336.26 311.79 1337.66 312.66 1339.02 313.59C1340.39 314.52 1341.72 315.52 1343.02 316.57C1344.33 317.61 1345.60 318.72 1346.85 319.87C1348.09 321.02 1349.31 322.22 1350.50 323.45C1351.70 324.67 1352.86 325.95 1354.00 327.24C1355.15 328.53 1356.26 329.86 1357.36 331.20C1358.45 332.54 1359.53 333.91 1360.58 335.28C1361.63 336.64 1362.66 338.03 1363.67 339.41C1364.68 340.79 1365.68 342.18 1366.65 343.55C1367.63 344.93 1368.58 346.30 1369.53 347.65C1370.47 349.00 1371.39 350.34 1372.31 351.65C1373.22 352.96 1374.55 354.85 1375.00 355.49" fill="none" stroke="#0f3778" stroke-width="3.1" stroke-linejoin="round"/>
<path d="M198.99 52.50C199.36 53.26 200.48 55.50 201.20 57.01C201.92 58.51 202.61 60.02 203.29 61.55C203.97 63.07 204.62 64.60 205.26 66.14C205.90 67.68 206.51 69.24 207.13 70.79C207.74 72.35 208.31 73.93 208.97 75.47C209.62 77.00 210.26 78.55 211.05 80.00C211.83 81.46 212.69 82.88 213.68 84.21C214.66 85.54 215.81 86.78 216.98 87.98C218.14 89.19 219.38 90.35 220.65 91.43C221.93 92.52 223.26 93.53 224.62 94.49C225.99 95.44 227.41 96.31 228.85 97.15C230.29 97.98 231.77 98.76 233.26 99.52C234.74 100.28 236.26 100.99 237.78 101.71C239.29 102.43 240.81 103.12 242.33 103.82C243.85 104.52 245.37 105.22 246.89 105.92C248.41 106.62 249.93 107.31 251.44 108.02C252.95 108.73 254.46 109.44 255.96 110.17C257.46 110.90 258.95 111.64 260.43 112.40C261.91 113.16 263.39 113.93 264.85 114.73C266.31 115.53 267.76 116.35 269.19 117.20C270.62 118.05 272.04 118.93 273.44 119.84C274.85 120.75 276.23 121.70 277.60 122.67C278.98 123.63 280.33 124.62 281.69 125.62C283.05 126.61 284.39 127.63 285.74 128.63C287.09 129.64 288.44 130.65 289.79 131.64C291.14 132.63 292.50 133.62 293.86 134.59C295.22 135.56 296.58 136.52 297.95 137.48C299.31 138.43 300.68 139.38 302.06 140.31C303.43 141.25 304.80 142.18 306.18 143.11C307.55 144.04 308.93 144.96 310.30 145.89C311.68 146.81 313.05 147.73 314.43 148.65C315.80 149.57 317.18 150.48 318.55 151.41C319.92 152.33 321.29 153.25 322.66 154.18C324.03 155.11 325.39 156.04 326.75 156.98C328.11 157.92 329.47 158.86 330.82 159.82C332.18 160.77 333.53 161.73 334.87 162.71C336.21 163.68 337.55 164.66 338.88 165.66C340.21 166.65 341.54 167.66 342.85 168.68C344.17 169.71 345.48 170.75 346.78 171.80C348.09 172.85 349.38 173.93 350.67 175.00C351.96 176.08 353.24 177.18 354.52 178.27C355.80 179.37 357.08 180.48 358.35 181.59C359.63 182.71 360.90 183.83 362.17 184.94C363.44 186.06 364.71 187.18 365.98 188.30C367.25 189.42 368.52 190.54 369.79 191.65C371.07 192.76 372.34 193.87 373.63 194.97C374.91 196.07 376.19 197.16 377.48 198.24C378.78 199.32 380.07 200.39 381.38 201.44C382.68 202.49 383.99 203.53 385.31 204.55C386.63 205.57 387.96 206.58 389.30 207.56C390.64 208.54 391.99 209.50 393.36 210.44C394.72 211.37 396.10 212.29 397.49 213.17C398.88 214.05 400.28 214.91 401.70 215.74C403.12 216.56 404.55 217.36 406.01 218.12C407.46 218.88 408.93 219.61 410.42 220.29C411.91 220.98 413.41 221.63 414.94 222.25C416.47 222.86 418.01 223.43 419.57 223.97C421.14 224.51 422.72 225.02 424.31 225.49C425.90 225.97 427.51 226.41 429.13 226.82C430.75 227.24 432.38 227.62 434.02 227.99C435.66 228.35 437.31 228.69 438.97 229.00C440.62 229.32 442.29 229.62 443.95 229.90C445.62 230.18 447.30 230.44 448.97 230.68C450.65 230.93 452.33 231.16 454.00 231.39C455.68 231.61 457.36 231.82 459.03 232.03C460.71 232.23 462.38 232.43 464.05 232.62C465.72 232.81 467.39 233.00 469.05 233.18C470.72 233.36 472.38 233.53 474.04 233.70C475.70 233.86 477.36 234.02 479.02 234.18C480.68 234.34 482.34 234.48 484.00 234.63C485.65 234.77 487.31 234.91 488.96 235.04C490.62 235.18 492.27 235.30 493.93 235.43C495.58 235.55 497.24 235.66 498.90 235.78C500.55 235.89 502.21 235.99 503.87 236.10C505.52 236.20 507.18 236.29 508.84 236.39C510.50 236.48 512.16 236.57 513.82 236.65C515.48 236.73 517.14 236.81 518.80 236.89C520.47 236.97 522.13 237.04 523.79 237.11C525.45 237.18 527.12 237.24 528.78 237.31C530.44 237.37 532.11 237.43 533.77 237.49C535.44 237.54 537.10 237.60 538.77 237.65C540.43 237.70 542.10 237.75 543.76 237.80C545.43 237.85 547.09 237.89 548.76 237.94C550.43 237.98 552.10 238.03 553.76 238.07C555.43 238.11 557.10 238.15 558.76 238.19C560.43 238.23 562.10 238.27 563.77 238.31C565.44 238.35 567.10 238.39 568.77 238.42C570.44 238.46 572.11 238.50 573.78 238.54C575.45 238.58 577.11 238.62 578.78 238.65C580.45 238.69 582.12 238.73 583.79 238.77C585.46 238.82 587.13 238.86 588.79 238.90C590.46 238.94 592.13 238.98 593.80 239.03C595.47 239.07 597.14 239.12 598.81 239.16C600.47 239.21 602.14 239.25 603.81 239.30C605.48 239.34 607.15 239.39 608.82 239.44C610.49 239.48 612.15 239.53 613.82 239.58C615.49 239.63 617.16 239.68 618.83 239.73C620.50 239.78 622.17 239.83 623.84 239.88C625.50 239.93 627.17 239.98 628.84 240.03C630.51 240.08 632.18 240.13 633.85 240.18C635.52 240.24 637.18 240.29 638.85 240.34C640.52 240.40 642.19 240.45 643.86 240.50C645.53 240.56 647.20 240.61 648.87 240.67C650.53 240.72 652.20 240.78 653.87 240.83C655.54 240.89 657.21 240.94 658.88 241.00C660.55 241.05 662.22 241.11 663.88 241.17C665.55 241.22 667.22 241.28 668.89 241.34C670.56 241.39 672.23 241.45 673.90 241.51C675.57 241.57 677.23 241.62 678.90 241.68C680.57 241.74 682.24 241.80 683.91 241.86C685.58 241.91 687.25 241.97 688.92 242.03C690.58 242.09 692.25 242.15 693.92 242.21C695.59 242.26 697.26 242.32 698.93 242.38C700.60 242.44 702.27 242.50 703.93 242.56C705.60 242.62 707.27 242.68 708.94 242.74C710.61 242.80 712.28 242.85 713.95 242.91C715.62 242.97 717.28 243.03 718.95 243.09C720.62 243.15 722.29 243.21 723.96 243.27C725.63 243.33 727.30 243.39 728.97 243.44C730.63 243.50 732.30 243.56 733.97 243.62C735.64 243.68 737.31 243.74 738.98 243.80C740.65 243.85 742.32 243.91 743.98 243.97C745.65 244.03 747.32 244.09 748.99 244.14C750.66 244.20 752.33 244.26 754.00 244.32C755.67 244.37 757.33 244.43 759.00 244.49C760.67 244.54 762.34 244.60 764.01 244.66C765.68 244.71 767.35 244.77 769.02 244.83C770.68 244.88 772.35 244.94 774.02 244.99C775.69 245.05 777.36 245.10 779.03 245.16C780.70 245.21 782.37 245.26 784.03 245.32C785.70 245.37 787.37 245.42 789.04 245.48C790.71 245.53 792.38 245.58 794.05 245.63C795.72 245.68 797.38 245.74 799.05 245.79C800.72 245.84 802.39 245.89 804.06 245.94C805.73 245.99 807.40 246.04 809.06 246.09C810.73 246.14 812.40 246.18 814.07 246.23C815.74 246.28 817.41 246.33 819.08 246.37C820.74 246.42 822.41 246.47 824.08 246.51C825.75 246.56 827.42 246.60 829.09 246.65C830.76 246.69 832.42 246.73 834.09 246.78C835.76 246.82 837.43 246.86 839.10 246.90C840.77 246.94 842.44 246.98 844.10 247.02C845.77 247.06 847.44 247.10 849.11 247.14C850.78 247.18 852.45 247.22 854.12 247.26C855.78 247.29 857.45 247.33 859.12 247.37C860.79 247.40 862.46 247.44 864.13 247.47C865.80 247.50 867.46 247.54 869.13 247.57C870.80 247.60 872.47 247.63 874.14 247.66C875.81 247.69 877.47 247.72 879.14 247.75C880.81 247.78 882.48 247.81 884.15 247.83C885.82 247.86 887.48 247.89 889.15 247.91C890.82 247.93 892.49 247.96 894.16 247.98C895.83 248.00 897.49 248.03 899.16 248.05C900.83 248.07 902.50 248.09 904.17 248.11C905.84 248.12 907.50 248.14 909.17 248.16C910.84 248.17 912.51 248.19 914.18 248.20C915.85 248.22 917.51 248.23 919.18 248.24C920.85 248.26 922.52 248.27 924.19 248.28C925.86 248.29 927.52 248.30 929.19 248.30C930.86 248.31 932.53 248.32 934.20 248.32C935.86 248.33 937.53 248.33 939.20 248.33C940.87 248.33 942.54 248.34 944.20 248.34C945.87 248.34 947.54 248.33 949.21 248.33C950.88 248.33 952.54 248.33 954.21 248.32C955.88 248.32 957.55 248.31 959.22 248.30C960.88 248.29 962.55 248.28 964.22 248.27C965.89 248.26 967.56 248.25 969.22 248.24C970.89 248.22 972.56 248.21 974.23 248.19C975.90 248.17 977.56 248.16 979.23 248.14C980.90 248.12 982.57 248.10 984.24 248.08C985.90 248.05 987.57 248.03 989.24 248.00C990.91 247.98 992.57 247.95 994.24 247.92C995.91 247.90 997.58 247.87 999.24 247.83C1000.91 247.80 1002.58 247.77 1004.25 247.73C1005.92 247.70 1007.58 247.66 1009.25 247.63C1010.92 247.59 1012.59 247.55 1014.25 247.51C1015.92 247.47 1017.59 247.42 1019.26 247.38C1020.92 247.33 1022.59 247.29 1024.26 247.24C1025.93 247.19 1027.59 247.14 1029.26 247.09C1030.93 247.04 1032.60 246.98 1034.26 246.93C1035.93 246.87 1037.60 246.82 1039.27 246.76C1040.93 246.70 1042.60 246.64 1044.27 246.58C1045.93 246.51 1047.60 246.45 1049.27 246.38C1050.94 246.32 1052.60 246.25 1054.27 246.17C1055.94 246.10 1057.60 246.03 1059.27 245.95C1060.94 245.88 1062.60 245.80 1064.27 245.72C1065.94 245.64 1067.60 245.56 1069.27 245.47C1070.93 245.39 1072.60 245.30 1074.27 245.21C1075.93 245.12 1077.60 245.03 1079.26 244.93C1080.93 244.84 1082.59 244.74 1084.26 244.64C1085.92 244.54 1087.59 244.43 1089.25 244.33C1090.92 244.22 1092.58 244.11 1094.25 244.00C1095.91 243.89 1097.58 243.77 1099.24 243.66C1100.90 243.54 1102.57 243.42 1104.23 243.29C1105.89 243.17 1107.56 243.04 1109.22 242.91C1110.88 242.78 1112.54 242.65 1114.21 242.51C1115.87 242.38 1117.53 242.24 1119.19 242.09C1120.85 241.95 1122.52 241.80 1124.18 241.65C1125.84 241.50 1127.50 241.35 1129.16 241.19C1130.82 241.04 1132.48 240.88 1134.14 240.71C1135.80 240.55 1137.46 240.38 1139.12 240.21C1140.77 240.04 1142.43 239.86 1144.09 239.68C1145.75 239.51 1147.41 239.32 1149.06 239.14C1150.72 238.95 1152.38 238.76 1154.03 238.57C1155.69 238.37 1157.35 238.17 1159.00 237.97C1160.66 237.77 1162.31 237.56 1163.97 237.35C1165.62 237.14 1167.28 236.92 1168.93 236.71C1170.58 236.49 1172.24 236.26 1173.89 236.04C1175.54 235.81 1177.20 235.58 1178.85 235.34C1180.50 235.10 1182.15 234.86 1183.80 234.62C1185.45 234.37 1187.10 234.12 1188.75 233.87C1190.40 233.61 1192.05 233.35 1193.70 233.09C1195.35 232.83 1197.00 232.56 1198.65 232.28C1200.29 232.01 1201.94 231.73 1203.59 231.45C1205.23 231.17 1206.88 230.88 1208.53 230.60C1210.17 230.31 1211.82 230.02 1213.46 229.73C1215.11 229.44 1216.75 229.15 1218.40 228.86C1220.04 228.57 1221.69 228.28 1223.34 227.99C1224.98 227.71 1226.63 227.42 1228.28 227.15C1229.92 226.87 1231.57 226.59 1233.22 226.32C1234.87 226.06 1236.52 225.79 1238.17 225.54C1239.82 225.28 1241.47 225.04 1243.12 224.80C1244.77 224.56 1246.42 224.33 1248.08 224.11C1249.73 223.90 1251.39 223.69 1253.05 223.49C1254.70 223.30 1256.36 223.12 1258.02 222.95C1259.68 222.78 1261.34 222.63 1263.01 222.49C1264.67 222.34 1266.34 222.22 1268.00 222.10C1269.67 221.97 1271.33 221.86 1273.00 221.75C1274.67 221.65 1276.34 221.54 1278.00 221.44C1279.67 221.33 1281.34 221.23 1283.01 221.13C1284.68 221.02 1286.34 220.91 1288.01 220.79C1289.67 220.67 1291.34 220.55 1293.00 220.41C1294.67 220.28 1296.33 220.13 1297.99 219.98C1299.65 219.83 1301.31 219.68 1302.97 219.51C1304.63 219.35 1306.29 219.18 1307.95 219.01C1309.61 218.84 1311.27 218.66 1312.93 218.48C1314.58 218.31 1316.24 218.12 1317.90 217.94C1319.56 217.76 1321.21 217.58 1322.87 217.39C1324.53 217.21 1326.18 217.03 1327.84 216.85C1329.50 216.67 1331.15 216.49 1332.81 216.31C1334.47 216.14 1336.12 215.96 1337.78 215.79C1339.44 215.63 1341.10 215.46 1342.76 215.30C1344.42 215.15 1346.07 214.99 1347.73 214.85C1349.39 214.71 1351.06 214.57 1352.72 214.44C1354.38 214.31 1356.04 214.19 1357.71 214.08C1359.37 213.97 1361.03 213.88 1362.70 213.79C1364.37 213.70 1366.03 213.63 1367.70 213.56C1369.37 213.50 1371.04 213.45 1372.71 213.42C1374.38 213.39 1376.06 213.36 1377.73 213.36C1379.40 213.36 1381.08 213.37 1382.76 213.40C1384.44 213.42 1386.12 213.47 1387.80 213.51C1389.47 213.54 1391.15 213.59 1392.83 213.63C1394.51 213.66 1396.19 213.70 1397.86 213.71C1399.54 213.72 1401.21 213.73 1402.88 213.70C1404.55 213.67 1406.21 213.62 1407.87 213.53C1409.53 213.44 1411.19 213.32 1412.84 213.15C1414.49 212.98 1416.13 212.78 1417.77 212.51C1419.41 212.24 1421.04 211.93 1422.66 211.55C1424.28 211.16 1426.69 210.43 1427.50 210.20" fill="none" stroke="#0f3778" stroke-width="3.1" stroke-linejoin="round"/>
<path d="M198.99 52.51C199.40 53.24 200.65 55.42 201.44 56.89C202.23 58.36 203.00 59.84 203.74 61.33C204.48 62.83 205.19 64.34 205.87 65.87C206.54 67.39 207.17 68.95 207.79 70.50C208.42 72.06 208.95 73.66 209.61 75.20C210.27 76.73 210.93 78.26 211.76 79.68C212.59 81.11 213.55 82.46 214.58 83.76C215.62 85.07 216.78 86.30 217.95 87.50C219.12 88.71 220.31 89.92 221.58 90.99C222.86 92.07 224.20 93.05 225.59 93.94C226.98 94.84 228.46 95.62 229.94 96.38C231.43 97.15 232.97 97.82 234.50 98.51C236.03 99.20 237.60 99.85 239.13 100.53C240.67 101.21 242.21 101.90 243.73 102.61C245.25 103.31 246.77 104.03 248.27 104.77C249.77 105.50 251.27 106.25 252.76 107.00C254.24 107.76 255.72 108.53 257.20 109.32C258.67 110.10 260.13 110.89 261.59 111.70C263.05 112.50 264.50 113.32 265.94 114.14C267.39 114.97 268.83 115.80 270.26 116.65C271.69 117.49 273.12 118.34 274.54 119.20C275.97 120.06 277.38 120.93 278.80 121.81C280.21 122.68 281.62 123.57 283.02 124.46C284.43 125.34 285.83 126.24 287.23 127.14C288.63 128.04 290.03 128.95 291.42 129.86C292.81 130.76 294.20 131.68 295.59 132.60C296.98 133.51 298.37 134.44 299.76 135.36C301.14 136.28 302.53 137.21 303.91 138.14C305.30 139.07 306.68 140.00 308.07 140.93C309.45 141.86 310.84 142.79 312.22 143.73C313.61 144.66 314.99 145.60 316.37 146.54C317.75 147.48 319.13 148.43 320.50 149.38C321.88 150.33 323.25 151.28 324.61 152.25C325.98 153.21 327.34 154.18 328.70 155.16C330.05 156.14 331.41 157.12 332.75 158.12C334.09 159.11 335.43 160.12 336.76 161.13C338.09 162.15 339.41 163.18 340.72 164.22C342.03 165.26 343.34 166.31 344.63 167.38C345.92 168.44 347.20 169.52 348.48 170.61C349.75 171.71 351.02 172.81 352.28 173.92C353.54 175.03 354.79 176.15 356.04 177.27C357.29 178.39 358.54 179.52 359.79 180.64C361.03 181.77 362.28 182.89 363.52 184.01C364.77 185.14 366.02 186.26 367.27 187.37C368.53 188.48 369.78 189.59 371.04 190.68C372.31 191.78 373.58 192.86 374.86 193.93C376.14 195.00 377.42 196.06 378.72 197.10C380.02 198.14 381.33 199.16 382.66 200.16C383.98 201.16 385.32 202.14 386.68 203.09C388.03 204.04 389.40 204.97 390.79 205.87C392.18 206.77 393.59 207.65 395.02 208.49C396.44 209.34 397.89 210.16 399.35 210.96C400.80 211.75 402.28 212.53 403.77 213.28C405.25 214.04 406.75 214.77 408.26 215.48C409.77 216.20 411.29 216.89 412.82 217.58C414.35 218.26 415.89 218.93 417.44 219.58C418.98 220.24 420.54 220.88 422.09 221.51C423.65 222.15 425.22 222.77 426.78 223.38C428.35 224.00 429.92 224.61 431.48 225.21C433.05 225.82 434.62 226.42 436.19 227.02C437.76 227.62 439.33 228.22 440.90 228.81C442.46 229.41 444.02 230.01 445.59 230.59C447.15 231.17 448.72 231.74 450.29 232.28C451.86 232.82 453.43 233.35 455.02 233.83C456.60 234.31 458.19 234.76 459.80 235.16C461.40 235.56 463.01 235.91 464.64 236.22C466.26 236.53 467.90 236.80 469.54 237.03C471.18 237.26 472.84 237.46 474.49 237.62C476.15 237.79 477.82 237.93 479.49 238.04C481.16 238.16 482.83 238.25 484.51 238.33C486.19 238.41 487.87 238.46 489.56 238.52C491.24 238.57 492.93 238.61 494.61 238.65C496.29 238.69 497.98 238.72 499.66 238.77C501.35 238.81 503.03 238.85 504.71 238.90C506.39 238.94 508.06 238.99 509.74 239.05C511.42 239.10 513.09 239.16 514.77 239.22C516.44 239.27 518.11 239.34 519.79 239.40C521.46 239.46 523.13 239.53 524.80 239.59C526.47 239.66 528.14 239.73 529.81 239.80C531.48 239.87 533.15 239.94 534.81 240.01C536.48 240.08 538.15 240.15 539.82 240.22C541.49 240.29 543.16 240.36 544.82 240.43C546.49 240.50 548.16 240.57 549.83 240.63C551.50 240.70 553.17 240.77 554.83 240.84C556.50 240.91 558.17 240.98 559.84 241.05C561.51 241.12 563.18 241.19 564.84 241.25C566.51 241.32 568.18 241.39 569.85 241.46C571.52 241.53 573.19 241.59 574.86 241.66C576.52 241.73 578.19 241.79 579.86 241.86C581.53 241.93 583.20 242.00 584.87 242.06C586.54 242.13 588.21 242.20 589.87 242.26C591.54 242.33 593.21 242.39 594.88 242.46C596.55 242.53 598.22 242.59 599.89 242.66C601.56 242.72 603.22 242.79 604.89 242.85C606.56 242.92 608.23 242.98 609.90 243.05C611.57 243.11 613.24 243.18 614.91 243.24C616.58 243.31 618.24 243.37 619.91 243.44C621.58 243.50 623.25 243.56 624.92 243.63C626.59 243.69 628.26 243.76 629.93 243.82C631.60 243.88 633.27 243.95 634.93 244.01C636.60 244.07 638.27 244.13 639.94 244.20C641.61 244.26 643.28 244.32 644.95 244.39C646.62 244.45 648.29 244.51 649.96 244.57C651.63 244.63 653.30 244.70 654.96 244.76C656.63 244.82 658.30 244.88 659.97 244.94C661.64 245.00 663.31 245.07 664.98 245.13C666.65 245.19 668.32 245.25 669.99 245.31C671.66 245.37 673.33 245.43 675.00 245.49C676.67 245.55 678.34 245.61 680.00 245.67C681.67 245.73 683.34 245.79 685.01 245.85C686.68 245.91 688.35 245.97 690.02 246.03C691.69 246.09 693.36 246.15 695.03 246.21C696.70 246.27 698.37 246.33 700.04 246.39C701.71 246.45 703.38 246.51 705.05 246.57C706.72 246.63 708.39 246.68 710.06 246.74C711.73 246.80 713.40 246.86 715.07 246.92C716.74 246.98 718.41 247.03 720.08 247.09C721.75 247.15 723.42 247.21 725.09 247.27C726.75 247.32 728.42 247.38 730.09 247.44C731.76 247.50 733.43 247.55 735.10 247.61C736.77 247.67 738.44 247.72 740.11 247.78C741.78 247.84 743.45 247.90 745.12 247.95C746.79 248.01 748.46 248.06 750.13 248.12C751.80 248.18 753.47 248.23 755.14 248.29C756.81 248.35 758.48 248.40 760.15 248.46C761.82 248.51 763.49 248.57 765.16 248.63C766.83 248.68 768.50 248.74 770.17 248.79C771.84 248.85 773.51 248.90 775.18 248.96C776.86 249.01 778.53 249.07 780.20 249.12C781.87 249.18 783.54 249.23 785.21 249.29C786.88 249.34 788.55 249.40 790.22 249.45C791.89 249.51 793.56 249.56 795.23 249.61C796.90 249.67 798.57 249.72 800.24 249.78C801.91 249.83 803.58 249.88 805.25 249.94C806.92 249.99 808.59 250.05 810.26 250.10C811.93 250.15 813.60 250.21 815.27 250.26C816.94 250.31 818.61 250.37 820.28 250.42C821.95 250.47 823.63 250.53 825.30 250.58C826.97 250.63 828.64 250.68 830.31 250.74C831.98 250.79 833.65 250.84 835.32 250.89C836.99 250.95 838.66 251.00 840.33 251.05C842.00 251.10 843.67 251.15 845.34 251.21C847.01 251.26 848.68 251.31 850.35 251.36C852.03 251.41 853.70 251.46 855.37 251.51C857.04 251.56 858.71 251.61 860.38 251.66C862.05 251.71 863.72 251.76 865.39 251.81C867.06 251.86 868.73 251.91 870.40 251.95C872.07 252.00 873.74 252.05 875.42 252.10C877.09 252.14 878.76 252.19 880.43 252.24C882.10 252.28 883.77 252.33 885.44 252.38C887.11 252.42 888.78 252.47 890.45 252.51C892.12 252.55 893.79 252.60 895.46 252.64C897.14 252.69 898.81 252.73 900.48 252.77C902.15 252.81 903.82 252.85 905.49 252.90C907.16 252.94 908.83 252.98 910.50 253.02C912.17 253.06 913.84 253.10 915.51 253.13C917.18 253.17 918.86 253.21 920.53 253.25C922.20 253.28 923.87 253.32 925.54 253.36C927.21 253.39 928.88 253.43 930.55 253.46C932.22 253.50 933.89 253.53 935.56 253.56C937.23 253.60 938.90 253.63 940.57 253.66C942.25 253.69 943.92 253.72 945.59 253.75C947.26 253.78 948.93 253.81 950.60 253.83C952.27 253.86 953.94 253.89 955.61 253.92C957.28 253.94 958.95 253.97 960.62 253.99C962.29 254.01 963.96 254.04 965.63 254.06C967.31 254.08 968.98 254.10 970.65 254.12C972.32 254.14 973.99 254.16 975.66 254.18C977.33 254.20 979.00 254.22 980.67 254.23C982.34 254.25 984.01 254.26 985.68 254.28C987.35 254.29 989.02 254.30 990.69 254.32C992.36 254.33 994.03 254.34 995.70 254.35C997.37 254.36 999.05 254.37 1000.72 254.37C1002.39 254.38 1004.06 254.39 1005.73 254.39C1007.40 254.40 1009.07 254.40 1010.74 254.40C1012.41 254.41 1014.08 254.41 1015.75 254.41C1017.42 254.41 1019.09 254.41 1020.76 254.40C1022.43 254.40 1024.10 254.40 1025.77 254.39C1027.44 254.39 1029.11 254.38 1030.78 254.37C1032.45 254.36 1034.12 254.35 1035.79 254.34C1037.46 254.33 1039.13 254.32 1040.80 254.31C1042.47 254.29 1044.14 254.28 1045.81 254.26C1047.48 254.25 1049.15 254.23 1050.82 254.21C1052.49 254.19 1054.16 254.17 1055.83 254.15C1057.50 254.13 1059.17 254.10 1060.84 254.08C1062.51 254.05 1064.18 254.03 1065.85 254.00C1067.52 253.97 1069.19 253.94 1070.86 253.91C1072.53 253.88 1074.20 253.84 1075.87 253.81C1077.54 253.77 1079.20 253.74 1080.87 253.70C1082.54 253.66 1084.21 253.62 1085.88 253.58C1087.55 253.54 1089.22 253.50 1090.89 253.45C1092.56 253.41 1094.23 253.36 1095.90 253.31C1097.57 253.27 1099.24 253.22 1100.91 253.16C1102.58 253.11 1104.24 253.06 1105.91 253.00C1107.58 252.95 1109.25 252.89 1110.92 252.83C1112.59 252.78 1114.26 252.72 1115.93 252.65C1117.60 252.59 1119.26 252.53 1120.93 252.46C1122.60 252.39 1124.27 252.33 1125.94 252.26C1127.61 252.19 1129.28 252.11 1130.95 252.04C1132.61 251.97 1134.28 251.89 1135.95 251.81C1137.62 251.74 1139.29 251.66 1140.96 251.57C1142.63 251.49 1144.29 251.41 1145.96 251.32C1147.63 251.24 1149.30 251.15 1150.97 251.06C1152.64 250.97 1154.30 250.88 1155.97 250.78C1157.64 250.69 1159.31 250.59 1160.98 250.50C1162.64 250.40 1164.31 250.30 1165.98 250.20C1167.65 250.09 1169.32 249.99 1170.98 249.88C1172.65 249.78 1174.32 249.67 1175.99 249.56C1177.65 249.44 1179.32 249.33 1180.99 249.22C1182.66 249.10 1184.33 248.98 1185.99 248.86C1187.66 248.74 1189.33 248.62 1190.99 248.49C1192.66 248.37 1194.33 248.24 1196.00 248.11C1197.66 247.98 1199.33 247.85 1201.00 247.72C1202.67 247.58 1204.33 247.45 1206.00 247.31C1207.67 247.17 1209.33 247.03 1211.00 246.89C1212.67 246.74 1214.33 246.60 1216.00 246.45C1217.67 246.30 1220.17 246.07 1221.00 246.00" fill="none" stroke="#3065a8" stroke-width="3.3" stroke-linejoin="round"/>
<clipPath id="early"><rect x="0" y="0" width="432" height="400"/></clipPath>
<path d="M198.95 52.53C199.19 53.15 199.91 55.00 200.37 56.24C200.83 57.49 201.27 58.75 201.71 60.01C202.14 61.27 202.57 62.54 203.00 63.81C203.43 65.08 203.85 66.36 204.29 67.63C204.73 68.90 205.17 70.17 205.64 71.43C206.10 72.69 206.58 73.95 207.09 75.18C207.61 76.41 208.15 77.64 208.75 78.82C209.35 80.01 210.00 81.17 210.69 82.30C211.39 83.43 212.14 84.52 212.93 85.59C213.72 86.65 214.56 87.69 215.43 88.69C216.30 89.70 217.21 90.67 218.14 91.62C219.08 92.56 220.05 93.48 221.04 94.36C222.03 95.25 223.04 96.11 224.08 96.94C225.11 97.78 226.17 98.58 227.24 99.36C228.31 100.15 229.41 100.91 230.51 101.65C231.62 102.39 232.74 103.11 233.87 103.81C235.01 104.52 236.16 105.20 237.31 105.88C238.47 106.55 239.64 107.21 240.82 107.86C242.00 108.51 243.18 109.14 244.37 109.78C245.56 110.41 246.76 111.03 247.96 111.65C249.16 112.27 250.37 112.88 251.57 113.50C252.78 114.11 253.99 114.72 255.19 115.34C256.39 115.95 257.60 116.57 258.80 117.19C260.00 117.81 261.20 118.44 262.38 119.08C263.57 119.71 264.76 120.35 265.93 121.01C267.11 121.66 268.28 122.33 269.43 123.01C270.59 123.69 271.73 124.38 272.86 125.10C273.99 125.81 275.11 126.54 276.22 127.29C277.32 128.03 278.42 128.79 279.50 129.57C280.59 130.34 281.66 131.13 282.73 131.93C283.80 132.72 284.85 133.53 285.91 134.34C286.97 135.15 288.02 135.97 289.07 136.79C290.11 137.62 291.16 138.44 292.20 139.27C293.25 140.09 294.29 140.92 295.34 141.75C296.39 142.57 297.44 143.39 298.49 144.21C299.55 145.02 300.61 145.83 301.67 146.63C302.74 147.43 303.81 148.23 304.89 149.01C305.97 149.79 307.07 150.56 308.17 151.31C309.27 152.07 310.38 152.81 311.50 153.54C312.62 154.27 313.74 154.99 314.87 155.70C316.00 156.42 317.13 157.12 318.26 157.82C319.39 158.51 320.52 159.20 321.65 159.89C322.77 160.58 323.89 161.26 325.01 161.95C326.13 162.64 327.24 163.32 328.34 164.01C329.45 164.70 330.55 165.39 331.65 166.10C332.74 166.80 333.83 167.51 334.92 168.24C336.00 168.96 337.08 169.70 338.15 170.45C339.22 171.21 340.29 171.98 341.35 172.77C342.41 173.57 343.47 174.38 344.51 175.22C345.56 176.06 346.60 176.93 347.64 177.81C348.68 178.70 349.71 179.61 350.74 180.54C351.77 181.46 352.79 182.40 353.82 183.35C354.85 184.29 355.87 185.25 356.90 186.20C357.92 187.16 358.95 188.12 359.98 189.07C361.01 190.02 362.04 190.97 363.08 191.91C364.12 192.84 365.17 193.77 366.22 194.68C367.27 195.58 368.33 196.47 369.39 197.34C370.46 198.20 371.54 199.04 372.62 199.86C373.70 200.69 374.80 201.49 375.90 202.26C376.99 203.04 378.10 203.80 379.22 204.54C380.33 205.28 381.46 205.99 382.59 206.69C383.71 207.39 384.85 208.07 386.00 208.72C387.14 209.38 388.29 210.02 389.45 210.64C390.61 211.27 391.78 211.87 392.95 212.45C394.12 213.04 395.30 213.61 396.48 214.16C397.67 214.71 398.86 215.24 400.06 215.76C401.25 216.27 402.46 216.77 403.67 217.26C404.88 217.74 406.09 218.21 407.31 218.66C408.53 219.12 409.76 219.55 410.99 219.98C412.22 220.40 413.46 220.81 414.70 221.20C415.94 221.59 417.19 221.97 418.44 222.34C419.70 222.71 420.95 223.06 422.21 223.40C423.48 223.74 424.74 224.07 426.01 224.38C427.28 224.70 428.56 225.00 429.84 225.29C431.12 225.58 432.40 225.86 433.69 226.13C434.97 226.40 436.27 226.66 437.56 226.91C438.85 227.15 440.15 227.39 441.45 227.62C442.76 227.85 444.06 228.06 445.37 228.27C446.68 228.48 447.99 228.68 449.30 228.87C450.62 229.06 451.93 229.24 453.25 229.42C454.57 229.59 455.89 229.76 457.22 229.92C458.54 230.08 459.87 230.23 461.20 230.38C462.53 230.52 463.86 230.66 465.19 230.80C466.52 230.93 467.86 231.06 469.19 231.18C470.53 231.30 471.87 231.41 473.21 231.53C474.55 231.64 475.89 231.74 477.23 231.85C478.57 231.95 479.92 232.05 481.26 232.14C482.60 232.24 483.95 232.33 485.29 232.42C486.64 232.51 487.98 232.59 489.33 232.68C490.68 232.76 492.02 232.84 493.37 232.92C494.72 233.00 496.06 233.08 497.41 233.15C498.76 233.23 500.10 233.31 501.45 233.38C502.80 233.46 504.14 233.53 505.49 233.61C506.83 233.68 508.18 233.75 509.52 233.83C510.87 233.90 512.21 233.97 513.56 234.04C514.90 234.11 516.25 234.18 517.59 234.25C518.93 234.32 520.28 234.39 521.62 234.46C522.97 234.53 524.31 234.60 525.65 234.67C526.99 234.73 528.34 234.80 529.68 234.87C531.02 234.93 532.36 235.00 533.71 235.07C535.05 235.13 536.39 235.20 537.73 235.26C539.07 235.32 540.42 235.39 541.76 235.45C543.10 235.51 544.44 235.57 545.78 235.64C547.12 235.70 548.46 235.76 549.80 235.82C551.14 235.88 552.48 235.94 553.82 236.00C555.16 236.06 556.50 236.12 557.84 236.18C559.18 236.24 560.52 236.29 561.86 236.35C563.20 236.41 564.53 236.47 565.87 236.52C567.21 236.58 568.55 236.63 569.89 236.69C571.23 236.75 572.56 236.80 573.90 236.85C575.24 236.91 576.58 236.96 577.91 237.02C579.25 237.07 580.59 237.12 581.93 237.18C583.26 237.23 584.60 237.28 585.94 237.33C587.27 237.38 588.61 237.43 589.95 237.48C591.28 237.54 592.62 237.59 593.95 237.64C595.29 237.69 596.63 237.73 597.96 237.78C599.30 237.83 600.63 237.88 601.97 237.93C603.30 237.98 604.64 238.02 605.97 238.07C607.31 238.12 608.64 238.17 609.98 238.21C611.31 238.26 612.65 238.30 613.98 238.35C615.32 238.39 616.65 238.44 617.99 238.48C619.32 238.53 620.65 238.57 621.99 238.62C623.32 238.66 624.66 238.71 625.99 238.75C627.32 238.79 628.66 238.83 629.99 238.88C631.32 238.92 632.66 238.96 633.99 239.00C635.32 239.04 636.66 239.09 637.99 239.13C639.32 239.17 640.66 239.21 641.99 239.25C643.32 239.29 644.66 239.33 645.99 239.37C647.32 239.41 648.65 239.45 649.99 239.49C651.32 239.53 652.65 239.57 653.98 239.60C655.32 239.64 656.65 239.68 657.98 239.72C659.31 239.76 660.64 239.80 661.98 239.83C663.31 239.87 664.64 239.91 665.97 239.94C667.30 239.98 668.64 240.02 669.97 240.05C671.30 240.09 672.63 240.13 673.96 240.16C675.29 240.20 676.63 240.23 677.96 240.27C679.29 240.30 680.62 240.34 681.95 240.37C683.28 240.41 684.61 240.44 685.95 240.48C687.28 240.51 688.61 240.54 689.94 240.58C691.27 240.61 692.60 240.65 693.93 240.68C695.26 240.71 696.60 240.75 697.93 240.78C699.26 240.81 700.59 240.85 701.92 240.88C703.25 240.91 704.58 240.94 705.91 240.98C707.24 241.01 708.58 241.04 709.91 241.07C711.24 241.10 712.57 241.14 713.90 241.17C715.23 241.20 716.56 241.23 717.89 241.26C719.22 241.29 720.55 241.32 721.89 241.35C723.22 241.39 724.55 241.42 725.88 241.45C727.21 241.48 728.54 241.51 729.87 241.54C731.20 241.57 732.53 241.60 733.86 241.63C735.20 241.66 736.53 241.69 737.86 241.72C739.19 241.75 740.52 241.78 741.85 241.81C743.18 241.84 744.51 241.87 745.85 241.90C747.18 241.93 748.51 241.96 749.84 241.99C751.17 242.02 752.50 242.05 753.83 242.08C755.16 242.11 756.50 242.14 757.83 242.17C759.16 242.20 760.49 242.22 761.82 242.25C763.15 242.28 764.49 242.31 765.82 242.34C767.15 242.37 768.48 242.40 769.81 242.43C771.14 242.46 772.48 242.49 773.81 242.52C775.14 242.54 776.47 242.57 777.80 242.60C779.14 242.63 780.47 242.66 781.80 242.69C783.13 242.72 784.47 242.75 785.80 242.78C787.13 242.81 788.46 242.83 789.80 242.86C791.13 242.89 792.46 242.92 793.79 242.95C795.13 242.98 796.46 243.01 797.79 243.04C799.13 243.07 800.46 243.10 801.79 243.13C803.13 243.15 804.46 243.18 805.79 243.21C807.13 243.24 808.46 243.27 809.79 243.30C811.13 243.33 812.46 243.36 813.80 243.39C815.13 243.42 816.46 243.45 817.80 243.48C819.13 243.51 820.47 243.54 821.80 243.57C823.14 243.60 824.47 243.63 825.81 243.66C827.14 243.69 828.48 243.72 829.81 243.75C831.15 243.78 832.48 243.81 833.82 243.84C835.15 243.87 836.49 243.90 837.82 243.93C839.16 243.96 840.49 243.99 841.83 244.02C843.16 244.05 844.50 244.08 845.84 244.11C847.17 244.14 848.51 244.17 849.84 244.20C851.18 244.23 852.52 244.26 853.85 244.29C855.19 244.32 856.52 244.35 857.86 244.37C859.20 244.40 860.53 244.43 861.87 244.46C863.21 244.49 864.54 244.52 865.88 244.54C867.22 244.57 868.55 244.60 869.89 244.62C871.23 244.65 872.57 244.68 873.90 244.70C875.24 244.73 876.58 244.76 877.91 244.78C879.25 244.81 880.59 244.83 881.93 244.86C883.26 244.88 884.60 244.91 885.94 244.93C887.27 244.95 888.61 244.98 889.95 245.00C891.29 245.02 892.62 245.05 893.96 245.07C895.30 245.09 896.64 245.11 897.97 245.13C899.31 245.15 900.65 245.17 901.99 245.19C903.33 245.21 904.66 245.23 906.00 245.25C907.34 245.27 908.68 245.28 910.01 245.30C911.35 245.32 912.69 245.33 914.03 245.35C915.37 245.36 916.70 245.38 918.04 245.39C919.38 245.41 920.72 245.42 922.05 245.43C923.39 245.45 924.73 245.46 926.07 245.47C927.41 245.48 928.74 245.49 930.08 245.50C931.42 245.51 932.76 245.52 934.09 245.52C935.43 245.53 936.77 245.54 938.11 245.54C939.45 245.55 940.78 245.55 942.12 245.56C943.46 245.56 944.80 245.57 946.13 245.57C947.47 245.57 948.81 245.57 950.15 245.57C951.48 245.57 952.82 245.57 954.16 245.57C955.50 245.57 956.83 245.56 958.17 245.56C959.51 245.55 960.85 245.55 962.18 245.54C963.52 245.54 964.86 245.53 966.20 245.52C967.53 245.51 968.87 245.50 970.21 245.49C971.54 245.48 972.88 245.47 974.22 245.45C975.56 245.44 976.89 245.43 978.23 245.41C979.57 245.39 980.90 245.38 982.24 245.36C983.58 245.34 984.91 245.32 986.25 245.30C987.59 245.28 988.92 245.26 990.26 245.23C991.60 245.21 992.93 245.18 994.27 245.16C995.60 245.13 996.94 245.10 998.28 245.07C999.61 245.04 1000.95 245.01 1002.28 244.98C1003.62 244.95 1004.96 244.92 1006.29 244.88C1007.63 244.85 1008.96 244.81 1010.30 244.77C1011.63 244.73 1012.97 244.69 1014.30 244.65C1015.64 244.61 1016.97 244.57 1018.31 244.52C1019.64 244.48 1020.98 244.43 1022.31 244.39C1023.65 244.34 1024.98 244.29 1026.32 244.24C1027.65 244.19 1028.99 244.13 1030.32 244.08C1031.65 244.03 1032.99 243.97 1034.32 243.91C1035.66 243.85 1036.99 243.80 1038.32 243.73C1039.66 243.67 1040.99 243.61 1042.32 243.55C1043.66 243.48 1044.99 243.41 1046.32 243.35C1047.66 243.28 1048.99 243.21 1050.32 243.14C1051.65 243.06 1052.99 242.99 1054.32 242.91C1055.65 242.84 1056.98 242.76 1058.31 242.68C1059.65 242.60 1060.98 242.52 1062.31 242.43C1063.64 242.35 1064.97 242.27 1066.30 242.18C1067.64 242.09 1068.97 242.00 1070.30 241.91C1071.63 241.82 1072.96 241.72 1074.29 241.63C1075.62 241.53 1076.95 241.43 1078.28 241.33C1079.61 241.23 1080.94 241.13 1082.27 241.03C1083.60 240.92 1084.93 240.82 1086.26 240.71C1087.59 240.60 1088.92 240.49 1090.25 240.38C1091.58 240.26 1092.90 240.15 1094.23 240.03C1095.56 239.91 1096.89 239.80 1098.22 239.67C1099.55 239.55 1100.87 239.43 1102.20 239.30C1103.53 239.18 1104.86 239.05 1106.18 238.92C1107.51 238.79 1108.84 238.65 1110.16 238.52C1111.49 238.39 1112.82 238.25 1114.14 238.11C1115.47 237.97 1116.80 237.83 1118.12 237.69C1119.45 237.55 1120.77 237.40 1122.10 237.25C1123.42 237.11 1124.75 236.96 1126.08 236.81C1127.40 236.66 1128.73 236.51 1130.05 236.35C1131.38 236.20 1132.70 236.04 1134.02 235.89C1135.35 235.73 1136.67 235.57 1138.00 235.41C1139.32 235.25 1140.65 235.08 1141.97 234.92C1143.29 234.75 1144.62 234.59 1145.94 234.42C1147.26 234.25 1148.59 234.08 1149.91 233.91C1151.23 233.74 1152.56 233.57 1153.88 233.39C1155.20 233.22 1156.53 233.04 1157.85 232.87C1159.17 232.69 1160.49 232.51 1161.81 232.33C1163.14 232.15 1164.46 231.97 1165.78 231.79C1167.10 231.60 1168.43 231.42 1169.75 231.23C1171.07 231.05 1172.39 230.86 1173.71 230.67C1175.03 230.48 1176.35 230.29 1177.68 230.10C1179.00 229.91 1180.32 229.72 1181.64 229.52C1182.96 229.33 1184.28 229.14 1185.60 228.94C1186.92 228.74 1188.24 228.55 1189.56 228.35C1190.88 228.15 1192.20 227.95 1193.52 227.75C1194.84 227.55 1196.16 227.35 1197.48 227.14C1198.80 226.94 1200.12 226.74 1201.44 226.53C1202.76 226.33 1204.08 226.12 1205.40 225.91C1206.72 225.71 1208.04 225.50 1209.36 225.29C1210.68 225.08 1212.00 224.87 1213.32 224.66C1214.64 224.45 1215.96 224.24 1217.28 224.03C1218.60 223.82 1219.91 223.60 1221.23 223.39C1222.55 223.18 1223.87 222.96 1225.19 222.75C1226.51 222.53 1227.83 222.32 1229.15 222.10C1230.46 221.88 1231.78 221.67 1233.10 221.45C1234.42 221.23 1235.74 221.01 1237.06 220.79C1238.37 220.57 1239.69 220.35 1241.01 220.13C1242.33 219.91 1243.65 219.69 1244.96 219.47C1246.28 219.25 1247.60 219.03 1248.92 218.81C1250.24 218.58 1251.55 218.36 1252.87 218.14C1254.19 217.91 1255.51 217.69 1256.83 217.47C1258.14 217.24 1259.46 217.02 1260.78 216.79C1262.10 216.57 1263.41 216.35 1264.73 216.12C1266.05 215.90 1267.37 215.67 1268.68 215.44C1270.00 215.22 1271.32 214.99 1272.64 214.77C1273.95 214.54 1275.27 214.32 1276.59 214.09C1277.91 213.86 1279.22 213.64 1280.54 213.41C1281.86 213.18 1283.18 212.96 1284.49 212.73C1285.81 212.50 1287.13 212.28 1288.45 212.05C1289.76 211.82 1291.08 211.60 1292.40 211.37C1293.72 211.14 1295.03 210.92 1296.35 210.69C1297.67 210.47 1298.99 210.24 1300.30 210.01C1301.62 209.79 1302.94 209.56 1304.26 209.34C1305.57 209.11 1306.89 208.88 1308.21 208.66C1309.52 208.43 1310.84 208.21 1312.16 207.98C1313.48 207.76 1314.79 207.53 1316.11 207.31C1317.43 207.09 1318.75 206.86 1320.06 206.64C1321.38 206.41 1322.70 206.19 1324.02 205.97C1325.34 205.75 1326.65 205.52 1327.97 205.30C1329.29 205.08 1330.61 204.86 1331.92 204.64C1333.24 204.42 1334.56 204.20 1335.88 203.98C1337.19 203.76 1338.51 203.54 1339.83 203.32C1341.15 203.10 1342.47 202.88 1343.78 202.67C1345.10 202.45 1346.42 202.23 1347.74 202.02C1349.06 201.80 1350.38 201.59 1351.69 201.37C1353.01 201.16 1354.33 200.94 1355.65 200.73C1356.97 200.52 1358.29 200.31 1359.60 200.09C1360.92 199.88 1362.24 199.67 1363.56 199.46C1364.88 199.25 1366.20 199.04 1367.52 198.84C1368.83 198.63 1370.15 198.42 1371.47 198.22C1372.79 198.01 1374.11 197.81 1375.43 197.60C1376.75 197.40 1378.07 197.20 1379.39 196.99C1380.71 196.79 1382.03 196.59 1383.35 196.39C1384.67 196.19 1385.99 195.99 1387.30 195.80C1388.62 195.60 1389.94 195.40 1391.26 195.21C1392.58 195.01 1393.90 194.82 1395.22 194.63C1396.54 194.43 1397.87 194.24 1399.19 194.05C1400.51 193.86 1401.83 193.67 1403.15 193.49C1404.47 193.30 1405.79 193.11 1407.11 192.93C1408.43 192.75 1409.75 192.56 1411.07 192.38C1412.39 192.20 1413.71 192.02 1415.04 191.84C1416.36 191.66 1418.34 191.40 1419.00 191.31C1419.66 191.22 1419.00 191.31 1419.00 191.31" clip-path="url(#early)" fill="none" stroke="#000" stroke-opacity="0.45" stroke-width="4" stroke-dasharray="21.8 17.8" stroke-dashoffset="39.05"/>
</g>
<g transform="translate(128.14 909.70) scale(1 1.040)"><text x="0.00" y="0" font-size="42">0</text></g>
<g transform="translate(177.02 959.00) scale(1 1.040)"><text x="0.00" y="0" font-size="42">0</text></g>
<g transform="translate(128.14 767.98) scale(1 1.040)"><text x="0.00" y="0" font-size="42">5</text></g>
<g transform="translate(384.62 959.00) scale(1 1.040)"><text x="0.00" y="0" font-size="42">2</text></g>
<g transform="translate(104.78 626.27) scale(1 1.040)"><path class="one" vector-effect="non-scaling-stroke" d="M763 0L583 0L583 1147Q518 1085 412.5 1023Q307 961 223 930L223 1104Q374 1175 486.5 1276Q599 1377 646 1466L763 1466Z" transform="translate(0.00 0) scale(0.02051 -0.02051)"/><text x="23.36" y="0" font-size="42">0</text></g>
<g transform="translate(592.22 959.00) scale(1 1.040)"><text x="0.00" y="0" font-size="42">4</text></g>
<g transform="translate(104.78 484.55) scale(1 1.040)"><path class="one" vector-effect="non-scaling-stroke" d="M763 0L583 0L583 1147Q518 1085 412.5 1023Q307 961 223 930L223 1104Q374 1175 486.5 1276Q599 1377 646 1466L763 1466Z" transform="translate(0.00 0) scale(0.02051 -0.02051)"/><text x="23.36" y="0" font-size="42">5</text></g>
<g transform="translate(799.82 959.00) scale(1 1.040)"><text x="0.00" y="0" font-size="42">6</text></g>
<g transform="translate(104.78 342.83) scale(1 1.040)"><text x="0.00" y="0" font-size="42">2</text><text x="23.36" y="0" font-size="42">0</text></g>
<g transform="translate(1007.42 959.00) scale(1 1.040)"><text x="0.00" y="0" font-size="42">8</text></g>
<g transform="translate(104.78 201.12) scale(1 1.040)"><text x="0.00" y="0" font-size="42">2</text><text x="23.36" y="0" font-size="42">5</text></g>
<g transform="translate(1203.34 959.00) scale(1 1.040)"><path class="one" vector-effect="non-scaling-stroke" d="M763 0L583 0L583 1147Q518 1085 412.5 1023Q307 961 223 930L223 1104Q374 1175 486.5 1276Q599 1377 646 1466L763 1466Z" transform="translate(0.00 0) scale(0.02051 -0.02051)"/><text x="23.36" y="0" font-size="42">0</text></g>
<g transform="translate(104.78 59.40) scale(1 1.040)"><text x="0.00" y="0" font-size="42">3</text><text x="23.36" y="0" font-size="42">0</text></g>
<g transform="translate(1410.94 959.00) scale(1 1.040)"><path class="one" vector-effect="non-scaling-stroke" d="M763 0L583 0L583 1147Q518 1085 412.5 1023Q307 961 223 930L223 1104Q374 1175 486.5 1276Q599 1377 646 1466L763 1466Z" transform="translate(0.00 0) scale(0.02051 -0.02051)"/><text x="23.36" y="0" font-size="42">2</text></g>
<g id="l1" transform="translate(1445.00 243.20) scale(1 1.040)"><path class="one" vector-effect="non-scaling-stroke" d="M763 0L583 0L583 1147Q518 1085 412.5 1023Q307 961 223 930L223 1104Q374 1175 486.5 1276Q599 1377 646 1466L763 1466Z" transform="translate(0.00 0) scale(0.02246 -0.02246)"/></g>
<g id="l2" transform="translate(1242.00 277.20) scale(1 1.040)"><text x="0.00" y="0" font-size="46">2</text></g>
<g id="l3" transform="translate(1382.00 411.50) scale(1 1.040)"><text x="0.00" y="0" font-size="46">3</text></g>
<g id="l4" transform="translate(1384.50 611.20) scale(1 1.040)"><text x="0.00" y="0" font-size="46">4</text></g>
<g id="l5" transform="translate(1284.00 826.30) scale(1 1.040)"><text x="0.00" y="0" font-size="56">5</text></g>
<g id="l6" transform="translate(1176.50 886.40) scale(1 1.040)"><text x="0.00" y="0" font-size="46">6</text></g>
<g id="l0" transform="translate(1428.00 194.00) scale(1 1.040)"><text x="0.00" y="0" font-size="57">0</text></g>
<g transform="translate(1228.8 209.6) rotate(-11.5) scale(1 1.02)"><text font-size="46" x="0" y="0">z</text></g>
<path d="M1263 191.1 L1304.3 182.4 M1293.5 176.6 L1304.8 182.3 L1297.5 191.1" fill="none" stroke="#000" stroke-width="2.2" stroke-linecap="round"/>
<g transform="translate(1322.2 189.9) rotate(-11.5) scale(1 1.040)"><path class="one" vector-effect="non-scaling-stroke" d="M763 0L583 0L583 1147Q518 1085 412.5 1023Q307 961 223 930L223 1104Q374 1175 486.5 1276Q599 1377 646 1466L763 1466Z" transform="scale(0.02246 -0.02246)"/></g>
<!-- axis titles -->
<text id="ytitle" transform="translate(74.5 347) rotate(-90)" font-size="56"><tspan font-style="italic">q</tspan><tspan font-size="38" dy="13.5">st</tspan><tspan dy="-13.5">, kJ/mol</tspan></text>
<text id="xtitle" x="967.6" y="1021" font-size="56"><tspan font-style="italic">a</tspan>, mmol/g</text>
</g>
</svg>
</body>
</html>
